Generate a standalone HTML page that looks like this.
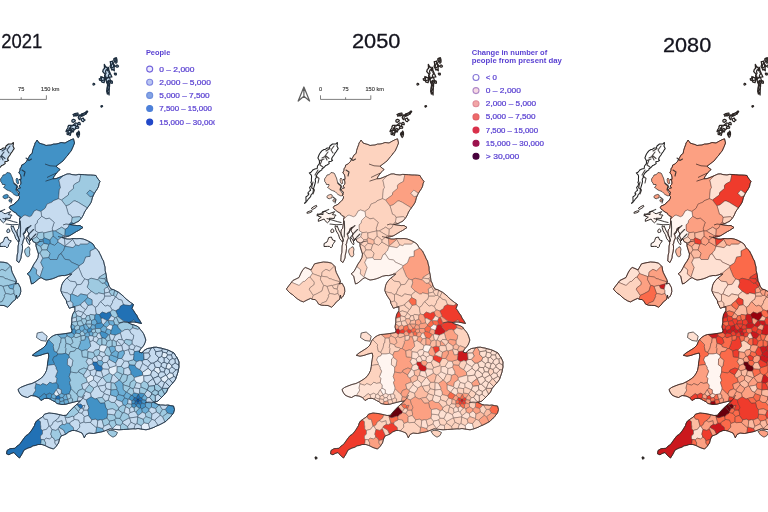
<!DOCTYPE html>
<html><head><meta charset="utf-8"><title>Population maps</title>
<style>
html,body{margin:0;padding:0;background:#fff;}
body{width:768px;height:512px;overflow:hidden;font-family:"Liberation Sans",sans-serif;}
svg{display:block;filter:blur(0.4px)}
.t{font-family:"Liberation Sans",sans-serif;font-size:20.5px;fill:#14141e;stroke:#14141e;stroke-width:0.3px;}
.lg{font-family:"Liberation Sans",sans-serif;font-size:7.2px;fill:#5a41d2;stroke:#5a41d2;stroke-width:0.22px;}
.lgt{font-family:"Liberation Sans",sans-serif;font-size:7.2px;font-weight:bold;fill:#5a41d2;}
.sb{font-family:"Liberation Sans",sans-serif;font-size:5.6px;fill:#3a3a3a;stroke:#3a3a3a;stroke-width:0.15px;}
</style></head><body>
<svg width="768" height="512" viewBox="0 0 768 512">
<rect width="768" height="512" fill="#ffffff"/>
<g transform="translate(-324.0,0)" stroke="#24384d" stroke-width="0.45" stroke-linejoin="round">
<path d="M361.0,140.0 362.4,141.9 363.0,143.0 366.0,144.0 368.0,144.5 370.0,145.5 372.1,145.2 375.0,145.0 377.4,144.1 380.0,144.0 382.1,143.6 385.0,142.5 389.0,143.0 392.5,141.0 395.1,139.7 397.5,138.8 398.5,143.0 397.2,146.4 396.0,149.0 395.0,151.3 393.2,153.0 392.0,155.0 390.5,156.6 388.7,158.8 387.0,161.0 385.3,162.2 383.0,164.0 380.0,166.2 382.1,168.1 384.0,169.5 382.0,171.6 380.5,173.0 378.0,176.5 377.0,178.8 380.0,178.6 383.0,177.5 387.0,175.8 391.0,174.0 393.8,173.9 396.0,174.6 400.0,175.0 402.7,174.4 405.0,174.5 408.5,174.7 412.0,175.0 414.4,175.0 417.6,175.2 420.0,175.5 421.1,177.7 422.6,179.7 424.0,181.5 423.0,183.7 422.6,186.2 421.5,188.5 420.2,190.5 418.4,193.2 417.5,195.0 416.3,197.8 415.7,200.4 415.0,202.5 413.4,205.1 412.0,207.0 410.3,209.3 408.5,212.0 407.4,214.8 406.0,217.3 403.0,221.0 400.6,222.2 398.0,223.5 394.0,224.5 396.3,225.0 399.0,225.3 401.2,225.6 404.0,225.5 407.0,227.5 404.9,228.9 402.5,230.5 400.5,231.5 398.0,233.0 394.0,235.5 391.4,236.5 389.0,237.0 386.0,237.5 388.4,238.4 391.0,239.0 394.1,239.1 397.0,238.5 400.9,238.7 404.0,238.5 407.2,239.0 410.0,240.0 414.0,242.0 417.0,244.0 419.0,247.5 420.9,249.5 422.5,251.0 423.7,253.5 425.0,256.0 426.2,258.9 427.5,261.0 428.1,263.9 429.0,267.0 429.1,270.4 430.0,274.0 430.6,277.8 431.0,281.0 432.3,283.4 433.0,286.0 435.0,289.0 437.9,289.8 440.0,291.0 442.3,292.1 443.9,293.3 446.0,295.0 448.3,297.1 449.7,298.7 452.0,300.5 454.6,302.5 457.5,304.5 456.0,308.5 457.5,310.4 459.0,313.0 460.8,315.3 462.0,318.0 463.7,320.4 465.5,323.5 461.0,322.5 458.1,322.0 456.0,322.0 452.0,322.5 454.9,324.1 458.0,325.0 460.6,326.0 462.5,327.0 464.2,329.4 466.0,331.5 467.5,333.6 468.5,336.0 469.8,340.0 469.1,342.4 468.0,345.0 466.3,347.2 464.5,349.0 463.0,352.0 466.0,353.0 468.0,350.5 471.5,348.5 474.5,348.1 477.5,347.3 480.4,347.2 483.0,347.8 485.1,348.1 488.0,349.0 490.3,349.5 493.0,350.5 495.1,351.5 498.0,353.0 499.7,355.8 501.3,358.0 503.0,362.0 502.9,364.4 503.0,367.0 502.4,369.6 502.0,372.0 500.5,376.5 499.5,379.4 498.0,381.5 496.2,383.7 494.5,385.5 492.0,388.5 490.5,392.0 487.5,395.5 484.5,398.5 482.0,401.0 478.0,402.5 482.0,404.5 484.4,405.0 487.0,405.0 489.3,405.3 492.0,405.0 494.8,405.7 497.5,406.0 498.5,409.5 497.5,413.0 495.8,415.1 494.0,417.5 492.0,419.0 490.0,421.3 486.0,423.5 483.0,425.0 480.1,426.2 478.0,427.3 474.0,428.8 470.0,429.8 466.0,429.2 462.0,428.5 459.5,428.9 457.0,428.8 454.1,429.0 452.0,429.2 447.5,429.5 443.0,429.8 438.5,429.3 434.0,428.8 431.0,430.0 427.0,431.5 424.5,432.1 422.0,432.5 417.5,433.5 413.0,433.0 410.0,434.5 408.3,437.8 407.3,435.4 406.0,433.0 403.6,432.0 401.0,431.0 398.6,430.5 396.0,430.5 392.5,432.0 390.0,434.0 387.5,435.1 385.0,436.0 383.5,439.0 382.5,443.0 380.0,446.5 377.5,449.0 373.0,447.5 369.0,445.5 366.0,444.5 362.0,444.5 359.3,445.5 357.0,445.8 354.7,447.3 352.0,448.0 348.0,450.0 346.0,454.0 343.5,458.0 340.5,455.5 338.0,452.5 335.0,453.5 333.0,454.8 330.5,453.8 331.0,450.5 334.0,448.7 336.3,448.5 339.0,448.3 341.1,446.0 343.5,444.5 346.0,441.0 348.5,437.5 350.1,435.6 352.5,434.2 354.4,431.8 355.8,430.0 357.3,427.5 358.5,425.5 359.2,423.0 360.5,421.0 364.0,418.5 366.5,417.0 368.5,414.2 373.0,413.0 375.6,413.3 378.0,413.5 382.0,414.3 384.5,414.9 387.0,415.5 390.5,415.3 392.5,412.5 395.5,409.3 398.5,406.3 401.5,403.8 404.5,401.0 401.0,401.3 397.0,402.3 393.0,403.3 390.0,404.2 386.0,404.5 383.3,404.0 381.0,403.5 379.1,401.8 376.5,400.5 374.4,399.2 372.0,398.3 368.5,398.5 365.0,400.5 362.5,397.5 359.0,396.0 355.0,395.5 351.5,397.5 348.0,396.5 345.0,395.0 343.0,392.0 342.0,389.5 344.5,387.5 348.0,386.0 352.0,384.5 356.0,383.5 360.0,381.5 364.0,379.0 367.0,376.5 369.0,373.5 370.5,370.5 371.3,366.5 371.6,363.0 372.2,359.5 372.8,356.0 372.2,353.0 368.0,354.0 364.0,355.4 360.0,356.2 356.3,355.3 359.0,353.0 363.0,350.5 367.0,348.0 370.0,345.0 371.5,341.0 374.5,337.5 377.5,335.6 380.5,334.5 384.0,334.3 388.0,333.8 392.0,333.2 395.5,332.6 396.0,330.5 395.0,327.0 395.8,322.3 395.8,318.4 396.6,314.5 398.9,310.6 398.9,306.7 395.9,307.4 393.4,308.3 391.9,305.2 390.8,303.2 390.3,300.5 388.6,297.9 387.2,295.8 385.6,292.7 384.8,290.3 385.6,285.6 386.6,283.2 388.0,281.0 391.0,277.8 393.5,276.2 395.8,273.9 393.7,274.2 391.0,275.0 388.6,275.6 386.0,275.5 382.5,276.2 379.0,277.8 376.2,278.8 373.0,279.6 370.0,280.0 367.4,278.9 365.0,277.5 362.5,279.0 360.0,281.2 358.0,282.9 355.5,284.0 354.5,280.0 353.8,276.2 351.2,273.8 354.0,271.5 356.2,267.5 358.0,264.0 360.0,261.2 362.0,257.5 362.5,254.0 361.2,250.0 360.0,246.0 360.0,243.0 357.0,241.5 355.5,238.0 354.5,240.5 353.5,238.2 352.5,236.0 353.0,234.1 352.3,232.5 351.0,231.0 351.5,228.7 352.5,227.0 350.5,228.0 349.9,229.0 349.5,231.5 349.1,233.0 347.5,234.1 348.0,236.5 348.4,237.9 347.0,241.0 346.6,243.7 345.8,244.1 346.5,246.0 346.5,248.6 346.0,252.0 345.2,255.3 345.0,258.0 344.1,260.1 343.0,262.5 340.8,261.0 341.0,257.8 341.2,255.0 341.9,252.4 342.0,249.0 342.1,246.0 342.8,243.0 342.0,241.1 343.1,240.1 342.5,238.0 341.1,235.4 341.0,233.5 341.1,231.2 341.5,229.5 342.7,228.4 343.0,226.0 343.5,223.0 343.5,220.5 343.6,218.5 344.5,216.8 341.8,215.4 341.0,214.5 340.5,213.3 338.0,212.0 336.9,211.2 335.5,210.0 334.5,209.5 333.3,207.6 334.1,206.0 336.0,205.3 338.4,204.1 339.0,203.0 341.5,201.0 342.0,200.5 343.5,198.0 343.4,196.4 342.0,195.0 342.7,194.3 343.5,192.0 341.7,190.8 341.5,189.5 342.4,188.4 344.5,188.0 343.0,186.0 344.7,184.3 345.0,183.0 344.6,180.2 343.0,179.5 345.1,179.3 345.0,177.0 344.3,174.3 342.8,173.0 343.9,170.5 344.1,168.3 345.2,167.5 345.7,165.0 348.0,164.0 348.7,163.3 350.7,161.2 351.3,159.8 353.0,157.0 354.2,154.8 356.2,153.4 356.6,150.6 357.7,147.2 358.8,144.4 359.0,143.0 360.6,141.1Z" fill="#c6dbef"/>
<path d="M286.4,289.0 289.0,285.5 292.9,280.5 296.0,279.0 299.0,277.5 301.0,273.0 303.0,269.5 305.2,267.5 308.0,268.5 311.0,270.0 313.0,266.5 314.6,263.8 319.0,262.8 323.4,262.0 328.0,262.3 331.6,263.2 335.1,266.7 335.5,270.0 336.3,272.6 338.0,276.0 339.8,279.6 340.5,282.0 339.0,284.0 342.1,283.3 344.5,287.8 344.8,291.5 343.9,294.9 342.5,297.0 341.0,298.4 340.5,295.0 339.5,299.5 336.3,301.9 334.0,305.0 331.6,307.2 328.0,305.5 324.5,305.4 321.5,305.2 318.7,304.2 317.0,301.5 315.2,299.5 313.0,299.5 310.5,298.4 307.0,300.0 303.4,301.9 300.5,300.8 297.6,299.0 295.0,297.0 292.9,294.9 290.0,293.0 288.0,291.0Z" fill="#c6dbef"/>
<path d="M417,361.9 416.2,363.9 418.3,366.4 418.6,369.2 419.7,369.8 420.5,370.9 425.3,371.3 426.8,368.7 425.6,365.9 423.8,365.7 421.8,364.3 421.1,362Z" fill="#2171b5"/>
<path d="M441.7,357.5 434.9,354.9 433,356.4 433,359.5 439.7,363.2 442.2,358.4Z" fill="#6baed6"/>
<path d="M436,346 432.7,347.2 435.3,353.6 439.6,350.4 439.1,346.7Z" fill="#6baed6"/>
<path d="M435.3,353.6 432.7,347.2 431,346.7 428.2,352.2 429.8,355.2 433,356.4 434.9,354.9Z" fill="#9ecae1"/>
<path d="M453.2,364.6 452.5,367.2 454.7,371.5 454.8,374.1 456.5,375.1 458.3,377.6 466.8,375.2 466.4,372.3 463.9,369.4 463.4,369.4 459.8,367.3 459,365.2Z" fill="#4292c6"/>
<path d="M458.3,377.6 456.5,375.1 454.8,374.1 451.5,375.2 450.5,380.5 446.7,383.1 446.8,384.3 447.2,384.8 453.6,386.8 454.4,382.4 458.3,379.8Z" fill="#9ecae1"/>
<path d="M443.1,380.1 438.4,383.2 440.9,388 440.6,389.4 442.2,392.1 442.2,394.6 447.9,396 450.3,392.1 447.3,389.6 447.2,384.8 446.8,384.3 446.7,383.1 443.7,380.2Z" fill="#6baed6"/>
<path d="M447.9,396 442.2,394.6 440.4,396.7 440.5,399.7 446.1,401.8 448.7,397.9Z" fill="#6baed6"/>
<path d="M432.3,400.1 429.3,401.1 428.5,402.7 429.9,408.2 431.3,409.3 431.5,409.6 436.6,408.8 440.3,410.8 442.3,409.9 442.9,407.5 438.7,402.4 438.4,402.5 435.3,402.3Z" fill="#9ecae1"/>
<path d="M422.4,386.3 421.4,385.8 417.6,388 417.1,389.9 414.5,393.1 415,396.7 419,399.1 420.9,398.6 421.4,398.1 426.3,397.3 428.3,393.7 427.7,392.2 424.9,391.1Z" fill="#c6dbef"/>
<path d="M409.1,405.2 406.6,405.6 405.9,408.3 407.4,409.4Z" fill="#c6dbef"/>
<path d="M497.5,413 498.5,409.5 497.5,406 494.8,405.7 492.3,405.1 492.2,405.6 489.2,409.3 491.3,413.1 496.4,414.3Z" fill="#4292c6"/>
<path d="M484.1,415.3 486.5,416.8 491.3,413.1 489.2,409.3 486.4,409.4 483.7,414Z" fill="#9ecae1"/>
<path d="M491.3,413.1 486.5,416.8 488.9,421.9 490,421.3 492,419 494,417.5 496.4,414.3Z" fill="#9ecae1"/>
<path d="M479.4,401.1 477.1,401.6 475.6,403.1 475.3,407.3 479.7,408.6 483.2,404.7 482,404.5 478,402.5 480.6,401.5Z" fill="#6baed6"/>
<path d="M452.1,361.4 453.2,364.6 459,365.2 460.6,361.7 457.5,359.6 452.2,361.2Z" fill="#9ecae1"/>
<path d="M460.1,401.1 462,402.5 463.8,400.9 462.9,399 461.1,399Z" fill="#08519c"/>
<path d="M458,397.6 457.4,400 459.3,401.2 460.1,401.1 461.1,399 460.2,397.7Z" fill="#2171b5"/>
<path d="M462.9,399 463.8,400.9 465.4,401.3 466.7,399.6 466,397.9 464,397.4Z" fill="#2171b5"/>
<path d="M458.3,403.7 460.2,405.2 462,403.5 462,402.5 460.1,401.1 459.3,401.2Z" fill="#2171b5"/>
<path d="M462,403.5 464.5,404.8 466.2,403.3 465.4,401.3 463.8,400.9 462,402.5Z" fill="#2171b5"/>
<path d="M462.5,393.8 460.2,397.7 461.1,399 462.9,399 464,397.4Z" fill="#2171b5"/>
<path d="M457.4,400 455.7,400.7 455.7,404 458.3,403.7 459.3,401.2Z" fill="#4292c6"/>
<path d="M466.7,399.6 465.4,401.3 466.2,403.3 469.4,404.1 470.5,402.4 470.1,400.1Z" fill="#4292c6"/>
<path d="M460.2,405.2 460.2,406.2 463.2,408.2 464.5,408.1 464.5,404.8 462,403.5Z" fill="#4292c6"/>
<path d="M462.5,393.8 457.9,392.7 456,394.9 458,397.6 460.2,397.7Z" fill="#4292c6"/>
<path d="M466,397.9 468.7,394.5 468.6,393.8 463.6,392.9 462.5,393.8 464,397.4Z" fill="#4292c6"/>
<path d="M456,394.9 455.1,395.1 452.6,398.9 455.7,400.7 457.4,400 458,397.6Z" fill="#4292c6"/>
<path d="M466,397.9 466.7,399.6 470.1,400.1 471.3,397.7 468.7,394.5Z" fill="#6baed6"/>
<path d="M455.7,404 455.5,404.3 455.8,406.8 458,408 460.2,406.2 460.2,405.2 458.3,403.7Z" fill="#4292c6"/>
<path d="M464.5,408.1 465.9,408.9 469.6,406.8 469.4,404.1 466.2,403.3 464.5,404.8Z" fill="#4292c6"/>
<path d="M448.4,353.5 445.6,358.6 448.4,361.1 452.1,361.4 452.2,361.2 457.5,359.6 458.1,354.9 457.8,354.5 454.3,354.8 452.5,349.5 447.9,351Z" fill="#c6dbef"/>
<path d="M440.6,345.6 445.7,345.7 445.9,345.4 441.2,340.8 440.1,341.6Z" fill="#c6dbef"/>
<path d="M474.2,356 471.2,359.4 474.9,363.3 477.9,363.1 478.4,362.4 481.8,360.7 482.8,357.6 479.6,354.3 479.8,351.7 477.2,347.4 475.3,347.9 472.6,352.8Z" fill="#c6dbef" stroke-width="0.6"/>
<path d="M478.4,385.7 479.8,384.2 477.1,378.4 471.4,383 472.8,386.3Z" fill="#c6dbef" stroke-width="0.6"/>
<path d="M429,267 428.1,263.9 427.5,261 426.2,258.9 425,256 422.5,251 419.6,248.1 414,250.9 414,256.3 409.6,256.9 407.4,262.8 402.9,265.8 402.5,267.1 406.4,276.6 407.3,277.3 408.7,279 412,279.9 415,278.2 421.4,279.8 422.1,279.6 423,278.1 423.2,277.2 429.8,273.1 429.1,270.4Z" fill="#c6dbef"/>
<path d="M428.9,278.9 430.4,276.6 429.8,273.1 423.2,277.2 423,278.1Z" fill="#9ecae1"/>
<path d="M428.9,278.9 429.9,281.2 431,281 430.4,276.6Z" fill="#9ecae1"/>
<path d="M422.1,279.6 425.9,283.4 428.6,283.2 429.9,281.2 428.9,278.9 423,278.1Z" fill="#9ecae1"/>
<path d="M431.6,286.7 432.9,285.7 432.3,283.4 431,281 429.9,281.2 428.6,283.2Z" fill="#6baed6"/>
<path d="M431.5,286.9 431.6,286.7 428.6,283.2 425.9,283.4 422.1,279.6 421.4,279.8 415,278.2 412,279.9 412.7,282.9 411.1,287.1 415.4,291.4 415.6,291.4 419.7,294.1 421.4,293.9 422.6,292.9 428.2,294 428.7,293.2 428.3,289Z" fill="#9ecae1"/>
<path d="M433.3,292.1 433.7,290.4 431.5,286.9 428.3,289 428.7,293.2Z" fill="#c6dbef"/>
<path d="M431.6,286.7 431.5,286.9 433.7,290.4 437.1,289.6 435,289 433,286 432.9,285.7Z" fill="#c6dbef"/>
<path d="M437.6,295.5 438.7,290.3 437.9,289.8 437.1,289.6 433.7,290.4 433.3,292.1 435.4,295.5Z" fill="#9ecae1"/>
<path d="M437.6,295.5 439.5,297 439.8,297 442.2,292.1 438.7,290.3Z" fill="#9ecae1"/>
<path d="M428.7,296.2 434.6,296.2 435.4,295.5 433.3,292.1 428.7,293.2 428.2,294Z" fill="#c6dbef"/>
<path d="M402.5,267.1 395.3,273 393.5,273.5 392.4,274.6 393.7,274.2 395.8,273.9 393.5,276.2 390.9,277.9 394.2,281.2 399.4,281.8 400.8,284.9 405.2,284.3 408.7,279 407.3,277.3 406.4,276.6Z" fill="#c6dbef"/>
<path d="M399.4,287.7 400.8,284.9 399.4,281.8 394.2,281.2 390.9,277.9 388,281 386.6,283.2 385.6,285.6 384.8,290.3 385.3,291.8 391.8,293.1 392.9,294.1 394.5,294.6 396,294 398.5,288.1Z" fill="#c6dbef"/>
<path d="M405.2,284.3 400.8,284.9 399.4,287.7 398.5,288.1 396,294 401.5,296.4 402.9,295.9 404.5,293.9 411.4,295.3 411.8,294.4 415.4,291.4 411.1,287.1 412.7,282.9 412,279.9 408.7,279Z" fill="#c6dbef"/>
<path d="M391.8,293.1 385.3,291.8 385.6,292.7 387.2,295.8 390.3,300.5 390.6,302.1 394.5,301 394.5,294.6 392.9,294.1Z" fill="#c6dbef"/>
<path d="M411.6,297.5 411.4,295.3 404.5,293.9 402.9,295.9 401.5,296.4 396,294 394.5,294.6 394.5,301 396.7,303.2 396.9,307.1 404.8,304.8 405,303.8 408.2,301.2 408.6,301.1Z" fill="#6baed6"/>
<path d="M396.9,307.2 396.7,303.2 394.5,301 390.6,302.1 390.8,303.2 393.4,308.3 395.9,307.4Z" fill="#c6dbef"/>
<path d="M411.4,295.3 411.6,297.5 416,299.8 416,304.6 419.3,307.3 421.1,306.5 424.2,302.1 424.8,301.8 425.1,301.2 427.9,299.2 428.7,296.2 428.2,294 422.6,292.9 421.4,293.9 419.7,294.1 415.6,291.4 411.8,294.4Z" fill="#c6dbef"/>
<path d="M439.5,297 437.6,295.5 435.4,295.5 434.6,296.2 428.7,296.2 427.9,299.2 425.1,301.2 424.8,301.8 429.2,306.2 431.6,305.3 434.2,306.6 436.6,302.6 436.2,302Z" fill="#c6dbef"/>
<path d="M442.1,299.2 445.8,300.2 447.4,304.6 449,305 449.1,305.1 453.9,305.6 456.6,303.9 454.6,302.5 449.7,298.7 448.3,297.1 446,295 442.2,292.1 439.8,297 441.1,297.7Z" fill="#c6dbef"/>
<path d="M447.4,304.6 445.8,300.2 442.1,299.2 441.1,297.7 439.5,297 436.2,302 436.6,302.6 434.2,306.6 436.2,310.2 437.1,310 439.7,310.9 443.6,308.6 444.3,306.3Z" fill="#c6dbef"/>
<path d="M449,305 447.4,304.6 444.3,306.3 443.6,308.6 439.7,310.9 441.7,315.4 441.4,316.3 447.7,321.1 447.8,321.4 451.6,321.9 452.2,322.5 454.1,322.2 458,319.9 459.3,322.2 465.5,323.5 463.7,320.4 462,318 460.8,315.3 459,313 457.5,310.4 456,308.5 457.5,304.5 456.6,303.9 453.9,305.6 449.1,305.1Z" fill="#2171b5"/>
<path d="M411.9,305.3 410.2,309.1 409.4,309.4 407.4,312.6 407.4,313 410.8,315.9 413.4,315.4 414.3,314.4 419,315.2 420.4,314.1 419.3,307.3 416,304.6Z" fill="#c6dbef"/>
<path d="M434,312.1 436.2,310.2 434.2,306.6 431.6,305.3 429.2,306.2 424.8,301.8 424.2,302.1 421.1,306.5 419.3,307.3 420.4,314.1 423.3,314.7 426.3,312.1 430.2,313.5 432.7,312.2Z" fill="#c6dbef"/>
<path d="M396.9,307.1 396.9,307.2 398.9,306.7 398.9,310.6 398.4,311.4 399.3,311.9 402.4,310.9 407.4,312.6 409.4,309.4 405.1,306.1 404.8,304.8Z" fill="#c6dbef"/>
<path d="M399.3,311.9 400.8,315.9 405,316.8 407.4,313 407.4,312.6 402.4,310.9Z" fill="#c6dbef"/>
<path d="M400.3,317.1 400.8,315.9 399.3,311.9 398.4,311.4 396.6,314.5 395.8,318.6Z" fill="#9ecae1"/>
<path d="M400.3,317.1 395.8,318.6 395.8,322.4 400.7,321.3Z" fill="#c6dbef"/>
<path d="M401.1,321.6 405.3,320.6 406,318.8 405,316.8 400.8,315.9 400.3,317.1 400.7,321.3Z" fill="#9ecae1"/>
<path d="M409.4,318.8 410.8,315.9 407.4,313 405,316.8 406,318.8Z" fill="#c6dbef"/>
<path d="M410.7,320.9 414.5,320 413.4,315.4 410.8,315.9 409.4,318.8Z" fill="#9ecae1"/>
<path d="M405.3,320.6 407.6,325.1 409.8,324.1 410.7,320.9 409.4,318.8 406,318.8Z" fill="#9ecae1"/>
<path d="M403.9,326.4 407.6,325.1 405.3,320.6 401.1,321.6 401.8,325.1Z" fill="#9ecae1"/>
<path d="M418.6,319.4 419,315.2 414.3,314.4 413.4,315.4 414.5,320 415.5,320.6Z" fill="#9ecae1"/>
<path d="M415.5,320.6 414.5,320 410.7,320.9 409.8,324.1 410.1,324.2 415.5,324.2Z" fill="#9ecae1"/>
<path d="M401.1,321.6 400.7,321.3 395.8,322.4 395.6,323.7 399,326.5 401.8,325.1Z" fill="#9ecae1"/>
<path d="M454.1,322.2 456,322 458.1,322 459.3,322.2 458,319.9ZM455.1,324.2 456.8,325.3 457.3,324.8Z" fill="#6baed6"/>
<path d="M441.4,316.3 441.7,315.4 439.7,310.9 437.1,310 436.2,310.2 434,312.1 435.4,315.8 438.9,317.8 440.5,317.3Z" fill="#9ecae1"/>
<path d="M443.2,323.6 440.5,317.3 438.9,317.8 437.4,320.7 438.7,324.6 441.6,325.2Z" fill="#9ecae1"/>
<path d="M447.7,321.1 441.4,316.3 440.5,317.3 443.2,323.6 447,322.2 447.8,321.4Z" fill="#9ecae1"/>
<path d="M426.3,312.1 423.3,314.7 425,318.3 426.8,318.3 430.8,320.6 432.2,320.3 435.4,315.8 434,312.1 432.7,312.2 430.2,313.5Z" fill="#2171b5"/>
<path d="M423.3,314.7 420.4,314.1 419,315.2 418.6,319.4 420.5,320.9 421,323.4 421.4,323.6 425.7,323 425.1,318.4 425,318.3Z" fill="#4292c6"/>
<path d="M418.9,325.3 421,323.4 420.5,320.9 418.6,319.4 415.5,320.6 415.5,324.2 415.8,324.7Z" fill="#6baed6"/>
<path d="M421.4,323.6 421,323.4 418.9,325.3 419.6,328.5 424.5,328.6 427.7,325.8 427.5,324.5 425.7,323Z" fill="#4292c6"/>
<path d="M432.2,320.3 430.8,320.6 427.5,324.5 427.7,325.8 430.5,327.3 433.7,324.6 432.3,320.5Z" fill="#6baed6"/>
<path d="M437.4,320.7 432.3,320.5 433.7,324.6 436.7,325.6 438.7,324.6Z" fill="#6baed6"/>
<path d="M438.7,324.6 436.7,325.6 435.8,329.4 434.9,330 434.5,334.1 439.2,335.2 444.3,333.1 445.8,331.3 442.2,327.3 441.6,325.2Z" fill="#4292c6"/>
<path d="M431,328.7 430.5,327.3 427.7,325.8 424.5,328.6 425,331.3 429.3,332.6Z" fill="#6baed6"/>
<path d="M434.9,330 431,328.7 429.3,332.6 432.5,334.8 433.3,334.8 434.5,334.1Z" fill="#6baed6"/>
<path d="M425,331.3 423.6,333 426,338 426.7,337.9 429.4,338.7 432.5,334.8 429.3,332.6Z" fill="#4292c6"/>
<path d="M447.8,321.4 447,322.2 443.2,323.6 441.6,325.2 442.2,327.3 445.8,331.3 446.8,331.2 448.9,329.7 451.5,329.4 453.8,330.3 456.8,327.9 456.8,325.3 455.1,324.2 452,322.5 452.2,322.5 451.6,321.9Z" fill="#9ecae1"/>
<path d="M456.8,325.3 456.8,327.9 461.9,329.4 463.5,328.4 462.5,327 460.6,326 457.3,324.8Z" fill="#9ecae1"/>
<path d="M448.9,329.7 446.8,331.2 445.8,331.3 444.3,333.1 446.2,339.8 448.1,341.1 450.1,339.4 456,340.4 457.2,339.4 457.8,335.2 454.9,333.2 453.8,330.3 451.5,329.4Z" fill="#c6dbef"/>
<path d="M457.8,335.2 457.2,339.4 456,340.4 456,343.9 459.2,346.3 460.4,345.9 465.6,347.9 466.3,347.2 468,345 469.1,342.4 469.8,340 468.5,336 467.5,333.6 466,331.5 463.5,328.4 461.9,329.4 456.8,327.9 453.8,330.3 454.9,333.2Z" fill="#c6dbef"/>
<path d="M448.1,341.1 448,342.4 453,346.1 456,343.9 456,340.4 450.1,339.4Z" fill="#9ecae1"/>
<path d="M457.7,349.9 459.2,346.3 456,343.9 453,346.1 453,349Z" fill="#c6dbef"/>
<path d="M446.8,350.3 447.9,351 452.5,349.5 453,349 453,346.1 448,342.4 445.7,345.7Z" fill="#c6dbef"/>
<path d="M452.5,349.5 454.3,354.8 457.8,354.5 458.5,351.6 457.7,349.9 453,349Z" fill="#c6dbef"/>
<path d="M460.4,345.9 459.2,346.3 457.7,349.9 458.5,351.6 463.5,351 464.5,349 465.6,347.9Z" fill="#c6dbef"/>
<path d="M457.8,354.5 458.1,354.9 457.5,359.6 460.6,361.7 463.9,360.6 466.1,361.2 468.1,359.6 467.6,352.9 466.8,352.1 466,353 463,352 463.5,351 458.5,351.6Z" fill="#4292c6"/>
<path d="M398.3,334.7 399.8,333.2 400.1,330.5 398.5,328.6 395.7,329.3 396,330.5 395.6,332.4Z" fill="#4292c6"/>
<path d="M395.6,323.7 395,327 395.7,329.3 398.5,328.6 399,326.5Z" fill="#6baed6"/>
<path d="M390.8,335.8 395.5,338.1 398.1,336.5 398.3,334.7 395.6,332.4 395.5,332.6 390.6,333.4Z" fill="#6baed6"/>
<path d="M399,326.5 398.5,328.6 400.1,330.5 403.4,329 403.9,326.4 401.8,325.1Z" fill="#9ecae1"/>
<path d="M400.1,330.5 399.8,333.2 403.9,333.7 405.1,331.4 403.4,329Z" fill="#6baed6"/>
<path d="M403.4,329 405.1,331.4 406.7,331.2 408.7,328.8 407.6,325.1 403.9,326.4Z" fill="#6baed6"/>
<path d="M409,334.1 411.9,332.1 411.3,330.2 408.7,328.8 406.7,331.2Z" fill="#6baed6"/>
<path d="M403.9,333.7 404.8,335.8 405.1,336 408.7,335.4 409,334.1 406.7,331.2 405.1,331.4Z" fill="#9ecae1"/>
<path d="M413,328.1 410.1,324.2 409.8,324.1 407.6,325.1 408.7,328.8 411.3,330.2Z" fill="#6baed6"/>
<path d="M414.6,327.7 413,328.1 411.3,330.2 411.9,332.1 412.7,332.5 415.4,331.8 416.1,329.4Z" fill="#4292c6"/>
<path d="M414.6,327.7 415.8,324.7 415.5,324.2 410.1,324.2 413,328.1Z" fill="#9ecae1"/>
<path d="M419.6,328.5 418.9,325.3 415.8,324.7 414.6,327.7 416.1,329.4 419.3,329Z" fill="#6baed6"/>
<path d="M419.3,329 416.1,329.4 415.4,331.8 417.1,333.2 419.7,332.1Z" fill="#9ecae1"/>
<path d="M415.4,331.8 412.7,332.5 413.6,335.7 416.8,336 417.1,333.2Z" fill="#6baed6"/>
<path d="M417.1,333.2 416.8,336 417.7,337.2 420.5,336.5 421.8,333.4 419.7,332.1Z" fill="#9ecae1"/>
<path d="M408.7,335.4 409.6,336.8 412.4,337.1 413.6,335.7 412.7,332.5 411.9,332.1 409,334.1Z" fill="#6baed6"/>
<path d="M425,331.3 424.5,328.6 424.4,328.5 419.6,328.5 419.3,329 419.7,332.1 421.8,333.4 423.6,333Z" fill="#9ecae1"/>
<path d="M412.4,337.1 409.6,336.8 408.8,339.8 405.2,340.4 404.1,341.7 404.4,342.7 402.1,348.5 405.4,350.8 405.8,350.9 409.7,349.8 410.8,350.2 414.8,346.2 413.9,341.6 414,341.5Z" fill="#6baed6"/>
<path d="M404.8,335.8 399.9,337.8 398.1,336.5 395.5,338.1 395.5,338.5 397,342.5 394.3,344.7 395.5,347 399.9,348 400.4,348.5 402.1,348.5 404.4,342.7 404.1,341.7 405.2,340.4 405.1,336Z" fill="#9ecae1"/>
<path d="M399.9,337.8 404.8,335.8 403.9,333.7 399.8,333.2 398.3,334.7 398.1,336.5Z" fill="#9ecae1"/>
<path d="M417.7,337.2 416.8,340.5 420.6,342.8 422.6,338.8 420.5,336.5Z" fill="#c6dbef"/>
<path d="M420.6,342.8 416.8,340.5 414,341.5 413.9,341.6 414.8,346.2 410.8,350.2 412.1,351.8 417.4,352.5 419.1,350.2 423,349.4 424.2,345.5 420.8,343.2Z" fill="#c6dbef"/>
<path d="M422.6,338.8 420.6,342.8 420.8,343.2 424.2,345.5 426,344.9 426,338Z" fill="#9ecae1"/>
<path d="M426,344.9 429.9,345.4 431.3,341.2 429.4,338.7 426.7,337.9 426,338Z" fill="#9ecae1"/>
<path d="M429.4,338.7 431.3,341.2 434.5,339.9 433.3,334.8 432.5,334.8Z" fill="#9ecae1"/>
<path d="M444.3,333.1 439.2,335.2 437,340 440.1,341.6 441.2,340.8 442.6,339.4 446.2,339.8Z" fill="#c6dbef"/>
<path d="M445.9,345.4 448,342.4 448.1,341.1 446.2,339.8 442.6,339.4 441.2,340.8Z" fill="#c6dbef"/>
<path d="M437,340 436,340.4 436,346 439.1,346.7 440.6,345.6 440.1,341.6Z" fill="#9ecae1"/>
<path d="M436,340.4 434.5,339.9 431.3,341.2 429.9,345.4 431,346.7 432.7,347.2 436,346Z" fill="#9ecae1"/>
<path d="M335.5,210 338,212 340.5,213.3 341,214.5 341.8,215.4 344.5,216.8 343.6,218.5 343.6,219.4 347.1,215.9 349,215.1 353.5,216.8 355.5,215.8 358.3,210.9 360.6,210 364.9,211.5 369.2,208.2 371.1,204.1 376.1,202.1 376.9,200.9 382.5,198.7 383.4,189 384.2,188.4 384.5,187.5 382.9,180.1 387.4,175.6 383,177.5 380,178.6 377,178.8 378,176.5 380.5,173 384,169.5 382.1,168.1 380,166.2 387,161 390.5,156.6 392,155 393.2,153 395,151.3 397.2,146.4 398.5,143 397.5,138.8 395.1,139.7 392.5,141 389,143 385,142.5 382.1,143.6 380,144 377.4,144.1 375,145 372.1,145.2 370,145.5 368,144.5 366,144 363,143 362.4,141.9 361,140 360.6,141.1 359,143 358.8,144.4 357.7,147.2 356.6,150.6 356.2,153.4 354.2,154.8 351.3,159.8 350.7,161.2 348,164 345.7,165 345.2,167.5 344.1,168.3 343.9,170.5 342.8,173 344.3,174.3 345,177 345.1,179.3 343,179.5 344.6,180.2 345,183 344.7,184.3 343,186 344.5,188 342.4,188.4 341.5,189.5 341.7,190.8 343.5,192 342.7,194.3 342,195 343.4,196.4 343.5,198 342,200.5 339,203 338.4,204.1 336,205.3 334.1,206 333.3,207.6 334.5,209.5Z" fill="#4292c6"/>
<path d="M404.9,174.5 402.7,174.4 400,175 396,174.6 393.8,173.9 391,174 387.4,175.6 382.9,180.1 384.5,187.5 384.2,188.4 383.4,189 382.5,198.7 385.5,200 392.4,195 392.7,192.6 397.6,188.4 397.4,185.8 398.6,184.1 403.5,181.4Z" fill="#c6dbef"/>
<path d="M412,175 404.9,174.5 403.5,181.4 398.6,184.1 397.4,185.8 397.6,188.4 392.7,192.6 392.4,195 385.5,200 389.6,205.6 390,205.8 392.9,204.9 397.8,201 399.1,200.9 402.7,202.5 402.8,202.7 411.3,207.9 413.4,205.1 415,202.5 415.7,200.4 416.3,197.8 417.2,195.8 414.2,196.8 410.8,193.2 413.9,190.1 418.3,193.4 421.5,188.5 422.6,186.2 423,183.7 424,181.5 421.1,177.7 420,175.5 417.6,175.2 414.4,175Z" fill="#9ecae1"/>
<path d="M413.9,190.1 410.8,193.2 414.2,196.8 417.2,195.8 418.3,193.4Z" fill="#6baed6"/>
<path d="M402.8,202.7 402.7,202.5 399.1,200.9 397.8,201 392.9,204.9 390,205.8 392.4,214.2 394.8,215.3 396,217.4 403.5,216.7 405.3,218.1 406,217.3 407.4,214.8 408.5,212 411.3,207.9Z" fill="#c6dbef"/>
<path d="M403.5,216.7 396,217.4 395.4,222.4 397.6,223.6 398,223.5 403,221 405.3,218.1Z" fill="#9ecae1"/>
<path d="M376.1,202.1 371.1,204.1 369.2,208.2 364.9,211.5 365.7,216.3 370,218.9 373.3,218.2 378.2,222.3 376.2,228.3 376.7,231 379.3,231 385.7,227.2 389.1,229.4 392,227.6 393.9,223.3 395.4,222.4 396,217.4 394.8,215.3 392.4,214.2 390,205.8 389.6,205.6 385.5,200 382.5,198.7 376.9,200.9Z" fill="#c6dbef"/>
<path d="M378.2,222.3 373.3,218.2 370,218.9 365.7,216.3 361.6,220.4 361,223.2 359,224.8 359,230.4 362.1,232.7 366.5,232.2 367.8,233 376.7,230.9 376.2,228.3Z" fill="#c6dbef"/>
<path d="M343.6,219.4 343.5,223 342.7,228.4 341.5,229.5 341.1,231.2 341,233.5 341.1,235.4 342.5,238 343.1,240.1 342,241.1 342.8,243 342.1,246 341.9,252.4 341.2,255 340.8,261 343,262.5 345,258 345.2,255.3 346,252 346.5,248.6 346.5,246 345.8,244.1 346.6,243.7 347,241 348.4,237.9 347.5,234.1 349.1,233 349.5,231.5 349.9,229 350.5,228 352.5,227 351.5,228.7 351,231 352.3,232.5 353,234.1 352.5,236 354.5,240.5 355.5,238 356.5,240.3 356.5,239.3 360.8,236.8 362.1,232.7 359,230.4 359,224.8 361,223.2 361.6,220.4 365.7,216.3 364.9,211.5 360.6,210 358.3,210.9 355.5,215.8 353.5,216.8 349,215.1 347.1,215.9Z" fill="#c6dbef"/>
<path d="M392,227.6 389.1,229.4 388.7,235.4 392.6,236.1 394,235.5 400.5,231.5 402.5,230.5 407,227.5 404,225.5 401.2,225.6 396.3,225 394,224.5 397.6,223.6 395.4,222.4 393.9,223.3Z" fill="#4292c6"/>
<path d="M389.1,229.4 385.7,227.2 379.3,231 387.4,235.8 388.3,235.7 388.7,235.4Z" fill="#9ecae1"/>
<path d="M377,236.1 382,240.1 387.4,235.8 379.3,231 376.7,231Z" fill="#6baed6"/>
<path d="M368.1,237.8 367.8,233 366.5,232.2 362.1,232.7 360.8,236.8 363.9,239.9 367,239.3Z" fill="#9ecae1"/>
<path d="M377,236.1 376.7,230.9 367.8,233 368.1,237.8 373.9,240.2Z" fill="#9ecae1"/>
<path d="M382,242 382,240.1 377,236.1 373.9,240.2 374.1,243.5 378.6,245.4Z" fill="#6baed6"/>
<path d="M374.1,243.5 373.9,240.2 368.1,237.8 367,239.3 367.8,243.4 372.8,244.5Z" fill="#4292c6"/>
<path d="M367,239.3 363.9,239.9 361,244.5 364.7,246.8 367.8,243.4Z" fill="#6baed6"/>
<path d="M361,244.5 363.9,239.9 360.8,236.8 356.5,239.3 356.5,240.3 357,241.5 360,243 360,244.5Z" fill="#9ecae1"/>
<path d="M372.8,244.5 367.8,243.4 364.7,246.8 365.9,250 371,250Z" fill="#9ecae1"/>
<path d="M363.9,253.2 365.9,250 364.7,246.8 361,244.5 360,244.5 360,246 362.3,253.4Z" fill="#9ecae1"/>
<path d="M365.9,250 363.9,253.2 366.8,258.3 372.8,257.6 374.2,253.2 371,250Z" fill="#9ecae1"/>
<path d="M362.5,254 362,257.5 360,261.2 358,264 356.7,266.6 360.7,269.9 360.2,273.9 364,277.1 367.3,267.2 366.8,266.9 364.8,262.4 366.8,258.3 363.9,253.2 362.3,253.4Z" fill="#c6dbef"/>
<path d="M389.1,246.3 382,242 378.6,245.4 374.1,243.5 372.8,244.5 371,250 374.2,253.2 372.8,257.6 374,259.5 381.1,259.5 383.1,254.7 385.1,253.7 386.3,251.6 387.6,250.5Z" fill="#6baed6"/>
<path d="M388.3,235.7 387.4,235.8 382,240.1 382,242 389.1,246.3 389.2,246 388.5,238.4 386,237.5 388.4,237.1Z" fill="#c6dbef"/>
<path d="M396.8,239.4 396.8,238.6 394.1,239.1 391,239 388.5,238.4 389.2,246ZM388.3,235.7 388.4,237.1 391.4,236.5 392.6,236.1 388.7,235.4Z" fill="#c6dbef"/>
<path d="M397,247.7 399.9,245 396.8,239.4 389.2,246 389.1,246.3Z" fill="#c6dbef"/>
<path d="M411.3,244.2 414,242 410,240 407.2,239 404,238.5 400.9,238.7 396.8,238.6 396.8,239.4 399.9,245 402.9,245.7 404.5,244.2Z" fill="#c6dbef"/>
<path d="M419,247.5 417,244 414,242 411.3,244.2 404.5,244.2 402.9,245.7 399.9,245 397,247.7 389.1,246.3 387.6,250.5 386.3,251.6 385.1,253.7 388.8,259.3 393.7,260 395,262 402.6,265.4 402.9,265.8 407.4,262.8 409.6,256.9 414,256.3 414,250.9 419.6,248.1Z" fill="#6baed6"/>
<path d="M364,277.1 360.2,273.9 360.7,269.9 356.7,266.6 354,271.5 351.2,273.8 353.8,276.2 354.5,280 355.5,284 358,282.9 362.5,279 365,277.5 367.4,278.9 370,280 373,279.6 376.2,278.8 379,277.8 382.5,276.2 386,275.5 388.6,275.6 392.4,274.6 393.5,273.5 395.3,273 402.5,267.1 402.9,265.8 402.6,265.4 395,262 393.7,260 388.8,259.3 385.1,253.7 383.1,254.7 381.1,259.5 374,259.5 372.8,257.6 366.8,258.3 364.8,262.4 366.8,266.9 367.3,267.2Z" fill="#6baed6"/>
<path d="M348.5,437.5 343.5,444.5 341.1,446 339,448.3 334,448.7 331,450.5 330.5,453.8 333,454.8 335,453.5 338,452.5 340.5,455.5 343.5,458 346,454 348,450 352,448 354.7,447.3 357,445.8 359.3,445.5 362,444.5 364.7,444.5 365.4,439.4 364.5,438.5 364.5,436 366.5,434 366.5,430.4 364.8,428.9 364.8,425.6 364.5,425.3 364.5,421.6 362.2,419.8 360.5,421 359.2,423 358.5,425.5 355.8,430 352.5,434.2 350.1,435.6Z" fill="#2171b5"/>
<path d="M366.9,416.4 366.5,417 364,418.5 362.2,419.8 364.5,421.6 364.5,425.3 364.8,425.6 364.8,428.9 366.5,430.4 370.6,429.3 372.7,426.4 373.1,426.2 371.4,419.5 371.1,419.3 368.6,419.1Z" fill="#c6dbef"/>
<path d="M371.4,419.5 373.1,426.2 374.1,426.3 376.1,424.8 377.4,421.9 380,420.5 380.1,419.9 382.5,418.2 384,414.8 378,413.5 373,413 368.5,414.2 366.9,416.4 368.6,419.1 371.1,419.3Z" fill="#c6dbef"/>
<path d="M373.1,426.2 372.7,426.4 370.6,429.3 366.5,430.4 366.5,434 364.5,436 364.5,438.5 365.4,439.4 368.2,439.9 370.2,438.2 373.7,439 375.8,437.1 375.3,435 374.8,434.3 376,429.5 374.1,426.3Z" fill="#c6dbef"/>
<path d="M381.5,422 380,420.5 377.4,421.9 376.1,424.8 374.1,426.3 376,429.5 379.9,430.5 382.4,428.6 383.6,426.1 386.5,424.3 386.1,420.7 385.7,420.6Z" fill="#c6dbef"/>
<path d="M364.7,444.5 366,444.5 369.3,445.6 369.8,443 368.2,439.9 365.4,439.4Z" fill="#9ecae1"/>
<path d="M379,440.8 377.7,438.1 375.8,437.1 373.7,439 370.2,438.2 368.2,439.9 369.8,443 369.3,445.6 373,447.5 377.5,449 380,446.5 380.7,445.5 378.9,443Z" fill="#c6dbef"/>
<path d="M385,436 385.5,435.8 382.4,428.6 379.9,430.5 376,429.5 374.8,434.3 375.3,435 375.8,437.1 377.7,438.1 379,440.8 383.4,439.4Z" fill="#9ecae1"/>
<path d="M379,440.8 378.9,443 380.7,445.5 382.5,443 383.4,439.4Z" fill="#c6dbef"/>
<path d="M383,427.3 382.4,428.6 385.5,435.8 389.6,434.2 387.7,430Z" fill="#c6dbef"/>
<path d="M393.8,423.2 390.8,422.9 388.5,424.6 386.5,424.3 383.6,426.1 383,427.3 387.7,430 389.6,434.2 390,434 392.5,432 396,430.5 397.8,430.5 397.3,427.3 394.2,424.7Z" fill="#6baed6"/>
<path d="M386.1,420.7 386.5,424.3 388.5,424.6 390.8,422.9 389.2,417.2 389.2,416.9 388.7,415.4 387,415.5 384,414.8 382.5,418.2 380.1,419.9 380,420.5 381.5,422 385.7,420.6Z" fill="#c6dbef"/>
<path d="M397.7,420.4 398.2,419.4 397.8,416.6 396.6,416.1 391.8,417.7 389.2,416.9 389.2,417.2 390.8,422.9 393.8,423.2 394.9,421.6Z" fill="#c6dbef"/>
<path d="M402.4,419.9 398.2,419.4 397.7,420.4 394.9,421.6 393.8,423.2 394.2,424.7 397.3,427.3 397.8,430.5 398.6,430.5 400.2,430.8 403.9,427.1 403.5,424.6 404.2,423.4Z" fill="#c6dbef"/>
<path d="M408.6,416.7 405.9,413.2 402.5,412.5 401.2,413.8 400,414.1 397.8,416.6 398.2,419.4 402.4,419.9 404.2,423.4 408.1,422 408.1,417.4Z" fill="#c6dbef"/>
<path d="M401.2,413.8 402.5,412.5 402.5,411.7 398.3,406.5 392.5,412.5 390.5,415.3 388.7,415.4 389.2,416.9 391.8,417.7 396.6,416.1 397.8,416.6 400,414.1Z" fill="#9ecae1"/>
<path d="M406.6,405.6 404.9,403.9 400.8,404.4 404.2,408.7 405.9,408.3Z" fill="#2171b5"/>
<path d="M404.2,408.7 400.8,404.4 398.3,406.5 402.5,411.7Z" fill="#9ecae1"/>
<path d="M405.9,413.2 408,410 405.9,408.3 404.2,408.7 402.5,411.7 402.5,412.5Z" fill="#c6dbef"/>
<path d="M405.9,413.2 408.6,416.7 412.2,415.4 412.7,414.1 411.9,410 408,410Z" fill="#c6dbef"/>
<path d="M406.1,397.2 402.3,396.5 402,396.9 401.2,401.3 404.5,401 400.9,404.3 404.9,403.9 406.6,405.6 409.1,405.2 407.4,409.4 408,410 411.9,410 413,407.7 412.2,405.2 411.6,404.6 410.2,399.8 407.8,398.9Z" fill="#c6dbef"/>
<path d="M404.2,423.4 403.5,424.6 403.9,427.1 400.2,430.8 401,431 406,433 407.3,435.4 408.3,437.8 410,434.5 413,433 417.5,433.5 420,432.9 420.6,427.2 419.8,427.1 414.7,422.9 414.6,422.3 409,422.7 408.1,422Z" fill="#c6dbef"/>
<path d="M426.8,428.5 421.2,426.9 420.6,427.2 420,432.9 424.5,432.1 427,431.5 427.9,431.2Z" fill="#6baed6"/>
<path d="M411.6,404.6 412.2,405.2 413,407.7 411.9,410 412.7,414.1 412.2,415.4 415.7,419.9 419.4,419.2 421.8,420.4 424.8,419.7 426.1,420.1 431.1,418.1 431.7,414 431.4,413.2 431.5,409.6 431.3,409.3 429.9,408.2 428.5,402.7 424.4,403.1 420.9,398.6 419,399.1 415,396.7 410.2,399.8Z" fill="#4292c6"/>
<path d="M421.8,420.4 419.4,419.2 415.7,419.9 414.6,422.3 414.7,422.9 419.8,427.1 420.6,427.2 421.2,426.9Z" fill="#c6dbef"/>
<path d="M426.1,420.1 424.8,419.7 421.8,420.4 421.2,426.9 426.8,428.5 427.9,426.3Z" fill="#c6dbef"/>
<path d="M433.2,423.9 433.6,421.2 431.1,418.1 426.1,420.1 427.9,426.3Z" fill="#9ecae1"/>
<path d="M429.3,401.1 426.3,397.3 421.4,398.1 420.9,398.6 424.4,403.1 428.5,402.7Z" fill="#9ecae1"/>
<path d="M436.4,428.3 435.6,429 437.3,429.2Z" fill="#9ecae1"/>
<path d="M370,345 367,348 359,353 356.3,355.3 360,356.2 364,355.4 368,354 372.2,353 372.8,356 371.6,363 371.4,365.5 378.3,364.4 378.4,363.3 376.7,359.9 377.9,356.9 380.9,355.8 381.8,354 380.9,352.2 378.4,351.3 377.3,346.6 377.5,346.2 377.5,344.5 372.7,339.7 371.5,341Z" fill="#4292c6"/>
<path d="M384.7,342.9 385.3,337.9 381.2,334.5 380.5,334.5 377.5,335.6 374.5,337.5 372.7,339.7 377.5,344.5 377.5,346.2 377.3,346.6 378.4,351.3 380.9,352.2 383.1,347.8 383.9,343.3Z" fill="#9ecae1"/>
<path d="M389.1,337.8 385.3,337.9 384.7,342.9 383.9,343.3 383.1,347.8 380.9,352.2 381.8,354 386,354 389.5,353.3 390.1,348.5 389.3,347.6 389.9,343.9 390.2,343.6Z" fill="#9ecae1"/>
<path d="M389.1,337.8 390.2,343.6 390.5,343.5 394.3,344.7 397,342.5 395.5,338.5 395.5,338.1 390.8,335.8Z" fill="#9ecae1"/>
<path d="M394.3,344.7 390.5,343.5 390.2,343.6 389.9,343.9 389.3,347.6 390.1,348.5 389.5,353.3 392.9,355.2 394.3,351.7 398.5,351.2 400.4,348.5 399.9,348 395.5,347Z" fill="#9ecae1"/>
<path d="M377.9,356.9 376.7,359.9 378.4,363.3 378.3,364.4 380.1,367.3 380,368.4 381.6,371.2 379.4,376.8 380.8,378.5 380.2,382.8 382.1,385 381.9,388.2 385.2,389.8 385.3,393.4 388.7,394.8 390.1,394.2 390.4,394.4 393.2,393.9 395.2,388.7 395,387.8 395.1,387.6 393.5,382.5 394.7,380.3 393.2,376.4 394.7,372 394.6,371.8 394.8,367 391.4,364.7 391.6,359 393.4,357.5 393.5,356.9 392.9,355.2 389.5,353.3 386,354 381.7,354 380.9,355.8Z" fill="#4292c6"/>
<path d="M371.3,366.5 370.5,370.5 369,373.5 367,376.5 364,379 360,381.5 358.8,382.1 359.9,383.8 364.6,385.2 366.8,383.6 370.8,385.2 373.8,382.2 376.4,383.4 380.2,382.8 380.8,378.5 379.4,376.8 381.6,371.2 380,368.4 380.1,367.3 378.3,364.4 371.4,365.5Z" fill="#c6dbef"/>
<path d="M380.4,389.8 381.9,388.2 382.1,385 380.2,382.8 376.4,383.4 373.8,382.2 370.8,385.2 366.8,383.6 364.6,385.2 359.9,383.8 358.8,388.2 359.8,390 356.9,394.5 356.8,395.7 359,396 362.5,397.5 362.8,397.8 368.2,393.7 370.2,394.9 373.9,393.1 375.9,394.6 377.8,394.1 380.1,389.9Z" fill="#4292c6"/>
<path d="M356,383.5 352,384.5 348,386 344.5,387.5 342,389.5 343,392 345,395 348,396.5 351.5,397.5 355,395.5 356.8,395.7 356.9,394.5 359.8,390 358.8,388.2 359.9,383.8 358.8,382.1Z" fill="#c6dbef"/>
<path d="M362.8,397.8 365,400.5 368.5,398.5 370.9,398.4 370.2,394.9 368.2,393.7Z" fill="#4292c6"/>
<path d="M370.9,398.4 372,398.3 374,399 375.2,397.8 375.9,394.6 373.9,393.1 370.2,394.9Z" fill="#4292c6"/>
<path d="M375.2,397.8 379.5,399.2 379.8,399 380.2,396 377.8,394.1 375.9,394.6Z" fill="#6baed6"/>
<path d="M379.5,399.2 375.2,397.8 374,399 376.5,400.5 379,401.7Z" fill="#6baed6"/>
<path d="M382.9,395.1 380.2,396 379.8,399 383.5,399.5 384.5,397.9Z" fill="#2171b5"/>
<path d="M379.8,399 379.5,399.2 379,401.7 381,403.5 383.3,404 384,401.7 383.5,399.5Z" fill="#6baed6"/>
<path d="M383.1,394.6 382.9,395.1 384.5,397.9 387,397.6 388.7,394.8 385.3,393.4Z" fill="#6baed6"/>
<path d="M384.5,397.9 383.5,399.5 384,401.7 387.9,400.9 388.3,400 387,397.6Z" fill="#6baed6"/>
<path d="M387.9,400.9 384,401.7 383.3,404 386,404.5 388.9,404.3Z" fill="#6baed6"/>
<path d="M388.7,394.8 387,397.6 388.3,400 391.8,399.5 390.4,394.4 390.1,394.2Z" fill="#6baed6"/>
<path d="M388.3,400 387.9,400.9 388.9,404.3 390,404.2 393.1,403.3 391.8,399.5Z" fill="#6baed6"/>
<path d="M391.8,399.5 395.1,397.8 394.8,394.9 393.2,393.9 390.4,394.4Z" fill="#9ecae1"/>
<path d="M393.1,403.3 396.2,402.5 396.7,398.9 395.1,397.8 391.8,399.5Z" fill="#9ecae1"/>
<path d="M394.8,394.9 395.1,397.8 396.7,398.9 396.2,402.5 401.2,401.3 402,396.9 402.3,396.5 401,393.9 400.1,393.6 395.2,388.7 393.2,393.9Z" fill="#9ecae1"/>
<path d="M398.5,351.2 394.3,351.7 392.9,355.2 393.5,356.9 393.4,357.5 396.9,360.3 395.9,366.1 394.8,367 394.6,371.8 394.7,372 400.4,373 402.5,371.8 403.2,370 407.9,368 411.2,369.2 411.4,369.1 412.6,365.3 410.2,361.7 412,358.1 411.7,357.4 406.4,356.8 405.8,350.9 405.4,350.8 402.1,348.5 400.4,348.5Z" fill="#9ecae1"/>
<path d="M412.1,351.8 410.8,350.2 409.7,349.8 405.8,350.9 406.4,356.8 411.7,357.4Z" fill="#9ecae1"/>
<path d="M411.4,382 410.1,378 408.2,376.9 407.6,374.8 402.5,371.8 400.4,373 394.7,372 393.2,376.4 394.7,380.3 393.5,382.5 395.1,387.6 395,387.8 395.2,388.7 400.1,393.6 401,393.9 402.5,390.5 406.8,388.8 405.8,384.3Z" fill="#9ecae1"/>
<path d="M471.8,366.8 472,368.3 475.7,371.4 477.8,370.2 479.4,367.3 477.9,363.1 474.9,363.3Z" fill="#c6dbef" stroke-width="0.6"/>
<path d="M413.1,384.7 417.6,388 421.4,385.8 421.4,383.1 417.5,379.8 412.4,382.7Z" fill="#c6dbef"/>
<path d="M407.8,398.9 410.2,399.8 415,396.7 414.5,393.1 409.5,391.2 406.1,397.2Z" fill="#c6dbef"/>
<path d="M485.2,380.6 488.7,382.5 489.4,382.3 492.3,378.8 490.6,375.3 489.8,375 484.7,377.9Z" fill="#e3eef9" stroke-width="0.6"/>
<path d="M447,404.7 442.9,407.5 442.3,409.9 446.4,412.9 448.1,412.6 449.7,406.6 449.3,405.6Z" fill="#9ecae1"/>
<path d="M464.5,408.1 463.2,408.2 459.9,412 461.9,415.7 466.4,412.3 465.9,408.9Z" fill="#6baed6"/>
<path d="M499.2,363 495.7,365.2 495.9,367 499.9,369.9 502.4,369.8 503,367 502.9,365.1Z" fill="#c6dbef" stroke-width="0.6"/>
<path d="M488.1,372.1 489.8,375 490.6,375.3 493.8,372.7 493.2,369.3 489.8,368.3 489.2,368.6Z" fill="#c6dbef" stroke-width="0.6"/>
<path d="M451.7,426.5 446.5,423.1 444.4,425.4 444.6,429.7 452.3,429.2Z" fill="#9ecae1"/>
<path d="M488,358 490.5,357.3 491.6,354.8 490.6,352.9 486.6,352 485.5,356.5Z" fill="#e3eef9" stroke-width="0.6"/>
<path d="M422.3,360.4 420.4,356.4 419,356.1 416,359 417,361.9 421.1,362Z" fill="#c6dbef"/>
<path d="M469.3,413.5 469.8,416.6 475.5,418.6 476,414 473,410.7Z" fill="#9ecae1"/>
<path d="M429.1,385.1 430.6,382.3 426.8,377.4 425.9,377.8 421.4,383.1 421.4,385.8 422.4,386.3Z" fill="#c6dbef"/>
<path d="M430.6,382.3 429.1,385.1 430.1,388.8 435,389.8 435.2,382.7 434.6,382.2Z" fill="#c6dbef"/>
<path d="M445.6,358.6 442.2,358.4 439.7,363.2 440,365.6 441.2,366.8 445.2,366.4 448.4,361.1Z" fill="#c6dbef"/>
<path d="M472.5,423.6 468.1,422.7 465.1,425.5 465.6,429.1 470,429.8 473.8,428.8Z" fill="#e3eef9"/>
<path d="M466.4,372.3 466.8,375.2 467.6,376.1 474.7,375.1 475.7,371.4 472,368.3Z" fill="#e3eef9" stroke-width="0.6"/>
<path d="M448.1,412.6 452.4,414.7 454.1,412.5 453.5,408.6 449.7,406.6Z" fill="#c6dbef"/>
<path d="M426.8,377.4 430.6,382.3 434.6,382.2 436.5,375 433.5,373.1 427,376.9Z" fill="#9ecae1"/>
<path d="M474.7,375.1 477.2,378.4 482.3,376.3 482.5,373.8 477.8,370.2 475.7,371.4Z" fill="#c6dbef" stroke-width="0.6"/>
<path d="M499.9,369.9 496.6,373.2 497.7,376.5 500.1,377.6 502,372 502.4,369.8Z" fill="#c6dbef" stroke-width="0.6"/>
<path d="M425.3,371.3 427,376.9 433.5,373.1 432.7,369.2 426.8,368.7Z" fill="#c6dbef"/>
<path d="M482,425.4 486,423.5 488.9,421.9 486.5,416.8 484.1,415.3 478.6,420.1Z" fill="#c6dbef"/>
<path d="M457.1,388.6 454.1,387.6 450.5,392.1 455.1,395.1 456,394.9 457.9,392.7Z" fill="#9ecae1"/>
<path d="M493.2,369.3 495.9,367 495.7,365.2 492.9,362.9 491.1,363.6 489.8,368.3Z" fill="#e3eef9" stroke-width="0.6"/>
<path d="M485.1,366.3 483.3,367.7 484.4,371.8 488.1,372.1 489.2,368.6Z" fill="#c6dbef" stroke-width="0.6"/>
<path d="M459.2,424.3 457.9,428.8 459.5,428.9 462,428.5 465.6,429.1 465.1,425.5 461.1,423.5Z" fill="#c6dbef"/>
<path d="M465.1,387.2 464.9,383.5 460.2,382.3 458.1,387.9 463.7,388.7Z" fill="#c6dbef"/>
<path d="M482,394.2 479.1,395.6 479.4,401.1 480.6,401.5 482,401 485.7,397.3Z" fill="#c6dbef" stroke-width="0.6"/>
<path d="M429.8,355.2 426.4,357.2 425.7,360.5 427.4,362.8 431.1,362.4 433,359.5 433,356.4Z" fill="#c6dbef"/>
<path d="M427.7,392.2 428.3,393.7 433.4,395.5 434.5,394.8 435,389.9 430.1,388.8Z" fill="#c6dbef"/>
<path d="M435.3,353.6 434.9,354.9 441.7,357.5 442.5,352.1 439.6,350.4Z" fill="#6baed6"/>
<path d="M441.7,357.5 442.2,358.4 445.6,358.6 448.4,353.5 447.9,351 446.8,350.3 442.5,352.1Z" fill="#6baed6"/>
<path d="M433.5,367.7 432.7,369.2 433.5,373.1 436.5,375 437.9,374.8 441.1,371.7 441.2,366.8 440,365.6Z" fill="#e3eef9"/>
<path d="M479.8,351.7 486,350.9 486.4,348.5 485.1,348.1 483,347.8 480.4,347.2 477.2,347.4Z" fill="#c6dbef" stroke-width="0.6"/>
<path d="M438.6,420 440.1,418.1 438.6,414.9 431.7,414 431.1,418.1 433.6,421.2Z" fill="#9ecae1"/>
<path d="M471.3,397.7 473.7,397.4 475.9,393.9 475.5,392.7 471.3,389.9 468.6,393.8 468.7,394.5Z" fill="#c6dbef" stroke-width="0.6"/>
<path d="M472.5,423.6 473.8,428.8 478,427.3 480.1,426.2 482,425.4 478.6,420.1 475.8,419.2Z" fill="#c6dbef"/>
<path d="M446.5,423.1 451.7,426.5 455,422.3 453.7,418 453.3,417.7 446.6,421.5Z" fill="#c6dbef"/>
<path d="M431.1,362.4 433.5,367.7 440,365.6 439.7,363.2 433,359.5Z" fill="#c6dbef"/>
<path d="M488.6,394.2 490.5,392 492.1,388.3 486.3,388.3 486,388.6 485.8,389Z" fill="#9ecae1" stroke-width="0.6"/>
<path d="M418.6,369.2 413.8,370.7 414.6,375 417.6,376.5 419.5,375.4 420.5,370.9 419.7,369.8Z" fill="#c6dbef"/>
<path d="M452.4,414.7 453.3,417.7 453.7,418 461.8,416.9 461.9,415.7 459.9,412 458.5,411.2 454.1,412.5Z" fill="#c6dbef"/>
<path d="M438.4,402.5 438.7,402.4 440.5,399.7 440.4,396.7 434.5,394.8 433.4,395.5 432.3,400.1 435.3,402.3Z" fill="#c6dbef"/>
<path d="M471.8,366.8 474.9,363.3 471.2,359.4 468.1,359.6 466.1,361.2 466.6,363.6Z" fill="#c6dbef" stroke-width="0.6"/>
<path d="M451.5,375.2 454.8,374.1 454.7,371.5 452.5,367.2 447.8,368.5 447.5,374.1Z" fill="#c6dbef"/>
<path d="M477.1,378.4 474.7,375.1 467.6,376.1 467.8,381 471.4,383Z" fill="#c6dbef" stroke-width="0.6"/>
<path d="M431.4,413.2 431.7,414 438.6,414.9 440.3,410.8 436.6,408.8 431.5,409.6Z" fill="#c6dbef"/>
<path d="M471.2,359.4 474.2,356 472.6,352.8 467.6,352.9 468.1,359.6Z" fill="#c6dbef" stroke-width="0.6"/>
<path d="M470.5,402.4 475.6,403.1 477.1,401.6 473.7,397.4 471.3,397.7 470.1,400.1Z" fill="#c6dbef"/>
<path d="M407.6,374.8 408.2,376.9 410.1,378 414.6,375 413.8,370.7 411.4,369.1 411.2,369.2Z" fill="#c6dbef"/>
<path d="M451.5,403.8 455.5,404.3 455.7,404 455.7,400.7 452.6,398.9 452,399.1Z" fill="#c6dbef"/>
<path d="M461.1,423.5 461.8,416.9 453.7,418 455,422.3 459.2,424.3Z" fill="#c6dbef"/>
<path d="M444.4,425.4 446.5,423.1 446.6,421.5 443.9,418.3 440.1,418.1 438.6,420 440.2,424.9Z" fill="#9ecae1"/>
<path d="M488,362.3 491.1,363.6 492.9,362.9 493.6,360.3 490.5,357.3 488,358Z" fill="#c6dbef" stroke-width="0.6"/>
<path d="M385.3,337.9 389.1,337.8 390.8,335.8 390.6,333.4 384,334.3 381.2,334.5Z" fill="#6baed6"/>
<path d="M495.4,354.8 496.4,358.6 498.8,359.2 501.1,357.8 499.7,355.8 498,353 497,352.5Z" fill="#c6dbef" stroke-width="0.6"/>
<path d="M422.9,355.2 424.2,351.3 423,349.4 419.1,350.2 417.4,352.5 419,356.1 420.4,356.4Z" fill="#9ecae1"/>
<path d="M471.3,389.9 472.8,386.3 471.4,383 467.8,381 464.9,383.5 465.1,387.2Z" fill="#9ecae1"/>
<path d="M486,388.6 486.3,388.3 488.7,382.5 485.2,380.6 481.3,384.2Z" fill="#c6dbef" stroke-width="0.6"/>
<path d="M413.8,370.7 418.6,369.2 418.3,366.4 416.2,363.9 412.6,365.3 411.4,369.1Z" fill="#c6dbef"/>
<path d="M440.6,389.4 435,389.9 434.5,394.8 440.4,396.7 442.2,394.6 442.2,392.1Z" fill="#6baed6"/>
<path d="M492.1,388.3 493.7,386.5 489.4,382.3 488.7,382.5 486.3,388.3Z" fill="#c6dbef" stroke-width="0.6"/>
<path d="M479.7,408.6 480.3,411.9 483.7,414 486.4,409.4 483.2,404.7Z" fill="#9ecae1"/>
<path d="M441.1,371.7 437.9,374.8 443.1,380.1 443.7,380.2 446.6,374.4Z" fill="#9ecae1"/>
<path d="M485.8,389 482.3,391.5 482,394.2 485.7,397.3 488.6,394.2Z" fill="#9ecae1" stroke-width="0.6"/>
<path d="M446.6,374.4 443.7,380.2 446.7,383.1 450.5,380.5 451.5,375.2 447.5,374.1Z" fill="#9ecae1"/>
<path d="M467.8,381 467.6,376.1 466.8,375.2 458.3,377.6 458.3,379.8 460.2,382.3 464.9,383.5Z" fill="#e3eef9"/>
<path d="M427.4,362.8 425.6,365.9 426.8,368.7 432.7,369.2 433.5,367.7 431.1,362.4Z" fill="#c6dbef"/>
<path d="M485.5,363.5 481.8,360.7 478.4,362.4 477.9,363.1 479.4,367.3 483.3,367.7 485.1,366.3Z" fill="#c6dbef" stroke-width="0.6"/>
<path d="M380.1,389.9 377.8,394.1 380.2,396 382.9,395.1 383.1,394.6 380.4,389.8Z" fill="#e3eef9"/>
<path d="M466.1,361.2 463.9,360.6 460.6,361.7 459,365.2 459.8,367.3 463.4,369.4 463.9,369.4 466.6,363.6Z" fill="#c6dbef"/>
<path d="M411.6,297.5 408.6,301.1 411.9,305.3 416,304.6 416,299.8Z" fill="#6baed6"/>
<path d="M471.3,389.9 475.5,392.7 478.9,389.8 478.4,385.7 472.8,386.3Z" fill="#9ecae1" stroke-width="0.6"/>
<path d="M444.4,425.4 440.2,424.9 436.4,428.3 437.3,429.2 443,429.8 444.6,429.7Z" fill="#e3eef9"/>
<path d="M391.6,359 391.4,364.7 394.8,367 395.9,366.1 396.9,360.3 393.4,357.5Z" fill="#c6dbef"/>
<path d="M461.8,417 461.1,423.5 465.1,425.5 468.1,422.7 467.2,419.1Z" fill="#9ecae1"/>
<path d="M459.9,412 463.2,408.2 460.2,406.2 458,408 458.5,411.2Z" fill="#9ecae1"/>
<path d="M467.6,352.9 472.6,352.8 475.3,347.9 471.5,348.5 468,350.5 466.8,352.1Z" fill="#c6dbef" stroke-width="0.6"/>
<path d="M419.5,375.4 425.9,377.8 426.8,377.4 427,376.9 425.3,371.3 420.5,370.9Z" fill="#c6dbef"/>
<path d="M439.1,346.7 439.6,350.4 442.5,352.1 446.8,350.3 445.7,345.7 440.6,345.6Z" fill="#c6dbef"/>
<path d="M497.7,376.5 493.2,379 496.7,383.1 499.5,379.4 500.1,377.6Z" fill="#c6dbef" stroke-width="0.6"/>
<path d="M409.5,391.2 414.5,393.1 417.1,389.9 417.6,388 413.1,384.7 408.8,389.9Z" fill="#9ecae1"/>
<path d="M492.4,350.3 490.3,349.5 488,349 486.4,348.5 486,350.9 486.6,352 490.6,352.9Z" fill="#c6dbef" stroke-width="0.6"/>
<path d="M463.6,392.9 463.7,388.7 458.1,387.9 457.1,388.6 457.9,392.7 462.5,393.8Z" fill="#c6dbef"/>
<path d="M408.1,422 409,422.7 414.6,422.3 415.7,419.9 412.2,415.4 408.6,416.7 408.1,417.4Z" fill="#c6dbef"/>
<path d="M429.8,355.2 428.2,352.2 424.2,351.3 422.9,355.2 426.4,357.2Z" fill="#c6dbef"/>
<path d="M410.2,361.7 412.6,365.3 416.2,363.9 417,361.9 416,359 412,358.1Z" fill="#c6dbef"/>
<path d="M478.9,389.8 482.3,391.5 485.8,389 486,388.6 481.3,384.2 479.8,384.2 478.4,385.7Z" fill="#9ecae1" stroke-width="0.6"/>
<path d="M435.2,382.7 438.4,383.2 443.1,380.1 437.9,374.8 436.5,375 434.6,382.2Z" fill="#c6dbef"/>
<path d="M448.1,412.6 446.4,412.9 443.9,418.3 446.6,421.5 453.3,417.7 452.4,414.7Z" fill="#9ecae1"/>
<path d="M475.3,407.3 475.6,403.1 470.5,402.4 469.4,404.1 469.6,406.8 473.1,409.1Z" fill="#6baed6"/>
<path d="M479.8,384.2 481.3,384.2 485.2,380.6 484.7,377.9 482.3,376.3 477.2,378.4Z" fill="#c6dbef" stroke-width="0.6"/>
<path d="M436.4,428.3 433.2,423.9 427.9,426.3 426.8,428.5 427.9,431.2 434,428.8 435.6,429Z" fill="#c6dbef"/>
<path d="M476,414 475.5,418.6 475.8,419.2 478.6,420.1 484.1,415.3 483.7,414 480.3,411.9Z" fill="#c6dbef"/>
<path d="M493.8,372.7 490.6,375.3 492.3,378.8 493.2,379 497.7,376.5 496.6,373.2Z" fill="#e3eef9" stroke-width="0.6"/>
<path d="M423.8,365.7 425.6,365.9 427.4,362.8 425.7,360.5 422.3,360.4 421.1,362 421.8,364.3Z" fill="#6baed6"/>
<path d="M473.1,409.1 469.6,406.8 465.9,408.9 466.4,412.3 469.3,413.5 473,410.7Z" fill="#6baed6"/>
<path d="M409.6,336.8 408.7,335.4 405.1,336 405.2,340.4 408.8,339.8Z" fill="#9ecae1"/>
<path d="M446.1,401.8 447,404.7 449.3,405.6 451.5,403.8 452,399.1 448.7,397.9Z" fill="#6baed6"/>
<path d="M469.8,416.6 467.2,419.1 468.1,422.7 472.5,423.6 475.8,419.2 475.5,418.6Z" fill="#9ecae1"/>
<path d="M446.4,412.9 442.3,409.9 440.3,410.8 438.6,414.9 440.1,418.1 443.9,418.3Z" fill="#9ecae1"/>
<path d="M484.4,371.8 482.5,373.8 482.3,376.3 484.7,377.9 489.8,375 488.1,372.1Z" fill="#c6dbef" stroke-width="0.6"/>
<path d="M481.8,360.7 485.5,363.5 488,362.3 488,358 485.5,356.5 482.8,357.6Z" fill="#c6dbef" stroke-width="0.6"/>
<path d="M448.4,361.1 445.2,366.4 447.8,368.5 452.5,367.2 453.2,364.6 452.1,361.4Z" fill="#c6dbef"/>
<path d="M489.4,382.3 493.7,386.5 496.7,383.1 493.2,379 492.3,378.8Z" fill="#c6dbef" stroke-width="0.6"/>
<path d="M412,358.1 416,359 419,356.1 417.4,352.5 412.1,351.8 411.7,357.4Z" fill="#9ecae1"/>
<path d="M433.7,324.6 430.5,327.3 431,328.7 434.9,330 435.8,329.4 436.7,325.6Z" fill="#e3eef9"/>
<path d="M452,399.1 452.6,398.9 455.1,395.1 450.5,392.1 450.3,392.1 447.9,396 448.7,397.9Z" fill="#6baed6"/>
<path d="M401,393.9 402.3,396.5 406.1,397.2 409.5,391.2 408.8,389.9 406.8,388.8 402.5,390.5Z" fill="#9ecae1"/>
<path d="M486.4,409.4 489.2,409.3 492.2,405.6 492.3,405.1 492,405 489.3,405.3 487,405 484.4,405 483.3,404.8Z" fill="#c6dbef"/>
<path d="M476,414 480.3,411.9 479.7,408.6 475.3,407.3 473.1,409.1 473,410.7Z" fill="#c6dbef"/>
<path d="M463.9,369.4 466.4,372.3 472,368.3 471.8,366.8 466.6,363.6Z" fill="#c6dbef"/>
<path d="M424.2,351.3 428.2,352.2 431,346.7 429.9,345.4 426,344.9 424.2,345.5 423,349.4Z" fill="#e3eef9"/>
<path d="M455.5,404.3 451.5,403.8 449.3,405.6 449.7,406.6 453.5,408.6 455.8,406.8Z" fill="#9ecae1"/>
<path d="M498.8,359.2 499.2,363 502.9,365.1 503,362 501.3,358 501.1,357.8Z" fill="#c6dbef" stroke-width="0.6"/>
<path d="M482,394.2 482.3,391.5 478.9,389.8 475.5,392.7 475.9,393.9 479.1,395.6Z" fill="#9ecae1" stroke-width="0.6"/>
<path d="M432.3,400.1 433.4,395.5 428.3,393.7 426.3,397.3 429.3,401.1Z" fill="#c6dbef"/>
<path d="M471.3,389.9 465.1,387.2 463.7,388.7 463.6,392.9 468.6,393.8Z" fill="#9ecae1"/>
<path d="M461.9,415.7 461.8,417 467.2,419.1 469.8,416.6 469.3,413.5 466.4,412.3Z" fill="#c6dbef"/>
<path d="M490.5,357.3 493.6,360.3 496.4,358.6 495.4,354.8 491.6,354.8Z" fill="#c6dbef" stroke-width="0.6"/>
<path d="M447.8,368.5 445.2,366.4 441.2,366.8 441.1,371.7 446.6,374.4 447.5,374.1Z" fill="#9ecae1"/>
<path d="M453.5,408.6 454.1,412.5 458.5,411.2 458,408 455.8,406.8Z" fill="#c6dbef"/>
<path d="M459.2,424.3 455,422.3 451.7,426.5 452.3,429.2 457,428.8 457.9,428.8Z" fill="#c6dbef"/>
<path d="M434.5,334.1 433.3,334.8 434.5,339.9 436,340.4 437,340 439.2,335.2Z" fill="#c6dbef"/>
<path d="M409.4,309.4 410.2,309.1 411.9,305.3 408.6,301.1 408.2,301.2 405,303.8 404.8,304.8 405.1,306.1Z" fill="#c6dbef"/>
<path d="M417.5,379.8 421.4,383.1 425.9,377.8 419.5,375.4 417.6,376.5Z" fill="#c6dbef"/>
<path d="M424.9,391.1 427.7,392.2 430.1,388.8 429.1,385.1 422.4,386.3Z" fill="#c6dbef"/>
<path d="M421.8,333.4 420.5,336.5 422.6,338.8 426,338 423.6,333Z" fill="#c6dbef"/>
<path d="M493.6,360.3 492.9,362.9 495.7,365.2 499.2,363 498.8,359.2 496.4,358.6Z" fill="#c6dbef" stroke-width="0.6"/>
<path d="M408.8,389.9 413.1,384.7 412.4,382.7 411.4,382 405.8,384.3 406.8,388.8Z" fill="#c6dbef"/>
<path d="M416.8,340.5 417.7,337.2 416.8,336 413.6,335.7 412.4,337.1 414,341.5Z" fill="#c6dbef"/>
<path d="M460.2,382.3 458.3,379.8 454.4,382.4 453.6,386.8 454.1,387.6 457.1,388.6 458.1,387.9Z" fill="#9ecae1"/>
<path d="M440.5,399.7 438.7,402.4 442.9,407.5 447,404.7 446.1,401.8Z" fill="#c6dbef"/>
<path d="M479.1,395.6 475.9,393.9 473.7,397.4 477.1,401.6 479.4,401.1Z" fill="#9ecae1" stroke-width="0.6"/>
<path d="M414.6,375 410.1,378 411.4,382 412.4,382.7 417.5,379.8 417.6,376.5Z" fill="#e3eef9"/>
<path d="M422.3,360.4 425.7,360.5 426.4,357.2 422.9,355.2 420.4,356.4Z" fill="#c6dbef"/>
<path d="M381.9,388.2 380.4,389.8 383.1,394.6 385.3,393.4 385.2,389.8Z" fill="#c6dbef"/>
<path d="M483.3,367.7 479.4,367.3 477.8,370.2 482.5,373.8 484.4,371.8Z" fill="#e3eef9" stroke-width="0.6"/>
<path d="M493.2,369.3 493.8,372.7 496.6,373.2 499.9,369.9 495.9,367Z" fill="#c6dbef" stroke-width="0.6"/>
<path d="M433.2,423.9 436.5,428.3 440.2,424.9 438.6,420 433.6,421.2Z" fill="#9ecae1"/>
<path d="M495.4,354.8 497,352.5 492.4,350.3 490.6,352.9 491.6,354.8Z" fill="#c6dbef" stroke-width="0.6"/>
<path d="M426.8,318.3 425.1,318.4 425.7,323 427.5,324.5 430.8,320.6Z" fill="#c6dbef"/>
<path d="M403.2,370 402.5,371.8 407.6,374.8 411.2,369.2 407.9,368Z" fill="#9ecae1"/>
<path d="M489.8,368.3 491.1,363.6 488,362.3 485.5,363.5 485.1,366.3 489.2,368.6Z" fill="#c6dbef" stroke-width="0.6"/>
<path d="M450.5,392.1 454.1,387.6 453.6,386.8 447.2,384.8 447.3,389.6 450.3,392.1Z" fill="#9ecae1"/>
<path d="M435,389.8 440.6,389.4 440.9,388 438.4,383.2 435.2,382.7Z" fill="#9ecae1"/>
<path d="M438.9,317.8 435.4,315.8 432.2,320.3 432.3,320.5 437.4,320.7Z" fill="#c6dbef"/>
<path d="M485.5,356.5 486.6,352 486,350.9 479.8,351.7 479.6,354.3 482.8,357.6Z" fill="#c6dbef" stroke-width="0.6"/>
<path d="M312.4,273.6 312.5,272.9 311,270 308,268.5 305.2,267.5 303,269.5 301,273 299,277.5 292.9,280.5 291.5,282.3 298.6,285.3 299.4,285.2 303.2,281.6 304.6,281.4 308.5,277.5 310.1,277.1Z" fill="#9ecae1"/>
<path d="M329.7,270.8 334.5,266 331.6,263.2 328,262.3 323.4,262 319,262.8 314.6,263.8 311,270 312.5,272.9 312.4,273.6 321,276.7 321.6,276.2 322.1,272.1 325.9,269.3 329.5,270.9Z" fill="#9ecae1"/>
<path d="M308.5,277.5 304.6,281.4 303.2,281.6 299.4,285.2 298.6,285.3 291.5,282.3 286.4,289 288,291 290,293 292.9,294.9 295,297 297.6,299 300.5,300.8 303.4,301.9 307,300 310.5,298.4 312,299 313.3,295.4 309.4,289.5 309.8,287.9 314.2,284.6 314.3,282.1 310.1,277.1Z" fill="#9ecae1"/>
<path d="M314.3,282.1 314.2,284.6 309.8,287.9 309.4,289.5 313.3,295.4 316.8,293.8 322,291 323.5,285.8 323.8,285.6 320.4,279.3 321,276.7 312.4,273.6 310.1,277.1Z" fill="#9ecae1"/>
<path d="M336.3,272.6 335.5,270 335.1,266.7 334.5,266 329.7,270.8 329.5,270.9 325.9,269.3 322.1,272.1 321.6,276.2 327.7,277.1 328.8,278.5 331.9,279.1 332.3,279.6 340,281.9 340.4,281.7 339.8,279.6Z" fill="#9ecae1"/>
<path d="M321.6,276.2 321,276.7 320.4,279.3 323.8,285.6 324.9,285.5 327,286.5 331.7,285.4 332.1,285.6 338.5,283.8 340,281.9 332.3,279.6 331.9,279.1 328.8,278.5 327.7,277.1Z" fill="#9ecae1"/>
<path d="M333.6,288.4 337.2,289.2 338.5,283.8 332.1,285.6Z" fill="#6baed6"/>
<path d="M332.1,285.6 331.7,285.4 327,286.5 329.6,293.8 330.7,293.6 334.8,294.5 338,293.5 338,290.4 337.2,289.2 333.6,288.4Z" fill="#9ecae1"/>
<path d="M329.6,293.8 327,286.5 324.9,285.5 323.8,285.6 323.5,285.8 322,291 316.8,293.8 313.3,295.4 312,299 313,299.5 315.2,299.5 317,301.5 318.7,304.2 320.5,304.9 321.6,303.2 326.3,301.4 328.7,296.6 328.4,295.2Z" fill="#9ecae1"/>
<path d="M336.3,301.9 339.5,299.5 340,297.4 338.5,293.9 338,293.5 334.8,294.5 330.7,293.6 329.6,293.8 328.4,295.2 328.7,296.6 326.3,301.4 321.6,303.2 320.5,304.9 321.5,305.2 328,305.5 331.6,307.2 334,305Z" fill="#9ecae1"/>
<path d="M337.2,289.2 338,290.4 338,293.5 338.5,293.9 340,297.4 340.5,295 341,298.4 342.5,297 343.9,294.9 344.8,291.5 344.5,287.8 342.1,283.3 339,284 340.5,282 340.4,281.7 340,281.9 338.5,283.8Z" fill="#9ecae1"/>
<path d="M331.0,172.5 329.3,174.6 327.0,175.0 326.4,176.4 324.5,179.0 324.8,181.8 326.0,183.0 326.4,184.5 329.0,184.5 328.9,185.9 327.5,187.5 328.8,188.3 331.0,190.0 332.5,190.6 335.0,191.5 336.5,193.1 338.0,194.5 340.8,195.9 341.5,196.0 343.5,194.0 342.3,193.3 340.5,190.5 340.6,188.3 342.0,187.5 340.7,185.0 339.0,184.5 337.3,183.0 337.6,182.4 337.0,180.0 336.5,178.0 335.5,176.0 334.7,173.9 334.0,173.0Z" fill="#4292c6" stroke="#1c2c3c" stroke-width="0.7"/>
<path d="M361.2,333.0 366.2,332.0 371.2,336.2 370.0,341.2 365.0,340.5 360.5,337.5Z" fill="#c6dbef" stroke="#1c2c3c" stroke-width="0.7"/>
<path d="M431.0,431.5 434.0,430.3 438.0,430.7 441.5,432.5 440.0,435.5 437.0,437.2 433.5,435.0Z" fill="#9ecae1" stroke="#1c2c3c" stroke-width="0.7"/>
<path d="M434.2,73.3 435.9,76.9 433.4,77.1 435.2,83.0 432.8,80.3 432.0,81.3 430.8,83.2 429.8,79.1 428.5,77.4 429.2,74.4 426.7,71.5 427.4,69.3 428.5,68.5 428.3,64.4 430.1,67.6 431.1,67.2 431.9,70.3 433.2,71.0Z" fill="#c6dbef" stroke="#1c2c3c" stroke-width="1.25"/>
<path d="M433.3,88.0 433.2,90.7 433.1,95.0 432.2,92.4 431.4,94.1 430.8,91.8 431.1,88.0 431.4,85.9 431.6,83.4 432.2,80.7 432.9,82.1 433.1,85.7Z" fill="#c6dbef" stroke="#1c2c3c" stroke-width="1.25"/>
<path d="M428.6,79.9 428.5,80.9 428.1,82.7 426.0,82.2 425.2,80.7 423.6,80.2 423.2,78.9 424.6,78.3 424.9,76.5 426.8,77.8 428.4,77.8 429.7,78.7Z" fill="#c6dbef" stroke="#1c2c3c" stroke-width="1.25"/>
<path d="M438.5,65.6 438.1,67.9 438.3,70.8 436.7,69.1 436.0,70.2 435.1,68.2 434.1,66.4 434.7,64.5 434.2,61.5 435.4,61.5 436.5,61.0 437.3,63.6Z" fill="#c6dbef" stroke="#1c2c3c" stroke-width="1.25"/>
<path d="M441.0,60.0 441.0,62.2 440.2,63.1 439.2,62.8 438.6,61.6 437.8,60.5 437.8,58.9 438.6,58.4 439.2,58.3 440.4,57.7Z" fill="#c6dbef" stroke="#1c2c3c" stroke-width="1.25"/>
<path d="M442.5,66.2 442.0,66.9 441.2,67.2 440.3,66.9 439.5,66.2 440.2,65.4 441.2,65.0 442.0,65.5Z" fill="#c6dbef" stroke="#1c2c3c" stroke-width="1.25"/>
<path d="M440.4,74.0 440.2,74.8 439.3,75.0 438.7,74.5 438.4,74.0 438.4,73.2 439.3,73.4 440.1,73.2Z" fill="#c6dbef" stroke="#1c2c3c" stroke-width="1.25"/>
<path d="M436.4,82.0 436.4,83.2 435.6,83.2 434.9,83.1 434.5,82.0 435.0,81.1 435.6,80.7 436.2,81.2Z" fill="#c6dbef" stroke="#1c2c3c" stroke-width="1.25"/>
<path d="M418.8,84.3 418.2,84.8 417.6,85.1 417.0,84.7 417.0,83.9 417.6,83.3 418.4,83.5Z" fill="#c6dbef" stroke="#1c2c3c" stroke-width="1.25"/>
<path d="M426.6,106.3 426.0,106.8 425.4,107.2 425.0,106.6 424.9,106.0 425.5,105.7 426.2,105.6Z" fill="#c6dbef" stroke="#1c2c3c" stroke-width="1.25"/>
<path d="M400.8,126.3 402.7,126.8 402.5,128.2 399.2,128.5 398.4,129.4 397.0,132.2 395.8,129.7 394.5,129.8 390.0,131.5 390.7,129.6 392.0,128.1 391.9,126.9 392.7,125.4 395.4,125.3 397.0,125.2 399.5,122.9 401.3,123.5 402.1,124.7Z" fill="#c6dbef" stroke="#1c2c3c" stroke-width="1.25"/>
<path d="M394.9,132.9 394.3,135.4 392.9,134.7 391.9,134.6 391.0,134.1 391.2,132.6 391.1,130.8 392.7,130.1 394.0,127.6 395.5,127.8 394.9,130.4 395.9,131.2Z" fill="#c6dbef" stroke="#1c2c3c" stroke-width="1.25"/>
<path d="M403.5,134.4 403.0,136.4 402.2,137.5 401.5,136.5 401.2,135.5 400.5,134.2 401.1,132.5 401.9,132.4 402.7,131.0 403.4,132.3Z" fill="#c6dbef" stroke="#1c2c3c" stroke-width="1.25"/>
<path d="M399.4,120.8 398.5,121.6 397.5,122.3 396.1,121.9 395.8,120.8 396.3,119.9 397.5,119.3 398.8,119.8Z" fill="#c6dbef" stroke="#1c2c3c" stroke-width="1.25"/>
<path d="M402.2,114.1 402.1,115.2 400.4,115.8 399.3,115.7 397.7,116.2 397.8,115.2 397.0,114.5 398.6,113.8 399.9,113.4 401.8,113.0Z" fill="#c6dbef" stroke="#1c2c3c" stroke-width="1.25"/>
<path d="M410.9,112.4 410.4,113.4 408.8,114.5 407.5,115.5 405.5,116.3 406.0,115.2 404.3,115.3 406.0,113.7 408.0,113.3 410.4,111.8Z" fill="#c6dbef" stroke="#1c2c3c" stroke-width="1.25"/>
<path d="M409.1,120.0 407.9,120.7 407.4,121.6 406.3,121.4 405.7,120.7 405.2,120.0 405.4,119.1 406.2,118.3 407.5,118.2 407.7,119.4Z" fill="#c6dbef" stroke="#1c2c3c" stroke-width="1.25"/>
<path d="M404.2,117.6 404.1,119.5 403.4,119.7 402.9,118.9 402.2,117.6 402.7,115.8 403.4,115.0 404.1,115.8Z" fill="#c6dbef" stroke="#1c2c3c" stroke-width="1.25"/>
<path d="M404.2,123.7 404.2,124.7 403.0,124.7 402.3,124.3 401.8,123.7 402.0,122.8 403.0,122.4 403.9,122.9Z" fill="#c6dbef" stroke="#1c2c3c" stroke-width="1.25"/>
<path d="M411.7,111.6 411.5,112.1 410.9,112.1 410.3,111.9 410.3,111.3 410.9,111.1 411.4,111.2Z" fill="#c6dbef" stroke="#1c2c3c" stroke-width="1.25"/>
<path d="M317.0,458.0 316.6,458.7 315.7,459.0 315.4,458.3 315.1,457.6 315.7,457.0 316.6,457.4Z" fill="#c6dbef" stroke="#1c2c3c" stroke-width="1.25"/>
<path d="M336.0,215.2 334.5,216.9 334.2,218.5 329.4,218.2 329.7,220.7 327.4,222.8 324.9,220.5 324.1,219.0 318.3,221.4 318.4,219.2 321.3,217.2 318.0,216.1 317.0,214.0 323.1,214.5 322.6,211.5 325.8,211.4 327.7,213.3 329.2,213.7 334.7,211.6 332.3,214.6Z" fill="#c6dbef" stroke="#1c2c3c" stroke-width="0.95"/>
<path d="M317.0,206.0 316.4,207.1 314.9,208.2 312.7,209.4 311.8,209.1 311.5,208.2 313.9,206.5 316.4,205.4Z" fill="#c6dbef" stroke="#1c2c3c" stroke-width="0.95"/>
<path d="M312.1,210.8 311.6,211.9 309.8,212.7 308.4,213.1 306.9,213.2 307.1,212.2 309.2,211.3 310.6,210.8Z" fill="#c6dbef" stroke="#1c2c3c" stroke-width="0.95"/>
<path d="M340.8,233.4 342.2,236.6 343.4,239.9 343.3,241.4 342.8,242.0 341.5,240.7 339.8,238.8 338.4,234.5 336.2,230.9 335.1,227.3 335.2,225.7 336.5,226.8 337.1,225.8 339.3,231.2Z" fill="#c6dbef" stroke="#1c2c3c" stroke-width="0.95"/>
<path d="M333.5,243.5 332.6,244.8 332.3,246.5 331.0,247.9 329.4,246.4 327.7,246.4 324.0,246.5 324.1,243.5 327.0,242.0 327.7,240.4 328.7,237.6 331.4,237.0 332.6,240.0 335.3,240.8Z" fill="#c6dbef" stroke="#1c2c3c" stroke-width="0.95"/>
<path d="M334.0,231.0 333.4,232.2 332.5,232.5 331.3,232.6 330.7,231.0 331.4,229.5 332.5,228.8 333.4,229.9Z" fill="#c6dbef" stroke="#1c2c3c" stroke-width="0.95"/>
<path d="M353.4,241.0 353.9,243.5 353.5,244.9 352.3,243.5 351.5,242.5 350.7,240.9 350.1,238.6 350.9,237.6 352.2,239.2Z" fill="#c6dbef" stroke="#1c2c3c" stroke-width="0.95"/>
<path d="M353.5,252.0 353.8,254.7 352.8,256.6 351.3,256.7 350.1,255.7 349.4,254.0 348.6,252.0 348.9,249.5 350.2,248.5 351.3,247.4 353.0,246.7 354.0,249.2Z" fill="#9ecae1" stroke="#1c2c3c" stroke-width="0.7"/>
<path d="M332.2,196.5 332.0,197.8 330.6,198.2 329.2,198.8 327.5,198.1 326.8,196.5 328.1,195.3 329.4,194.8 330.8,194.4 332.2,195.1Z" fill="#4292c6" stroke="#1c2c3c" stroke-width="0.7"/>
<path d="M335.4,200.5 334.5,201.3 333.7,201.9 333.0,201.1 332.9,199.9 333.8,199.6 334.5,199.8Z" fill="#4292c6" stroke="#1c2c3c" stroke-width="0.7"/>
<path d="M342.4,181.3 342.7,183.4 342.0,184.1 341.1,183.4 340.3,181.7 340.1,179.2 340.9,178.0 342.0,179.2Z" fill="#4292c6" stroke="#1c2c3c" stroke-width="0.7"/>
<path d="M433.7,73.9 432.5,75.2 432.4,77.7 431.6,78.2 431.0,77.4 430.0,80.0 429.4,78.9 429.8,76.1 428.6,75.6 430.0,73.4 429.5,71.2 430.2,69.8 431.0,69.5 431.5,70.9 432.6,67.3 432.8,69.3 432.9,71.0 432.9,72.4Z" fill="#c6dbef" stroke="#1c2c3c" stroke-width="1.25"/>
<path d="M433.0,87.8 432.5,89.8 431.5,91.8 431.4,90.7 430.8,91.1 431.2,89.2 431.5,87.3 432.5,85.4 433.6,83.0 433.6,84.7 433.5,85.5 433.6,86.2Z" fill="#c6dbef" stroke="#1c2c3c" stroke-width="1.25"/>
<path d="M428.1,79.9 427.6,80.2 426.9,80.3 425.8,80.9 424.8,80.0 425.6,79.0 425.5,78.3 425.6,77.4 426.6,77.2 427.5,77.8 428.3,78.4 429.0,79.3Z" fill="#c6dbef" stroke="#1c2c3c" stroke-width="1.25"/>
<path d="M437.7,65.8 437.2,67.2 436.6,67.5 436.2,67.5 435.7,67.6 435.2,67.0 435.4,65.4 435.9,64.2 436.4,63.0 437.1,62.4 437.1,64.1 437.6,64.4Z" fill="#c6dbef" stroke="#1c2c3c" stroke-width="1.25"/>
<path d="M440.4,60.1 440.1,61.5 439.5,61.1 438.9,61.5 438.7,60.8 438.9,59.8 438.9,58.4 439.5,58.1 440.1,58.1 440.2,59.1Z" fill="#c6dbef" stroke="#1c2c3c" stroke-width="1.25"/>
<path d="M399.6,127.2 399.5,127.7 399.8,128.5 399.1,129.1 397.9,129.5 396.9,128.4 395.1,129.2 393.6,128.8 394.9,127.5 394.9,127.0 394.7,126.4 394.3,125.5 396.3,126.0 396.8,125.3 397.9,125.3 399.7,124.8 399.4,126.1 400.7,126.5Z" fill="#c6dbef" stroke="#1c2c3c" stroke-width="1.25"/>
<path d="M394.2,132.3 393.4,133.5 392.3,133.7 392.5,132.6 392.3,132.2 392.1,131.6 392.6,130.5 393.7,130.3 394.5,130.1 395.6,129.8 394.9,131.0 395.5,131.6Z" fill="#c6dbef" stroke="#1c2c3c" stroke-width="1.25"/>
<path d="M402.7,134.1 402.4,134.8 401.9,135.1 401.4,135.4 401.4,134.6 401.5,133.5 402.2,132.8 402.7,132.7 402.9,132.9 403.3,133.1Z" fill="#c6dbef" stroke="#1c2c3c" stroke-width="1.25"/>
<path d="M401.3,114.5 400.9,115.0 400.1,115.3 399.2,115.4 399.1,114.6 398.9,114.3 398.7,113.8 399.5,113.6 400.2,113.8 400.8,114.0Z" fill="#c6dbef" stroke="#1c2c3c" stroke-width="1.25"/>
<path d="M409.5,113.6 410.1,114.0 409.0,114.5 407.5,114.8 406.7,114.4 406.1,114.2 406.8,113.7 407.4,113.3 408.5,113.2 409.5,113.2Z" fill="#c6dbef" stroke="#1c2c3c" stroke-width="1.25"/>
<path d="M337.4,142.5 337.4,144.1 336.9,146.1 338.2,148.6 337.0,150.3 336.4,151.5 335.4,152.6 334.0,155.0 332.3,157.3 331.5,159.2 332.6,160.3 331.2,161.2 328.8,161.8 329.2,163.6 327.0,165.0 325.8,165.4 324.0,167.5 322.0,168.7 321.9,169.9 320.0,171.0 317.9,173.0 316.3,175.8 316.5,177.0 315.2,179.2 315.5,181.6 315.2,183.0 314.3,186.1 314.0,187.0 313.5,189.1 313.2,191.0 313.1,192.5 311.0,195.0 310.6,196.6 308.5,198.8 306.8,201.2 304.9,202.7 304.6,203.4 306.0,202.3 306.0,199.5 305.9,197.0 307.7,195.6 308.9,193.9 307.8,193.0 309.5,191.0 310.6,190.4 309.6,187.3 310.8,186.2 311.8,183.6 310.8,182.6 311.5,181.0 311.4,179.0 311.6,176.9 311.3,175.2 309.3,173.0 311.0,172.2 312.0,171.0 312.8,169.9 314.8,169.0 317.2,168.4 317.5,166.0 319.4,163.6 319.5,161.8 319.2,160.2 317.9,158.0 319.0,155.0 319.8,153.5 321.0,151.9 321.8,150.9 324.0,149.5 325.2,149.4 327.2,148.0 329.3,148.1 330.0,146.0 332.5,144.0 333.5,144.0 335.9,143.9Z" fill="#c6dbef" stroke="#222" stroke-width="1.05"/>
<path d="M361.0,140.0 362.4,141.9 363.0,143.0 366.0,144.0 368.0,144.5 370.0,145.5 372.1,145.2 375.0,145.0 377.4,144.1 380.0,144.0 382.1,143.6 385.0,142.5 389.0,143.0 392.5,141.0 395.1,139.7 397.5,138.8 398.5,143.0 397.2,146.4 396.0,149.0 395.0,151.3 393.2,153.0 392.0,155.0 390.5,156.6 388.7,158.8 387.0,161.0 385.3,162.2 383.0,164.0 380.0,166.2 382.1,168.1 384.0,169.5 382.0,171.6 380.5,173.0 378.0,176.5 377.0,178.8 380.0,178.6 383.0,177.5 387.0,175.8 391.0,174.0 393.8,173.9 396.0,174.6 400.0,175.0 402.7,174.4 405.0,174.5 408.5,174.7 412.0,175.0 414.4,175.0 417.6,175.2 420.0,175.5 421.1,177.7 422.6,179.7 424.0,181.5 423.0,183.7 422.6,186.2 421.5,188.5 420.2,190.5 418.4,193.2 417.5,195.0 416.3,197.8 415.7,200.4 415.0,202.5 413.4,205.1 412.0,207.0 410.3,209.3 408.5,212.0 407.4,214.8 406.0,217.3 403.0,221.0 400.6,222.2 398.0,223.5 394.0,224.5 396.3,225.0 399.0,225.3 401.2,225.6 404.0,225.5 407.0,227.5 404.9,228.9 402.5,230.5 400.5,231.5 398.0,233.0 394.0,235.5 391.4,236.5 389.0,237.0 386.0,237.5 388.4,238.4 391.0,239.0 394.1,239.1 397.0,238.5 400.9,238.7 404.0,238.5 407.2,239.0 410.0,240.0 414.0,242.0 417.0,244.0 419.0,247.5 420.9,249.5 422.5,251.0 423.7,253.5 425.0,256.0 426.2,258.9 427.5,261.0 428.1,263.9 429.0,267.0 429.1,270.4 430.0,274.0 430.6,277.8 431.0,281.0 432.3,283.4 433.0,286.0 435.0,289.0 437.9,289.8 440.0,291.0 442.3,292.1 443.9,293.3 446.0,295.0 448.3,297.1 449.7,298.7 452.0,300.5 454.6,302.5 457.5,304.5 456.0,308.5 457.5,310.4 459.0,313.0 460.8,315.3 462.0,318.0 463.7,320.4 465.5,323.5 461.0,322.5 458.1,322.0 456.0,322.0 452.0,322.5 454.9,324.1 458.0,325.0 460.6,326.0 462.5,327.0 464.2,329.4 466.0,331.5 467.5,333.6 468.5,336.0 469.8,340.0 469.1,342.4 468.0,345.0 466.3,347.2 464.5,349.0 463.0,352.0 466.0,353.0 468.0,350.5 471.5,348.5 474.5,348.1 477.5,347.3 480.4,347.2 483.0,347.8 485.1,348.1 488.0,349.0 490.3,349.5 493.0,350.5 495.1,351.5 498.0,353.0 499.7,355.8 501.3,358.0 503.0,362.0 502.9,364.4 503.0,367.0 502.4,369.6 502.0,372.0 500.5,376.5 499.5,379.4 498.0,381.5 496.2,383.7 494.5,385.5 492.0,388.5 490.5,392.0 487.5,395.5 484.5,398.5 482.0,401.0 478.0,402.5 482.0,404.5 484.4,405.0 487.0,405.0 489.3,405.3 492.0,405.0 494.8,405.7 497.5,406.0 498.5,409.5 497.5,413.0 495.8,415.1 494.0,417.5 492.0,419.0 490.0,421.3 486.0,423.5 483.0,425.0 480.1,426.2 478.0,427.3 474.0,428.8 470.0,429.8 466.0,429.2 462.0,428.5 459.5,428.9 457.0,428.8 454.1,429.0 452.0,429.2 447.5,429.5 443.0,429.8 438.5,429.3 434.0,428.8 431.0,430.0 427.0,431.5 424.5,432.1 422.0,432.5 417.5,433.5 413.0,433.0 410.0,434.5 408.3,437.8 407.3,435.4 406.0,433.0 403.6,432.0 401.0,431.0 398.6,430.5 396.0,430.5 392.5,432.0 390.0,434.0 387.5,435.1 385.0,436.0 383.5,439.0 382.5,443.0 380.0,446.5 377.5,449.0 373.0,447.5 369.0,445.5 366.0,444.5 362.0,444.5 359.3,445.5 357.0,445.8 354.7,447.3 352.0,448.0 348.0,450.0 346.0,454.0 343.5,458.0 340.5,455.5 338.0,452.5 335.0,453.5 333.0,454.8 330.5,453.8 331.0,450.5 334.0,448.7 336.3,448.5 339.0,448.3 341.1,446.0 343.5,444.5 346.0,441.0 348.5,437.5 350.1,435.6 352.5,434.2 354.4,431.8 355.8,430.0 357.3,427.5 358.5,425.5 359.2,423.0 360.5,421.0 364.0,418.5 366.5,417.0 368.5,414.2 373.0,413.0 375.6,413.3 378.0,413.5 382.0,414.3 384.5,414.9 387.0,415.5 390.5,415.3 392.5,412.5 395.5,409.3 398.5,406.3 401.5,403.8 404.5,401.0 401.0,401.3 397.0,402.3 393.0,403.3 390.0,404.2 386.0,404.5 383.3,404.0 381.0,403.5 379.1,401.8 376.5,400.5 374.4,399.2 372.0,398.3 368.5,398.5 365.0,400.5 362.5,397.5 359.0,396.0 355.0,395.5 351.5,397.5 348.0,396.5 345.0,395.0 343.0,392.0 342.0,389.5 344.5,387.5 348.0,386.0 352.0,384.5 356.0,383.5 360.0,381.5 364.0,379.0 367.0,376.5 369.0,373.5 370.5,370.5 371.3,366.5 371.6,363.0 372.2,359.5 372.8,356.0 372.2,353.0 368.0,354.0 364.0,355.4 360.0,356.2 356.3,355.3 359.0,353.0 363.0,350.5 367.0,348.0 370.0,345.0 371.5,341.0 374.5,337.5 377.5,335.6 380.5,334.5 384.0,334.3 388.0,333.8 392.0,333.2 395.5,332.6 396.0,330.5 395.0,327.0 395.8,322.3 395.8,318.4 396.6,314.5 398.9,310.6 398.9,306.7 395.9,307.4 393.4,308.3 391.9,305.2 390.8,303.2 390.3,300.5 388.6,297.9 387.2,295.8 385.6,292.7 384.8,290.3 385.6,285.6 386.6,283.2 388.0,281.0 391.0,277.8 393.5,276.2 395.8,273.9 393.7,274.2 391.0,275.0 388.6,275.6 386.0,275.5 382.5,276.2 379.0,277.8 376.2,278.8 373.0,279.6 370.0,280.0 367.4,278.9 365.0,277.5 362.5,279.0 360.0,281.2 358.0,282.9 355.5,284.0 354.5,280.0 353.8,276.2 351.2,273.8 354.0,271.5 356.2,267.5 358.0,264.0 360.0,261.2 362.0,257.5 362.5,254.0 361.2,250.0 360.0,246.0 360.0,243.0 357.0,241.5 355.5,238.0 354.5,240.5 353.5,238.2 352.5,236.0 353.0,234.1 352.3,232.5 351.0,231.0 351.5,228.7 352.5,227.0 350.5,228.0 349.9,229.0 349.5,231.5 349.1,233.0 347.5,234.1 348.0,236.5 348.4,237.9 347.0,241.0 346.6,243.7 345.8,244.1 346.5,246.0 346.5,248.6 346.0,252.0 345.2,255.3 345.0,258.0 344.1,260.1 343.0,262.5 340.8,261.0 341.0,257.8 341.2,255.0 341.9,252.4 342.0,249.0 342.1,246.0 342.8,243.0 342.0,241.1 343.1,240.1 342.5,238.0 341.1,235.4 341.0,233.5 341.1,231.2 341.5,229.5 342.7,228.4 343.0,226.0 343.5,223.0 343.5,220.5 343.6,218.5 344.5,216.8 341.8,215.4 341.0,214.5 340.5,213.3 338.0,212.0 336.9,211.2 335.5,210.0 334.5,209.5 333.3,207.6 334.1,206.0 336.0,205.3 338.4,204.1 339.0,203.0 341.5,201.0 342.0,200.5 343.5,198.0 343.4,196.4 342.0,195.0 342.7,194.3 343.5,192.0 341.7,190.8 341.5,189.5 342.4,188.4 344.5,188.0 343.0,186.0 344.7,184.3 345.0,183.0 344.6,180.2 343.0,179.5 345.1,179.3 345.0,177.0 344.3,174.3 342.8,173.0 343.9,170.5 344.1,168.3 345.2,167.5 345.7,165.0 348.0,164.0 348.7,163.3 350.7,161.2 351.3,159.8 353.0,157.0 354.2,154.8 356.2,153.4 356.6,150.6 357.7,147.2 358.8,144.4 359.0,143.0 360.6,141.1Z" fill="none" stroke="#1c2c3c" stroke-width="0.75"/>
<path d="M286.4,289.0 289.0,285.5 292.9,280.5 296.0,279.0 299.0,277.5 301.0,273.0 303.0,269.5 305.2,267.5 308.0,268.5 311.0,270.0 313.0,266.5 314.6,263.8 319.0,262.8 323.4,262.0 328.0,262.3 331.6,263.2 335.1,266.7 335.5,270.0 336.3,272.6 338.0,276.0 339.8,279.6 340.5,282.0 339.0,284.0 342.1,283.3 344.5,287.8 344.8,291.5 343.9,294.9 342.5,297.0 341.0,298.4 340.5,295.0 339.5,299.5 336.3,301.9 334.0,305.0 331.6,307.2 328.0,305.5 324.5,305.4 321.5,305.2 318.7,304.2 317.0,301.5 315.2,299.5 313.0,299.5 310.5,298.4 307.0,300.0 303.4,301.9 300.5,300.8 297.6,299.0 295.0,297.0 292.9,294.9 290.0,293.0 288.0,291.0Z" fill="none" stroke="#1c2c3c" stroke-width="0.75"/>
<path d="M380,166.2 374,165.8 369,164 M380.5,173 375,175.5 371,177.5 M377,178.8 373,180 369.5,181.2 M452,322.5 447,322 443,322.8 M478,402.5 473,402 469,402.5 M404.5,401 407,398 408.5,395 M394,224.5 390,224 387,225 M386,237.5 382,236.5 M360,243 364,241.5 367,241" fill="none" stroke="#1c2c3c" stroke-width="0.7"/>
<path d="M334,146 331,150 333,153 M328,152 325,156 327,160 M322,160 320,165 323,167 M318,170 315,175 M313,182 311.5,188 M330,148.5 326,151 M324,159 320,160.5 M317,215.7 321,213.5 325,211 328.7,209.4 M327,218.5 332,220 337,221.5 341,222.5 M330,224 336,224.8 342,224.5 M344.3,221 344.6,228 344.2,237 M347,234 351,229 355,225.5 M350,238 354,233 357.5,229.5 M353.5,241 357,237 360,234 M333,197 336,199.5 335,203 M338,183 341,186 340,190 M346,170 349,172 348,176 M350,158 353,160.5 355.5,159 M322,158 326,156 329,158.5 M316,176 319,178.5 318,183 M312,188 314.5,190 313,194" fill="none" stroke="#1c2c3c" stroke-width="1.1" stroke-linecap="round" opacity="0.85"/>
</g>
<g transform="translate(0.0,0)" stroke="#6a5650" stroke-width="0.45" stroke-linejoin="round">
<path d="M361.0,140.0 362.4,141.9 363.0,143.0 366.0,144.0 368.0,144.5 370.0,145.5 372.1,145.2 375.0,145.0 377.4,144.1 380.0,144.0 382.1,143.6 385.0,142.5 389.0,143.0 392.5,141.0 395.1,139.7 397.5,138.8 398.5,143.0 397.2,146.4 396.0,149.0 395.0,151.3 393.2,153.0 392.0,155.0 390.5,156.6 388.7,158.8 387.0,161.0 385.3,162.2 383.0,164.0 380.0,166.2 382.1,168.1 384.0,169.5 382.0,171.6 380.5,173.0 378.0,176.5 377.0,178.8 380.0,178.6 383.0,177.5 387.0,175.8 391.0,174.0 393.8,173.9 396.0,174.6 400.0,175.0 402.7,174.4 405.0,174.5 408.5,174.7 412.0,175.0 414.4,175.0 417.6,175.2 420.0,175.5 421.1,177.7 422.6,179.7 424.0,181.5 423.0,183.7 422.6,186.2 421.5,188.5 420.2,190.5 418.4,193.2 417.5,195.0 416.3,197.8 415.7,200.4 415.0,202.5 413.4,205.1 412.0,207.0 410.3,209.3 408.5,212.0 407.4,214.8 406.0,217.3 403.0,221.0 400.6,222.2 398.0,223.5 394.0,224.5 396.3,225.0 399.0,225.3 401.2,225.6 404.0,225.5 407.0,227.5 404.9,228.9 402.5,230.5 400.5,231.5 398.0,233.0 394.0,235.5 391.4,236.5 389.0,237.0 386.0,237.5 388.4,238.4 391.0,239.0 394.1,239.1 397.0,238.5 400.9,238.7 404.0,238.5 407.2,239.0 410.0,240.0 414.0,242.0 417.0,244.0 419.0,247.5 420.9,249.5 422.5,251.0 423.7,253.5 425.0,256.0 426.2,258.9 427.5,261.0 428.1,263.9 429.0,267.0 429.1,270.4 430.0,274.0 430.6,277.8 431.0,281.0 432.3,283.4 433.0,286.0 435.0,289.0 437.9,289.8 440.0,291.0 442.3,292.1 443.9,293.3 446.0,295.0 448.3,297.1 449.7,298.7 452.0,300.5 454.6,302.5 457.5,304.5 456.0,308.5 457.5,310.4 459.0,313.0 460.8,315.3 462.0,318.0 463.7,320.4 465.5,323.5 461.0,322.5 458.1,322.0 456.0,322.0 452.0,322.5 454.9,324.1 458.0,325.0 460.6,326.0 462.5,327.0 464.2,329.4 466.0,331.5 467.5,333.6 468.5,336.0 469.8,340.0 469.1,342.4 468.0,345.0 466.3,347.2 464.5,349.0 463.0,352.0 466.0,353.0 468.0,350.5 471.5,348.5 474.5,348.1 477.5,347.3 480.4,347.2 483.0,347.8 485.1,348.1 488.0,349.0 490.3,349.5 493.0,350.5 495.1,351.5 498.0,353.0 499.7,355.8 501.3,358.0 503.0,362.0 502.9,364.4 503.0,367.0 502.4,369.6 502.0,372.0 500.5,376.5 499.5,379.4 498.0,381.5 496.2,383.7 494.5,385.5 492.0,388.5 490.5,392.0 487.5,395.5 484.5,398.5 482.0,401.0 478.0,402.5 482.0,404.5 484.4,405.0 487.0,405.0 489.3,405.3 492.0,405.0 494.8,405.7 497.5,406.0 498.5,409.5 497.5,413.0 495.8,415.1 494.0,417.5 492.0,419.0 490.0,421.3 486.0,423.5 483.0,425.0 480.1,426.2 478.0,427.3 474.0,428.8 470.0,429.8 466.0,429.2 462.0,428.5 459.5,428.9 457.0,428.8 454.1,429.0 452.0,429.2 447.5,429.5 443.0,429.8 438.5,429.3 434.0,428.8 431.0,430.0 427.0,431.5 424.5,432.1 422.0,432.5 417.5,433.5 413.0,433.0 410.0,434.5 408.3,437.8 407.3,435.4 406.0,433.0 403.6,432.0 401.0,431.0 398.6,430.5 396.0,430.5 392.5,432.0 390.0,434.0 387.5,435.1 385.0,436.0 383.5,439.0 382.5,443.0 380.0,446.5 377.5,449.0 373.0,447.5 369.0,445.5 366.0,444.5 362.0,444.5 359.3,445.5 357.0,445.8 354.7,447.3 352.0,448.0 348.0,450.0 346.0,454.0 343.5,458.0 340.5,455.5 338.0,452.5 335.0,453.5 333.0,454.8 330.5,453.8 331.0,450.5 334.0,448.7 336.3,448.5 339.0,448.3 341.1,446.0 343.5,444.5 346.0,441.0 348.5,437.5 350.1,435.6 352.5,434.2 354.4,431.8 355.8,430.0 357.3,427.5 358.5,425.5 359.2,423.0 360.5,421.0 364.0,418.5 366.5,417.0 368.5,414.2 373.0,413.0 375.6,413.3 378.0,413.5 382.0,414.3 384.5,414.9 387.0,415.5 390.5,415.3 392.5,412.5 395.5,409.3 398.5,406.3 401.5,403.8 404.5,401.0 401.0,401.3 397.0,402.3 393.0,403.3 390.0,404.2 386.0,404.5 383.3,404.0 381.0,403.5 379.1,401.8 376.5,400.5 374.4,399.2 372.0,398.3 368.5,398.5 365.0,400.5 362.5,397.5 359.0,396.0 355.0,395.5 351.5,397.5 348.0,396.5 345.0,395.0 343.0,392.0 342.0,389.5 344.5,387.5 348.0,386.0 352.0,384.5 356.0,383.5 360.0,381.5 364.0,379.0 367.0,376.5 369.0,373.5 370.5,370.5 371.3,366.5 371.6,363.0 372.2,359.5 372.8,356.0 372.2,353.0 368.0,354.0 364.0,355.4 360.0,356.2 356.3,355.3 359.0,353.0 363.0,350.5 367.0,348.0 370.0,345.0 371.5,341.0 374.5,337.5 377.5,335.6 380.5,334.5 384.0,334.3 388.0,333.8 392.0,333.2 395.5,332.6 396.0,330.5 395.0,327.0 395.8,322.3 395.8,318.4 396.6,314.5 398.9,310.6 398.9,306.7 395.9,307.4 393.4,308.3 391.9,305.2 390.8,303.2 390.3,300.5 388.6,297.9 387.2,295.8 385.6,292.7 384.8,290.3 385.6,285.6 386.6,283.2 388.0,281.0 391.0,277.8 393.5,276.2 395.8,273.9 393.7,274.2 391.0,275.0 388.6,275.6 386.0,275.5 382.5,276.2 379.0,277.8 376.2,278.8 373.0,279.6 370.0,280.0 367.4,278.9 365.0,277.5 362.5,279.0 360.0,281.2 358.0,282.9 355.5,284.0 354.5,280.0 353.8,276.2 351.2,273.8 354.0,271.5 356.2,267.5 358.0,264.0 360.0,261.2 362.0,257.5 362.5,254.0 361.2,250.0 360.0,246.0 360.0,243.0 357.0,241.5 355.5,238.0 354.5,240.5 353.5,238.2 352.5,236.0 353.0,234.1 352.3,232.5 351.0,231.0 351.5,228.7 352.5,227.0 350.5,228.0 349.9,229.0 349.5,231.5 349.1,233.0 347.5,234.1 348.0,236.5 348.4,237.9 347.0,241.0 346.6,243.7 345.8,244.1 346.5,246.0 346.5,248.6 346.0,252.0 345.2,255.3 345.0,258.0 344.1,260.1 343.0,262.5 340.8,261.0 341.0,257.8 341.2,255.0 341.9,252.4 342.0,249.0 342.1,246.0 342.8,243.0 342.0,241.1 343.1,240.1 342.5,238.0 341.1,235.4 341.0,233.5 341.1,231.2 341.5,229.5 342.7,228.4 343.0,226.0 343.5,223.0 343.5,220.5 343.6,218.5 344.5,216.8 341.8,215.4 341.0,214.5 340.5,213.3 338.0,212.0 336.9,211.2 335.5,210.0 334.5,209.5 333.3,207.6 334.1,206.0 336.0,205.3 338.4,204.1 339.0,203.0 341.5,201.0 342.0,200.5 343.5,198.0 343.4,196.4 342.0,195.0 342.7,194.3 343.5,192.0 341.7,190.8 341.5,189.5 342.4,188.4 344.5,188.0 343.0,186.0 344.7,184.3 345.0,183.0 344.6,180.2 343.0,179.5 345.1,179.3 345.0,177.0 344.3,174.3 342.8,173.0 343.9,170.5 344.1,168.3 345.2,167.5 345.7,165.0 348.0,164.0 348.7,163.3 350.7,161.2 351.3,159.8 353.0,157.0 354.2,154.8 356.2,153.4 356.6,150.6 357.7,147.2 358.8,144.4 359.0,143.0 360.6,141.1Z" fill="#fee0d2"/>
<path d="M286.4,289.0 289.0,285.5 292.9,280.5 296.0,279.0 299.0,277.5 301.0,273.0 303.0,269.5 305.2,267.5 308.0,268.5 311.0,270.0 313.0,266.5 314.6,263.8 319.0,262.8 323.4,262.0 328.0,262.3 331.6,263.2 335.1,266.7 335.5,270.0 336.3,272.6 338.0,276.0 339.8,279.6 340.5,282.0 339.0,284.0 342.1,283.3 344.5,287.8 344.8,291.5 343.9,294.9 342.5,297.0 341.0,298.4 340.5,295.0 339.5,299.5 336.3,301.9 334.0,305.0 331.6,307.2 328.0,305.5 324.5,305.4 321.5,305.2 318.7,304.2 317.0,301.5 315.2,299.5 313.0,299.5 310.5,298.4 307.0,300.0 303.4,301.9 300.5,300.8 297.6,299.0 295.0,297.0 292.9,294.9 290.0,293.0 288.0,291.0Z" fill="#fee0d2"/>
<path d="M417,361.9 416.2,363.9 418.3,366.4 418.6,369.2 419.7,369.8 420.5,370.9 425.3,371.3 426.8,368.7 425.6,365.9 423.8,365.7 421.8,364.3 421.1,362Z" fill="#cb181d"/>
<path d="M441.7,357.5 434.9,354.9 433,356.4 433,359.5 439.7,363.2 442.2,358.4Z" fill="#ef3b2c"/>
<path d="M436,346 432.7,347.2 435.3,353.6 439.6,350.4 439.1,346.7Z" fill="#ef3b2c"/>
<path d="M435.3,353.6 432.7,347.2 431,346.7 428.2,352.2 429.8,355.2 433,356.4 434.9,354.9Z" fill="#fca082"/>
<path d="M453.2,364.6 452.5,367.2 454.7,371.5 454.8,374.1 456.5,375.1 458.3,377.6 466.8,375.2 466.4,372.3 463.9,369.4 463.4,369.4 459.8,367.3 459,365.2Z" fill="#fca082"/>
<path d="M458.3,377.6 456.5,375.1 454.8,374.1 451.5,375.2 450.5,380.5 446.7,383.1 446.8,384.3 447.2,384.8 453.6,386.8 454.4,382.4 458.3,379.8Z" fill="#fca082"/>
<path d="M443.1,380.1 438.4,383.2 440.9,388 440.6,389.4 442.2,392.1 442.2,394.6 447.9,396 450.3,392.1 447.3,389.6 447.2,384.8 446.8,384.3 446.7,383.1 443.7,380.2Z" fill="#fca082"/>
<path d="M447.9,396 442.2,394.6 440.4,396.7 440.5,399.7 446.1,401.8 448.7,397.9Z" fill="#fdd3bf"/>
<path d="M432.3,400.1 429.3,401.1 428.5,402.7 429.9,408.2 431.3,409.3 431.5,409.6 436.6,408.8 440.3,410.8 442.3,409.9 442.9,407.5 438.7,402.4 438.4,402.5 435.3,402.3Z" fill="#fca082"/>
<path d="M422.4,386.3 421.4,385.8 417.6,388 417.1,389.9 414.5,393.1 415,396.7 419,399.1 420.9,398.6 421.4,398.1 426.3,397.3 428.3,393.7 427.7,392.2 424.9,391.1Z" fill="#fcbba1"/>
<path d="M409.1,405.2 406.6,405.6 405.9,408.3 407.4,409.4Z" fill="#fb6a4a"/>
<path d="M497.5,413 498.5,409.5 497.5,406 494.8,405.7 492.3,405.1 492.2,405.6 489.2,409.3 491.3,413.1 496.4,414.3Z" fill="#fb6a4a"/>
<path d="M484.1,415.3 486.5,416.8 491.3,413.1 489.2,409.3 486.4,409.4 483.7,414Z" fill="#fcbba1"/>
<path d="M491.3,413.1 486.5,416.8 488.9,421.9 490,421.3 492,419 494,417.5 496.4,414.3Z" fill="#fca082"/>
<path d="M479.4,401.1 477.1,401.6 475.6,403.1 475.3,407.3 479.7,408.6 483.2,404.7 482,404.5 478,402.5 480.6,401.5Z" fill="#fb6a4a"/>
<path d="M452.1,361.4 453.2,364.6 459,365.2 460.6,361.7 457.5,359.6 452.2,361.2Z" fill="#fcbba1"/>
<path d="M460.1,401.1 462,402.5 463.8,400.9 462.9,399 461.1,399Z" fill="#cb181d"/>
<path d="M458,397.6 457.4,400 459.3,401.2 460.1,401.1 461.1,399 460.2,397.7Z" fill="#ef3b2c"/>
<path d="M462.9,399 463.8,400.9 465.4,401.3 466.7,399.6 466,397.9 464,397.4Z" fill="#ef3b2c"/>
<path d="M458.3,403.7 460.2,405.2 462,403.5 462,402.5 460.1,401.1 459.3,401.2Z" fill="#ef3b2c"/>
<path d="M462,403.5 464.5,404.8 466.2,403.3 465.4,401.3 463.8,400.9 462,402.5Z" fill="#ef3b2c"/>
<path d="M462.5,393.8 460.2,397.7 461.1,399 462.9,399 464,397.4Z" fill="#fb6a4a"/>
<path d="M457.4,400 455.7,400.7 455.7,404 458.3,403.7 459.3,401.2Z" fill="#fb6a4a"/>
<path d="M466.7,399.6 465.4,401.3 466.2,403.3 469.4,404.1 470.5,402.4 470.1,400.1Z" fill="#fca082"/>
<path d="M460.2,405.2 460.2,406.2 463.2,408.2 464.5,408.1 464.5,404.8 462,403.5Z" fill="#fb6a4a"/>
<path d="M462.5,393.8 457.9,392.7 456,394.9 458,397.6 460.2,397.7Z" fill="#fca082"/>
<path d="M466,397.9 468.7,394.5 468.6,393.8 463.6,392.9 462.5,393.8 464,397.4Z" fill="#fca082"/>
<path d="M456,394.9 455.1,395.1 452.6,398.9 455.7,400.7 457.4,400 458,397.6Z" fill="#fca082"/>
<path d="M466,397.9 466.7,399.6 470.1,400.1 471.3,397.7 468.7,394.5Z" fill="#fcbba1"/>
<path d="M455.7,404 455.5,404.3 455.8,406.8 458,408 460.2,406.2 460.2,405.2 458.3,403.7Z" fill="#fca082"/>
<path d="M464.5,408.1 465.9,408.9 469.6,406.8 469.4,404.1 466.2,403.3 464.5,404.8Z" fill="#fca082"/>
<path d="M448.4,353.5 445.6,358.6 448.4,361.1 452.1,361.4 452.2,361.2 457.5,359.6 458.1,354.9 457.8,354.5 454.3,354.8 452.5,349.5 447.9,351Z" fill="#fca082"/>
<path d="M440.6,345.6 445.7,345.7 445.9,345.4 441.2,340.8 440.1,341.6Z" fill="#fca082"/>
<path d="M474.2,356 471.2,359.4 474.9,363.3 477.9,363.1 478.4,362.4 481.8,360.7 482.8,357.6 479.6,354.3 479.8,351.7 477.2,347.4 475.3,347.9 472.6,352.8Z" fill="#fca082" stroke-width="0.6"/>
<path d="M478.4,385.7 479.8,384.2 477.1,378.4 471.4,383 472.8,386.3Z" fill="#fca082" stroke-width="0.6"/>
<path d="M429,267 428.1,263.9 427.5,261 426.2,258.9 425,256 422.5,251 419.6,248.1 414,250.9 414,256.3 409.6,256.9 407.4,262.8 402.9,265.8 402.5,267.1 406.4,276.6 407.3,277.3 408.7,279 412,279.9 415,278.2 421.4,279.8 422.1,279.6 423,278.1 423.2,277.2 429.8,273.1 429.1,270.4Z" fill="#fca082"/>
<path d="M428.9,278.9 430.4,276.6 429.8,273.1 423.2,277.2 423,278.1Z" fill="#fdd3bf"/>
<path d="M428.9,278.9 429.9,281.2 431,281 430.4,276.6Z" fill="#fdd3bf"/>
<path d="M422.1,279.6 425.9,283.4 428.6,283.2 429.9,281.2 428.9,278.9 423,278.1Z" fill="#fdd3bf"/>
<path d="M431.6,286.7 432.9,285.7 432.3,283.4 431,281 429.9,281.2 428.6,283.2Z" fill="#fcbba1"/>
<path d="M431.5,286.9 431.6,286.7 428.6,283.2 425.9,283.4 422.1,279.6 421.4,279.8 415,278.2 412,279.9 412.7,282.9 411.1,287.1 415.4,291.4 415.6,291.4 419.7,294.1 421.4,293.9 422.6,292.9 428.2,294 428.7,293.2 428.3,289Z" fill="#fca082"/>
<path d="M433.3,292.1 433.7,290.4 431.5,286.9 428.3,289 428.7,293.2Z" fill="#fdd3bf"/>
<path d="M431.6,286.7 431.5,286.9 433.7,290.4 437.1,289.6 435,289 433,286 432.9,285.7Z" fill="#fdd3bf"/>
<path d="M437.6,295.5 438.7,290.3 437.9,289.8 437.1,289.6 433.7,290.4 433.3,292.1 435.4,295.5Z" fill="#fdd3bf"/>
<path d="M437.6,295.5 439.5,297 439.8,297 442.2,292.1 438.7,290.3Z" fill="#fdd3bf"/>
<path d="M428.7,296.2 434.6,296.2 435.4,295.5 433.3,292.1 428.7,293.2 428.2,294Z" fill="#fdd3bf"/>
<path d="M402.5,267.1 395.3,273 393.5,273.5 392.4,274.6 393.7,274.2 395.8,273.9 393.5,276.2 390.9,277.9 394.2,281.2 399.4,281.8 400.8,284.9 405.2,284.3 408.7,279 407.3,277.3 406.4,276.6Z" fill="#fdd3bf"/>
<path d="M399.4,287.7 400.8,284.9 399.4,281.8 394.2,281.2 390.9,277.9 388,281 386.6,283.2 385.6,285.6 384.8,290.3 385.3,291.8 391.8,293.1 392.9,294.1 394.5,294.6 396,294 398.5,288.1Z" fill="#fdd3bf"/>
<path d="M405.2,284.3 400.8,284.9 399.4,287.7 398.5,288.1 396,294 401.5,296.4 402.9,295.9 404.5,293.9 411.4,295.3 411.8,294.4 415.4,291.4 411.1,287.1 412.7,282.9 412,279.9 408.7,279Z" fill="#fdd3bf"/>
<path d="M391.8,293.1 385.3,291.8 385.6,292.7 387.2,295.8 390.3,300.5 390.6,302.1 394.5,301 394.5,294.6 392.9,294.1Z" fill="#fdd3bf"/>
<path d="M411.6,297.5 411.4,295.3 404.5,293.9 402.9,295.9 401.5,296.4 396,294 394.5,294.6 394.5,301 396.7,303.2 396.9,307.1 404.8,304.8 405,303.8 408.2,301.2 408.6,301.1Z" fill="#fdd3bf"/>
<path d="M396.9,307.2 396.7,303.2 394.5,301 390.6,302.1 390.8,303.2 393.4,308.3 395.9,307.4Z" fill="#fdd3bf"/>
<path d="M411.4,295.3 411.6,297.5 416,299.8 416,304.6 419.3,307.3 421.1,306.5 424.2,302.1 424.8,301.8 425.1,301.2 427.9,299.2 428.7,296.2 428.2,294 422.6,292.9 421.4,293.9 419.7,294.1 415.6,291.4 411.8,294.4Z" fill="#fdd3bf"/>
<path d="M439.5,297 437.6,295.5 435.4,295.5 434.6,296.2 428.7,296.2 427.9,299.2 425.1,301.2 424.8,301.8 429.2,306.2 431.6,305.3 434.2,306.6 436.6,302.6 436.2,302Z" fill="#fdd3bf"/>
<path d="M442.1,299.2 445.8,300.2 447.4,304.6 449,305 449.1,305.1 453.9,305.6 456.6,303.9 454.6,302.5 449.7,298.7 448.3,297.1 446,295 442.2,292.1 439.8,297 441.1,297.7Z" fill="#fdd3bf"/>
<path d="M447.4,304.6 445.8,300.2 442.1,299.2 441.1,297.7 439.5,297 436.2,302 436.6,302.6 434.2,306.6 436.2,310.2 437.1,310 439.7,310.9 443.6,308.6 444.3,306.3Z" fill="#fdd3bf"/>
<path d="M449,305 447.4,304.6 444.3,306.3 443.6,308.6 439.7,310.9 441.7,315.4 441.4,316.3 447.7,321.1 447.8,321.4 451.6,321.9 452.2,322.5 454.1,322.2 458,319.9 459.3,322.2 465.5,323.5 463.7,320.4 462,318 460.8,315.3 459,313 457.5,310.4 456,308.5 457.5,304.5 456.6,303.9 453.9,305.6 449.1,305.1Z" fill="#ef3b2c"/>
<path d="M411.9,305.3 410.2,309.1 409.4,309.4 407.4,312.6 407.4,313 410.8,315.9 413.4,315.4 414.3,314.4 419,315.2 420.4,314.1 419.3,307.3 416,304.6Z" fill="#fdd3bf"/>
<path d="M434,312.1 436.2,310.2 434.2,306.6 431.6,305.3 429.2,306.2 424.8,301.8 424.2,302.1 421.1,306.5 419.3,307.3 420.4,314.1 423.3,314.7 426.3,312.1 430.2,313.5 432.7,312.2Z" fill="#fdd3bf"/>
<path d="M396.9,307.1 396.9,307.2 398.9,306.7 398.9,310.6 398.4,311.4 399.3,311.9 402.4,310.9 407.4,312.6 409.4,309.4 405.1,306.1 404.8,304.8Z" fill="#fdd3bf"/>
<path d="M399.3,311.9 400.8,315.9 405,316.8 407.4,313 407.4,312.6 402.4,310.9Z" fill="#fdd3bf"/>
<path d="M400.3,317.1 400.8,315.9 399.3,311.9 398.4,311.4 396.6,314.5 395.8,318.6Z" fill="#ef3b2c"/>
<path d="M400.3,317.1 395.8,318.6 395.8,322.4 400.7,321.3Z" fill="#fdd3bf"/>
<path d="M401.1,321.6 405.3,320.6 406,318.8 405,316.8 400.8,315.9 400.3,317.1 400.7,321.3Z" fill="#fdd3bf"/>
<path d="M409.4,318.8 410.8,315.9 407.4,313 405,316.8 406,318.8Z" fill="#fdd3bf"/>
<path d="M410.7,320.9 414.5,320 413.4,315.4 410.8,315.9 409.4,318.8Z" fill="#fdd3bf"/>
<path d="M405.3,320.6 407.6,325.1 409.8,324.1 410.7,320.9 409.4,318.8 406,318.8Z" fill="#fcbba1"/>
<path d="M403.9,326.4 407.6,325.1 405.3,320.6 401.1,321.6 401.8,325.1Z" fill="#fdd3bf"/>
<path d="M418.6,319.4 419,315.2 414.3,314.4 413.4,315.4 414.5,320 415.5,320.6Z" fill="#fdd3bf"/>
<path d="M415.5,320.6 414.5,320 410.7,320.9 409.8,324.1 410.1,324.2 415.5,324.2Z" fill="#fcbba1"/>
<path d="M401.1,321.6 400.7,321.3 395.8,322.4 395.6,323.7 399,326.5 401.8,325.1Z" fill="#fdd3bf"/>
<path d="M454.1,322.2 456,322 458.1,322 459.3,322.2 458,319.9ZM455.1,324.2 456.8,325.3 457.3,324.8Z" fill="#fca082"/>
<path d="M441.4,316.3 441.7,315.4 439.7,310.9 437.1,310 436.2,310.2 434,312.1 435.4,315.8 438.9,317.8 440.5,317.3Z" fill="#fca082"/>
<path d="M443.2,323.6 440.5,317.3 438.9,317.8 437.4,320.7 438.7,324.6 441.6,325.2Z" fill="#ef3b2c"/>
<path d="M447.7,321.1 441.4,316.3 440.5,317.3 443.2,323.6 447,322.2 447.8,321.4Z" fill="#fca082"/>
<path d="M426.3,312.1 423.3,314.7 425,318.3 426.8,318.3 430.8,320.6 432.2,320.3 435.4,315.8 434,312.1 432.7,312.2 430.2,313.5Z" fill="#ef3b2c"/>
<path d="M423.3,314.7 420.4,314.1 419,315.2 418.6,319.4 420.5,320.9 421,323.4 421.4,323.6 425.7,323 425.1,318.4 425,318.3Z" fill="#fca082"/>
<path d="M418.9,325.3 421,323.4 420.5,320.9 418.6,319.4 415.5,320.6 415.5,324.2 415.8,324.7Z" fill="#fca082"/>
<path d="M421.4,323.6 421,323.4 418.9,325.3 419.6,328.5 424.5,328.6 427.7,325.8 427.5,324.5 425.7,323Z" fill="#fca082"/>
<path d="M432.2,320.3 430.8,320.6 427.5,324.5 427.7,325.8 430.5,327.3 433.7,324.6 432.3,320.5Z" fill="#fb6a4a"/>
<path d="M437.4,320.7 432.3,320.5 433.7,324.6 436.7,325.6 438.7,324.6Z" fill="#fb6a4a"/>
<path d="M438.7,324.6 436.7,325.6 435.8,329.4 434.9,330 434.5,334.1 439.2,335.2 444.3,333.1 445.8,331.3 442.2,327.3 441.6,325.2Z" fill="#cb181d"/>
<path d="M431,328.7 430.5,327.3 427.7,325.8 424.5,328.6 425,331.3 429.3,332.6Z" fill="#fb6a4a"/>
<path d="M434.9,330 431,328.7 429.3,332.6 432.5,334.8 433.3,334.8 434.5,334.1Z" fill="#fca082"/>
<path d="M425,331.3 423.6,333 426,338 426.7,337.9 429.4,338.7 432.5,334.8 429.3,332.6Z" fill="#fb6a4a"/>
<path d="M447.8,321.4 447,322.2 443.2,323.6 441.6,325.2 442.2,327.3 445.8,331.3 446.8,331.2 448.9,329.7 451.5,329.4 453.8,330.3 456.8,327.9 456.8,325.3 455.1,324.2 452,322.5 452.2,322.5 451.6,321.9Z" fill="#ef3b2c"/>
<path d="M456.8,325.3 456.8,327.9 461.9,329.4 463.5,328.4 462.5,327 460.6,326 457.3,324.8Z" fill="#fca082"/>
<path d="M448.9,329.7 446.8,331.2 445.8,331.3 444.3,333.1 446.2,339.8 448.1,341.1 450.1,339.4 456,340.4 457.2,339.4 457.8,335.2 454.9,333.2 453.8,330.3 451.5,329.4Z" fill="#fca082"/>
<path d="M457.8,335.2 457.2,339.4 456,340.4 456,343.9 459.2,346.3 460.4,345.9 465.6,347.9 466.3,347.2 468,345 469.1,342.4 469.8,340 468.5,336 467.5,333.6 466,331.5 463.5,328.4 461.9,329.4 456.8,327.9 453.8,330.3 454.9,333.2Z" fill="#fdd3bf"/>
<path d="M448.1,341.1 448,342.4 453,346.1 456,343.9 456,340.4 450.1,339.4Z" fill="#fca082"/>
<path d="M457.7,349.9 459.2,346.3 456,343.9 453,346.1 453,349Z" fill="#fcbba1"/>
<path d="M446.8,350.3 447.9,351 452.5,349.5 453,349 453,346.1 448,342.4 445.7,345.7Z" fill="#fdd3bf"/>
<path d="M452.5,349.5 454.3,354.8 457.8,354.5 458.5,351.6 457.7,349.9 453,349Z" fill="#fdd3bf"/>
<path d="M460.4,345.9 459.2,346.3 457.7,349.9 458.5,351.6 463.5,351 464.5,349 465.6,347.9Z" fill="#fcbba1"/>
<path d="M457.8,354.5 458.1,354.9 457.5,359.6 460.6,361.7 463.9,360.6 466.1,361.2 468.1,359.6 467.6,352.9 466.8,352.1 466,353 463,352 463.5,351 458.5,351.6Z" fill="#cb181d"/>
<path d="M398.3,334.7 399.8,333.2 400.1,330.5 398.5,328.6 395.7,329.3 396,330.5 395.6,332.4Z" fill="#cb181d"/>
<path d="M395.6,323.7 395,327 395.7,329.3 398.5,328.6 399,326.5Z" fill="#fca082"/>
<path d="M390.8,335.8 395.5,338.1 398.1,336.5 398.3,334.7 395.6,332.4 395.5,332.6 390.6,333.4Z" fill="#fcbba1"/>
<path d="M399,326.5 398.5,328.6 400.1,330.5 403.4,329 403.9,326.4 401.8,325.1Z" fill="#fca082"/>
<path d="M400.1,330.5 399.8,333.2 403.9,333.7 405.1,331.4 403.4,329Z" fill="#ef3b2c"/>
<path d="M403.4,329 405.1,331.4 406.7,331.2 408.7,328.8 407.6,325.1 403.9,326.4Z" fill="#fb6a4a"/>
<path d="M409,334.1 411.9,332.1 411.3,330.2 408.7,328.8 406.7,331.2Z" fill="#ef3b2c"/>
<path d="M403.9,333.7 404.8,335.8 405.1,336 408.7,335.4 409,334.1 406.7,331.2 405.1,331.4Z" fill="#fca082"/>
<path d="M413,328.1 410.1,324.2 409.8,324.1 407.6,325.1 408.7,328.8 411.3,330.2Z" fill="#fca082"/>
<path d="M414.6,327.7 413,328.1 411.3,330.2 411.9,332.1 412.7,332.5 415.4,331.8 416.1,329.4Z" fill="#fb6a4a"/>
<path d="M414.6,327.7 415.8,324.7 415.5,324.2 410.1,324.2 413,328.1Z" fill="#fca082"/>
<path d="M419.6,328.5 418.9,325.3 415.8,324.7 414.6,327.7 416.1,329.4 419.3,329Z" fill="#fca082"/>
<path d="M419.3,329 416.1,329.4 415.4,331.8 417.1,333.2 419.7,332.1Z" fill="#fca082"/>
<path d="M415.4,331.8 412.7,332.5 413.6,335.7 416.8,336 417.1,333.2Z" fill="#fb6a4a"/>
<path d="M417.1,333.2 416.8,336 417.7,337.2 420.5,336.5 421.8,333.4 419.7,332.1Z" fill="#fca082"/>
<path d="M408.7,335.4 409.6,336.8 412.4,337.1 413.6,335.7 412.7,332.5 411.9,332.1 409,334.1Z" fill="#fca082"/>
<path d="M425,331.3 424.5,328.6 424.4,328.5 419.6,328.5 419.3,329 419.7,332.1 421.8,333.4 423.6,333Z" fill="#fca082"/>
<path d="M412.4,337.1 409.6,336.8 408.8,339.8 405.2,340.4 404.1,341.7 404.4,342.7 402.1,348.5 405.4,350.8 405.8,350.9 409.7,349.8 410.8,350.2 414.8,346.2 413.9,341.6 414,341.5Z" fill="#fca082"/>
<path d="M404.8,335.8 399.9,337.8 398.1,336.5 395.5,338.1 395.5,338.5 397,342.5 394.3,344.7 395.5,347 399.9,348 400.4,348.5 402.1,348.5 404.4,342.7 404.1,341.7 405.2,340.4 405.1,336Z" fill="#fcbba1"/>
<path d="M399.9,337.8 404.8,335.8 403.9,333.7 399.8,333.2 398.3,334.7 398.1,336.5Z" fill="#fcbba1"/>
<path d="M417.7,337.2 416.8,340.5 420.6,342.8 422.6,338.8 420.5,336.5Z" fill="#fca082"/>
<path d="M420.6,342.8 416.8,340.5 414,341.5 413.9,341.6 414.8,346.2 410.8,350.2 412.1,351.8 417.4,352.5 419.1,350.2 423,349.4 424.2,345.5 420.8,343.2Z" fill="#fdd3bf"/>
<path d="M422.6,338.8 420.6,342.8 420.8,343.2 424.2,345.5 426,344.9 426,338Z" fill="#fcbba1"/>
<path d="M426,344.9 429.9,345.4 431.3,341.2 429.4,338.7 426.7,337.9 426,338Z" fill="#fca082"/>
<path d="M429.4,338.7 431.3,341.2 434.5,339.9 433.3,334.8 432.5,334.8Z" fill="#fcbba1"/>
<path d="M444.3,333.1 439.2,335.2 437,340 440.1,341.6 441.2,340.8 442.6,339.4 446.2,339.8Z" fill="#fdd3bf"/>
<path d="M445.9,345.4 448,342.4 448.1,341.1 446.2,339.8 442.6,339.4 441.2,340.8Z" fill="#fdd3bf"/>
<path d="M437,340 436,340.4 436,346 439.1,346.7 440.6,345.6 440.1,341.6Z" fill="#fcbba1"/>
<path d="M436,340.4 434.5,339.9 431.3,341.2 429.9,345.4 431,346.7 432.7,347.2 436,346Z" fill="#fcbba1"/>
<path d="M335.5,210 338,212 340.5,213.3 341,214.5 341.8,215.4 344.5,216.8 343.6,218.5 343.6,219.4 347.1,215.9 349,215.1 353.5,216.8 355.5,215.8 358.3,210.9 360.6,210 364.9,211.5 369.2,208.2 371.1,204.1 376.1,202.1 376.9,200.9 382.5,198.7 383.4,189 384.2,188.4 384.5,187.5 382.9,180.1 387.4,175.6 383,177.5 380,178.6 377,178.8 378,176.5 380.5,173 384,169.5 382.1,168.1 380,166.2 387,161 390.5,156.6 392,155 393.2,153 395,151.3 397.2,146.4 398.5,143 397.5,138.8 395.1,139.7 392.5,141 389,143 385,142.5 382.1,143.6 380,144 377.4,144.1 375,145 372.1,145.2 370,145.5 368,144.5 366,144 363,143 362.4,141.9 361,140 360.6,141.1 359,143 358.8,144.4 357.7,147.2 356.6,150.6 356.2,153.4 354.2,154.8 351.3,159.8 350.7,161.2 348,164 345.7,165 345.2,167.5 344.1,168.3 343.9,170.5 342.8,173 344.3,174.3 345,177 345.1,179.3 343,179.5 344.6,180.2 345,183 344.7,184.3 343,186 344.5,188 342.4,188.4 341.5,189.5 341.7,190.8 343.5,192 342.7,194.3 342,195 343.4,196.4 343.5,198 342,200.5 339,203 338.4,204.1 336,205.3 334.1,206 333.3,207.6 334.5,209.5Z" fill="#fdd3bf"/>
<path d="M404.9,174.5 402.7,174.4 400,175 396,174.6 393.8,173.9 391,174 387.4,175.6 382.9,180.1 384.5,187.5 384.2,188.4 383.4,189 382.5,198.7 385.5,200 392.4,195 392.7,192.6 397.6,188.4 397.4,185.8 398.6,184.1 403.5,181.4Z" fill="#fee0d2"/>
<path d="M412,175 404.9,174.5 403.5,181.4 398.6,184.1 397.4,185.8 397.6,188.4 392.7,192.6 392.4,195 385.5,200 389.6,205.6 390,205.8 392.9,204.9 397.8,201 399.1,200.9 402.7,202.5 402.8,202.7 411.3,207.9 413.4,205.1 415,202.5 415.7,200.4 416.3,197.8 417.2,195.8 414.2,196.8 410.8,193.2 413.9,190.1 418.3,193.4 421.5,188.5 422.6,186.2 423,183.7 424,181.5 421.1,177.7 420,175.5 417.6,175.2 414.4,175Z" fill="#fca082"/>
<path d="M413.9,190.1 410.8,193.2 414.2,196.8 417.2,195.8 418.3,193.4Z" fill="#fee0d2"/>
<path d="M402.8,202.7 402.7,202.5 399.1,200.9 397.8,201 392.9,204.9 390,205.8 392.4,214.2 394.8,215.3 396,217.4 403.5,216.7 405.3,218.1 406,217.3 407.4,214.8 408.5,212 411.3,207.9Z" fill="#fdd3bf"/>
<path d="M403.5,216.7 396,217.4 395.4,222.4 397.6,223.6 398,223.5 403,221 405.3,218.1Z" fill="#fee0d2"/>
<path d="M376.1,202.1 371.1,204.1 369.2,208.2 364.9,211.5 365.7,216.3 370,218.9 373.3,218.2 378.2,222.3 376.2,228.3 376.7,231 379.3,231 385.7,227.2 389.1,229.4 392,227.6 393.9,223.3 395.4,222.4 396,217.4 394.8,215.3 392.4,214.2 390,205.8 389.6,205.6 385.5,200 382.5,198.7 376.9,200.9Z" fill="#fdd3bf"/>
<path d="M378.2,222.3 373.3,218.2 370,218.9 365.7,216.3 361.6,220.4 361,223.2 359,224.8 359,230.4 362.1,232.7 366.5,232.2 367.8,233 376.7,230.9 376.2,228.3Z" fill="#fdd3bf"/>
<path d="M343.6,219.4 343.5,223 342.7,228.4 341.5,229.5 341.1,231.2 341,233.5 341.1,235.4 342.5,238 343.1,240.1 342,241.1 342.8,243 342.1,246 341.9,252.4 341.2,255 340.8,261 343,262.5 345,258 345.2,255.3 346,252 346.5,248.6 346.5,246 345.8,244.1 346.6,243.7 347,241 348.4,237.9 347.5,234.1 349.1,233 349.5,231.5 349.9,229 350.5,228 352.5,227 351.5,228.7 351,231 352.3,232.5 353,234.1 352.5,236 354.5,240.5 355.5,238 356.5,240.3 356.5,239.3 360.8,236.8 362.1,232.7 359,230.4 359,224.8 361,223.2 361.6,220.4 365.7,216.3 364.9,211.5 360.6,210 358.3,210.9 355.5,215.8 353.5,216.8 349,215.1 347.1,215.9Z" fill="#fff5f0"/>
<path d="M392,227.6 389.1,229.4 388.7,235.4 392.6,236.1 394,235.5 400.5,231.5 402.5,230.5 407,227.5 404,225.5 401.2,225.6 396.3,225 394,224.5 397.6,223.6 395.4,222.4 393.9,223.3Z" fill="#fdd3bf"/>
<path d="M389.1,229.4 385.7,227.2 379.3,231 387.4,235.8 388.3,235.7 388.7,235.4Z" fill="#fdd3bf"/>
<path d="M377,236.1 382,240.1 387.4,235.8 379.3,231 376.7,231Z" fill="#fdd3bf"/>
<path d="M368.1,237.8 367.8,233 366.5,232.2 362.1,232.7 360.8,236.8 363.9,239.9 367,239.3Z" fill="#fdd3bf"/>
<path d="M377,236.1 376.7,230.9 367.8,233 368.1,237.8 373.9,240.2Z" fill="#fdd3bf"/>
<path d="M382,242 382,240.1 377,236.1 373.9,240.2 374.1,243.5 378.6,245.4Z" fill="#fdd3bf"/>
<path d="M374.1,243.5 373.9,240.2 368.1,237.8 367,239.3 367.8,243.4 372.8,244.5Z" fill="#fcbba1"/>
<path d="M367,239.3 363.9,239.9 361,244.5 364.7,246.8 367.8,243.4Z" fill="#fdd3bf"/>
<path d="M361,244.5 363.9,239.9 360.8,236.8 356.5,239.3 356.5,240.3 357,241.5 360,243 360,244.5Z" fill="#fee0d2"/>
<path d="M372.8,244.5 367.8,243.4 364.7,246.8 365.9,250 371,250Z" fill="#fdd3bf"/>
<path d="M363.9,253.2 365.9,250 364.7,246.8 361,244.5 360,244.5 360,246 362.3,253.4Z" fill="#fdd3bf"/>
<path d="M365.9,250 363.9,253.2 366.8,258.3 372.8,257.6 374.2,253.2 371,250Z" fill="#fdd3bf"/>
<path d="M362.5,254 362,257.5 360,261.2 358,264 356.7,266.6 360.7,269.9 360.2,273.9 364,277.1 367.3,267.2 366.8,266.9 364.8,262.4 366.8,258.3 363.9,253.2 362.3,253.4Z" fill="#fdd3bf"/>
<path d="M389.1,246.3 382,242 378.6,245.4 374.1,243.5 372.8,244.5 371,250 374.2,253.2 372.8,257.6 374,259.5 381.1,259.5 383.1,254.7 385.1,253.7 386.3,251.6 387.6,250.5Z" fill="#fdd3bf"/>
<path d="M388.3,235.7 387.4,235.8 382,240.1 382,242 389.1,246.3 389.2,246 388.5,238.4 386,237.5 388.4,237.1Z" fill="#fdd3bf"/>
<path d="M396.8,239.4 396.8,238.6 394.1,239.1 391,239 388.5,238.4 389.2,246ZM388.3,235.7 388.4,237.1 391.4,236.5 392.6,236.1 388.7,235.4Z" fill="#fca082"/>
<path d="M397,247.7 399.9,245 396.8,239.4 389.2,246 389.1,246.3Z" fill="#fdd3bf"/>
<path d="M411.3,244.2 414,242 410,240 407.2,239 404,238.5 400.9,238.7 396.8,238.6 396.8,239.4 399.9,245 402.9,245.7 404.5,244.2Z" fill="#fdd3bf"/>
<path d="M419,247.5 417,244 414,242 411.3,244.2 404.5,244.2 402.9,245.7 399.9,245 397,247.7 389.1,246.3 387.6,250.5 386.3,251.6 385.1,253.7 388.8,259.3 393.7,260 395,262 402.6,265.4 402.9,265.8 407.4,262.8 409.6,256.9 414,256.3 414,250.9 419.6,248.1Z" fill="#fff5f0"/>
<path d="M364,277.1 360.2,273.9 360.7,269.9 356.7,266.6 354,271.5 351.2,273.8 353.8,276.2 354.5,280 355.5,284 358,282.9 362.5,279 365,277.5 367.4,278.9 370,280 373,279.6 376.2,278.8 379,277.8 382.5,276.2 386,275.5 388.6,275.6 392.4,274.6 393.5,273.5 395.3,273 402.5,267.1 402.9,265.8 402.6,265.4 395,262 393.7,260 388.8,259.3 385.1,253.7 383.1,254.7 381.1,259.5 374,259.5 372.8,257.6 366.8,258.3 364.8,262.4 366.8,266.9 367.3,267.2Z" fill="#fff5f0"/>
<path d="M348.5,437.5 343.5,444.5 341.1,446 339,448.3 334,448.7 331,450.5 330.5,453.8 333,454.8 335,453.5 338,452.5 340.5,455.5 343.5,458 346,454 348,450 352,448 354.7,447.3 357,445.8 359.3,445.5 362,444.5 364.7,444.5 365.4,439.4 364.5,438.5 364.5,436 366.5,434 366.5,430.4 364.8,428.9 364.8,425.6 364.5,425.3 364.5,421.6 362.2,419.8 360.5,421 359.2,423 358.5,425.5 355.8,430 352.5,434.2 350.1,435.6Z" fill="#ef3b2c"/>
<path d="M366.9,416.4 366.5,417 364,418.5 362.2,419.8 364.5,421.6 364.5,425.3 364.8,425.6 364.8,428.9 366.5,430.4 370.6,429.3 372.7,426.4 373.1,426.2 371.4,419.5 371.1,419.3 368.6,419.1Z" fill="#fdd3bf"/>
<path d="M371.4,419.5 373.1,426.2 374.1,426.3 376.1,424.8 377.4,421.9 380,420.5 380.1,419.9 382.5,418.2 384,414.8 378,413.5 373,413 368.5,414.2 366.9,416.4 368.6,419.1 371.1,419.3Z" fill="#fb6a4a"/>
<path d="M373.1,426.2 372.7,426.4 370.6,429.3 366.5,430.4 366.5,434 364.5,436 364.5,438.5 365.4,439.4 368.2,439.9 370.2,438.2 373.7,439 375.8,437.1 375.3,435 374.8,434.3 376,429.5 374.1,426.3Z" fill="#fee0d2"/>
<path d="M381.5,422 380,420.5 377.4,421.9 376.1,424.8 374.1,426.3 376,429.5 379.9,430.5 382.4,428.6 383.6,426.1 386.5,424.3 386.1,420.7 385.7,420.6Z" fill="#fdd3bf"/>
<path d="M364.7,444.5 366,444.5 369.3,445.6 369.8,443 368.2,439.9 365.4,439.4Z" fill="#fdd3bf"/>
<path d="M379,440.8 377.7,438.1 375.8,437.1 373.7,439 370.2,438.2 368.2,439.9 369.8,443 369.3,445.6 373,447.5 377.5,449 380,446.5 380.7,445.5 378.9,443Z" fill="#fca082"/>
<path d="M385,436 385.5,435.8 382.4,428.6 379.9,430.5 376,429.5 374.8,434.3 375.3,435 375.8,437.1 377.7,438.1 379,440.8 383.4,439.4Z" fill="#ef3b2c"/>
<path d="M379,440.8 378.9,443 380.7,445.5 382.5,443 383.4,439.4Z" fill="#fcbba1"/>
<path d="M383,427.3 382.4,428.6 385.5,435.8 389.6,434.2 387.7,430Z" fill="#fdd3bf"/>
<path d="M393.8,423.2 390.8,422.9 388.5,424.6 386.5,424.3 383.6,426.1 383,427.3 387.7,430 389.6,434.2 390,434 392.5,432 396,430.5 397.8,430.5 397.3,427.3 394.2,424.7Z" fill="#ef3b2c"/>
<path d="M386.1,420.7 386.5,424.3 388.5,424.6 390.8,422.9 389.2,417.2 389.2,416.9 388.7,415.4 387,415.5 384,414.8 382.5,418.2 380.1,419.9 380,420.5 381.5,422 385.7,420.6Z" fill="#fdd3bf"/>
<path d="M397.7,420.4 398.2,419.4 397.8,416.6 396.6,416.1 391.8,417.7 389.2,416.9 389.2,417.2 390.8,422.9 393.8,423.2 394.9,421.6Z" fill="#fb6a4a"/>
<path d="M402.4,419.9 398.2,419.4 397.7,420.4 394.9,421.6 393.8,423.2 394.2,424.7 397.3,427.3 397.8,430.5 398.6,430.5 400.2,430.8 403.9,427.1 403.5,424.6 404.2,423.4Z" fill="#fdd3bf"/>
<path d="M408.6,416.7 405.9,413.2 402.5,412.5 401.2,413.8 400,414.1 397.8,416.6 398.2,419.4 402.4,419.9 404.2,423.4 408.1,422 408.1,417.4Z" fill="#fca082"/>
<path d="M401.2,413.8 402.5,412.5 402.5,411.7 398.3,406.5 392.5,412.5 390.5,415.3 388.7,415.4 389.2,416.9 391.8,417.7 396.6,416.1 397.8,416.6 400,414.1Z" fill="#67000d"/>
<path d="M406.6,405.6 404.9,403.9 400.8,404.4 404.2,408.7 405.9,408.3Z" fill="#fb6a4a"/>
<path d="M404.2,408.7 400.8,404.4 398.3,406.5 402.5,411.7Z" fill="#fcbba1"/>
<path d="M405.9,413.2 408,410 405.9,408.3 404.2,408.7 402.5,411.7 402.5,412.5Z" fill="#fdd3bf"/>
<path d="M405.9,413.2 408.6,416.7 412.2,415.4 412.7,414.1 411.9,410 408,410Z" fill="#fcbba1"/>
<path d="M406.1,397.2 402.3,396.5 402,396.9 401.2,401.3 404.5,401 400.9,404.3 404.9,403.9 406.6,405.6 409.1,405.2 407.4,409.4 408,410 411.9,410 413,407.7 412.2,405.2 411.6,404.6 410.2,399.8 407.8,398.9Z" fill="#fca082"/>
<path d="M404.2,423.4 403.5,424.6 403.9,427.1 400.2,430.8 401,431 406,433 407.3,435.4 408.3,437.8 410,434.5 413,433 417.5,433.5 420,432.9 420.6,427.2 419.8,427.1 414.7,422.9 414.6,422.3 409,422.7 408.1,422Z" fill="#fdd3bf"/>
<path d="M426.8,428.5 421.2,426.9 420.6,427.2 420,432.9 424.5,432.1 427,431.5 427.9,431.2Z" fill="#fca082"/>
<path d="M411.6,404.6 412.2,405.2 413,407.7 411.9,410 412.7,414.1 412.2,415.4 415.7,419.9 419.4,419.2 421.8,420.4 424.8,419.7 426.1,420.1 431.1,418.1 431.7,414 431.4,413.2 431.5,409.6 431.3,409.3 429.9,408.2 428.5,402.7 424.4,403.1 420.9,398.6 419,399.1 415,396.7 410.2,399.8Z" fill="#fca082"/>
<path d="M421.8,420.4 419.4,419.2 415.7,419.9 414.6,422.3 414.7,422.9 419.8,427.1 420.6,427.2 421.2,426.9Z" fill="#fdd3bf"/>
<path d="M426.1,420.1 424.8,419.7 421.8,420.4 421.2,426.9 426.8,428.5 427.9,426.3Z" fill="#fee0d2"/>
<path d="M433.2,423.9 433.6,421.2 431.1,418.1 426.1,420.1 427.9,426.3Z" fill="#fdd3bf"/>
<path d="M429.3,401.1 426.3,397.3 421.4,398.1 420.9,398.6 424.4,403.1 428.5,402.7Z" fill="#fcbba1"/>
<path d="M436.4,428.3 435.6,429 437.3,429.2Z" fill="#fdd3bf"/>
<path d="M370,345 367,348 359,353 356.3,355.3 360,356.2 364,355.4 368,354 372.2,353 372.8,356 371.6,363 371.4,365.5 378.3,364.4 378.4,363.3 376.7,359.9 377.9,356.9 380.9,355.8 381.8,354 380.9,352.2 378.4,351.3 377.3,346.6 377.5,346.2 377.5,344.5 372.7,339.7 371.5,341Z" fill="#fdd3bf"/>
<path d="M384.7,342.9 385.3,337.9 381.2,334.5 380.5,334.5 377.5,335.6 374.5,337.5 372.7,339.7 377.5,344.5 377.5,346.2 377.3,346.6 378.4,351.3 380.9,352.2 383.1,347.8 383.9,343.3Z" fill="#fdd3bf"/>
<path d="M389.1,337.8 385.3,337.9 384.7,342.9 383.9,343.3 383.1,347.8 380.9,352.2 381.8,354 386,354 389.5,353.3 390.1,348.5 389.3,347.6 389.9,343.9 390.2,343.6Z" fill="#fdd3bf"/>
<path d="M389.1,337.8 390.2,343.6 390.5,343.5 394.3,344.7 397,342.5 395.5,338.5 395.5,338.1 390.8,335.8Z" fill="#fcbba1"/>
<path d="M394.3,344.7 390.5,343.5 390.2,343.6 389.9,343.9 389.3,347.6 390.1,348.5 389.5,353.3 392.9,355.2 394.3,351.7 398.5,351.2 400.4,348.5 399.9,348 395.5,347Z" fill="#fdd3bf"/>
<path d="M377.9,356.9 376.7,359.9 378.4,363.3 378.3,364.4 380.1,367.3 380,368.4 381.6,371.2 379.4,376.8 380.8,378.5 380.2,382.8 382.1,385 381.9,388.2 385.2,389.8 385.3,393.4 388.7,394.8 390.1,394.2 390.4,394.4 393.2,393.9 395.2,388.7 395,387.8 395.1,387.6 393.5,382.5 394.7,380.3 393.2,376.4 394.7,372 394.6,371.8 394.8,367 391.4,364.7 391.6,359 393.4,357.5 393.5,356.9 392.9,355.2 389.5,353.3 386,354 381.7,354 380.9,355.8Z" fill="#fff5f0"/>
<path d="M371.3,366.5 370.5,370.5 369,373.5 367,376.5 364,379 360,381.5 358.8,382.1 359.9,383.8 364.6,385.2 366.8,383.6 370.8,385.2 373.8,382.2 376.4,383.4 380.2,382.8 380.8,378.5 379.4,376.8 381.6,371.2 380,368.4 380.1,367.3 378.3,364.4 371.4,365.5Z" fill="#fdd3bf"/>
<path d="M380.4,389.8 381.9,388.2 382.1,385 380.2,382.8 376.4,383.4 373.8,382.2 370.8,385.2 366.8,383.6 364.6,385.2 359.9,383.8 358.8,388.2 359.8,390 356.9,394.5 356.8,395.7 359,396 362.5,397.5 362.8,397.8 368.2,393.7 370.2,394.9 373.9,393.1 375.9,394.6 377.8,394.1 380.1,389.9Z" fill="#fee0d2"/>
<path d="M356,383.5 352,384.5 348,386 344.5,387.5 342,389.5 343,392 345,395 348,396.5 351.5,397.5 355,395.5 356.8,395.7 356.9,394.5 359.8,390 358.8,388.2 359.9,383.8 358.8,382.1Z" fill="#fff5f0"/>
<path d="M362.8,397.8 365,400.5 368.5,398.5 370.9,398.4 370.2,394.9 368.2,393.7Z" fill="#fdd3bf"/>
<path d="M370.9,398.4 372,398.3 374,399 375.2,397.8 375.9,394.6 373.9,393.1 370.2,394.9Z" fill="#fee0d2"/>
<path d="M375.2,397.8 379.5,399.2 379.8,399 380.2,396 377.8,394.1 375.9,394.6Z" fill="#fee0d2"/>
<path d="M379.5,399.2 375.2,397.8 374,399 376.5,400.5 379,401.7Z" fill="#fee0d2"/>
<path d="M382.9,395.1 380.2,396 379.8,399 383.5,399.5 384.5,397.9Z" fill="#fdd3bf"/>
<path d="M379.8,399 379.5,399.2 379,401.7 381,403.5 383.3,404 384,401.7 383.5,399.5Z" fill="#fdd3bf"/>
<path d="M383.1,394.6 382.9,395.1 384.5,397.9 387,397.6 388.7,394.8 385.3,393.4Z" fill="#fee0d2"/>
<path d="M384.5,397.9 383.5,399.5 384,401.7 387.9,400.9 388.3,400 387,397.6Z" fill="#fee0d2"/>
<path d="M387.9,400.9 384,401.7 383.3,404 386,404.5 388.9,404.3Z" fill="#fca082"/>
<path d="M388.7,394.8 387,397.6 388.3,400 391.8,399.5 390.4,394.4 390.1,394.2Z" fill="#fee0d2"/>
<path d="M388.3,400 387.9,400.9 388.9,404.3 390,404.2 393.1,403.3 391.8,399.5Z" fill="#fdd3bf"/>
<path d="M391.8,399.5 395.1,397.8 394.8,394.9 393.2,393.9 390.4,394.4Z" fill="#fee0d2"/>
<path d="M393.1,403.3 396.2,402.5 396.7,398.9 395.1,397.8 391.8,399.5Z" fill="#fdd3bf"/>
<path d="M394.8,394.9 395.1,397.8 396.7,398.9 396.2,402.5 401.2,401.3 402,396.9 402.3,396.5 401,393.9 400.1,393.6 395.2,388.7 393.2,393.9Z" fill="#fdd3bf"/>
<path d="M398.5,351.2 394.3,351.7 392.9,355.2 393.5,356.9 393.4,357.5 396.9,360.3 395.9,366.1 394.8,367 394.6,371.8 394.7,372 400.4,373 402.5,371.8 403.2,370 407.9,368 411.2,369.2 411.4,369.1 412.6,365.3 410.2,361.7 412,358.1 411.7,357.4 406.4,356.8 405.8,350.9 405.4,350.8 402.1,348.5 400.4,348.5Z" fill="#fca082"/>
<path d="M412.1,351.8 410.8,350.2 409.7,349.8 405.8,350.9 406.4,356.8 411.7,357.4Z" fill="#fcbba1"/>
<path d="M411.4,382 410.1,378 408.2,376.9 407.6,374.8 402.5,371.8 400.4,373 394.7,372 393.2,376.4 394.7,380.3 393.5,382.5 395.1,387.6 395,387.8 395.2,388.7 400.1,393.6 401,393.9 402.5,390.5 406.8,388.8 405.8,384.3Z" fill="#fca082"/>
<path d="M471.8,366.8 472,368.3 475.7,371.4 477.8,370.2 479.4,367.3 477.9,363.1 474.9,363.3Z" fill="#fee0d2" stroke-width="0.6"/>
<path d="M413.1,384.7 417.6,388 421.4,385.8 421.4,383.1 417.5,379.8 412.4,382.7Z" fill="#fee0d2"/>
<path d="M407.8,398.9 410.2,399.8 415,396.7 414.5,393.1 409.5,391.2 406.1,397.2Z" fill="#fdd3bf"/>
<path d="M485.2,380.6 488.7,382.5 489.4,382.3 492.3,378.8 490.6,375.3 489.8,375 484.7,377.9Z" fill="#fee0d2" stroke-width="0.6"/>
<path d="M447,404.7 442.9,407.5 442.3,409.9 446.4,412.9 448.1,412.6 449.7,406.6 449.3,405.6Z" fill="#fdd3bf"/>
<path d="M464.5,408.1 463.2,408.2 459.9,412 461.9,415.7 466.4,412.3 465.9,408.9Z" fill="#fdd3bf"/>
<path d="M499.2,363 495.7,365.2 495.9,367 499.9,369.9 502.4,369.8 503,367 502.9,365.1Z" fill="#fee0d2" stroke-width="0.6"/>
<path d="M488.1,372.1 489.8,375 490.6,375.3 493.8,372.7 493.2,369.3 489.8,368.3 489.2,368.6Z" fill="#fdd3bf" stroke-width="0.6"/>
<path d="M451.7,426.5 446.5,423.1 444.4,425.4 444.6,429.7 452.3,429.2Z" fill="#fdd3bf"/>
<path d="M488,358 490.5,357.3 491.6,354.8 490.6,352.9 486.6,352 485.5,356.5Z" fill="#fee0d2" stroke-width="0.6"/>
<path d="M422.3,360.4 420.4,356.4 419,356.1 416,359 417,361.9 421.1,362Z" fill="#fee0d2"/>
<path d="M469.3,413.5 469.8,416.6 475.5,418.6 476,414 473,410.7Z" fill="#fee0d2"/>
<path d="M429.1,385.1 430.6,382.3 426.8,377.4 425.9,377.8 421.4,383.1 421.4,385.8 422.4,386.3Z" fill="#fee0d2"/>
<path d="M430.6,382.3 429.1,385.1 430.1,388.8 435,389.8 435.2,382.7 434.6,382.2Z" fill="#fdd3bf"/>
<path d="M445.6,358.6 442.2,358.4 439.7,363.2 440,365.6 441.2,366.8 445.2,366.4 448.4,361.1Z" fill="#fdd3bf"/>
<path d="M472.5,423.6 468.1,422.7 465.1,425.5 465.6,429.1 470,429.8 473.8,428.8Z" fill="#fff5f0"/>
<path d="M466.4,372.3 466.8,375.2 467.6,376.1 474.7,375.1 475.7,371.4 472,368.3Z" fill="#fee0d2" stroke-width="0.6"/>
<path d="M448.1,412.6 452.4,414.7 454.1,412.5 453.5,408.6 449.7,406.6Z" fill="#fdd3bf"/>
<path d="M426.8,377.4 430.6,382.3 434.6,382.2 436.5,375 433.5,373.1 427,376.9Z" fill="#fcbba1"/>
<path d="M474.7,375.1 477.2,378.4 482.3,376.3 482.5,373.8 477.8,370.2 475.7,371.4Z" fill="#fee0d2" stroke-width="0.6"/>
<path d="M499.9,369.9 496.6,373.2 497.7,376.5 500.1,377.6 502,372 502.4,369.8Z" fill="#fee0d2" stroke-width="0.6"/>
<path d="M425.3,371.3 427,376.9 433.5,373.1 432.7,369.2 426.8,368.7Z" fill="#fee0d2"/>
<path d="M482,425.4 486,423.5 488.9,421.9 486.5,416.8 484.1,415.3 478.6,420.1Z" fill="#fca082"/>
<path d="M457.1,388.6 454.1,387.6 450.5,392.1 455.1,395.1 456,394.9 457.9,392.7Z" fill="#fee0d2"/>
<path d="M493.2,369.3 495.9,367 495.7,365.2 492.9,362.9 491.1,363.6 489.8,368.3Z" fill="#fee0d2" stroke-width="0.6"/>
<path d="M485.1,366.3 483.3,367.7 484.4,371.8 488.1,372.1 489.2,368.6Z" fill="#fee0d2" stroke-width="0.6"/>
<path d="M459.2,424.3 457.9,428.8 459.5,428.9 462,428.5 465.6,429.1 465.1,425.5 461.1,423.5Z" fill="#fee0d2"/>
<path d="M465.1,387.2 464.9,383.5 460.2,382.3 458.1,387.9 463.7,388.7Z" fill="#fee0d2"/>
<path d="M482,394.2 479.1,395.6 479.4,401.1 480.6,401.5 482,401 485.7,397.3Z" fill="#fee0d2" stroke-width="0.6"/>
<path d="M429.8,355.2 426.4,357.2 425.7,360.5 427.4,362.8 431.1,362.4 433,359.5 433,356.4Z" fill="#fee0d2"/>
<path d="M427.7,392.2 428.3,393.7 433.4,395.5 434.5,394.8 435,389.9 430.1,388.8Z" fill="#fdd3bf"/>
<path d="M435.3,353.6 434.9,354.9 441.7,357.5 442.5,352.1 439.6,350.4Z" fill="#fdd3bf"/>
<path d="M441.7,357.5 442.2,358.4 445.6,358.6 448.4,353.5 447.9,351 446.8,350.3 442.5,352.1Z" fill="#fca082"/>
<path d="M433.5,367.7 432.7,369.2 433.5,373.1 436.5,375 437.9,374.8 441.1,371.7 441.2,366.8 440,365.6Z" fill="#fdd3bf"/>
<path d="M479.8,351.7 486,350.9 486.4,348.5 485.1,348.1 483,347.8 480.4,347.2 477.2,347.4Z" fill="#fee0d2" stroke-width="0.6"/>
<path d="M438.6,420 440.1,418.1 438.6,414.9 431.7,414 431.1,418.1 433.6,421.2Z" fill="#fee0d2"/>
<path d="M471.3,397.7 473.7,397.4 475.9,393.9 475.5,392.7 471.3,389.9 468.6,393.8 468.7,394.5Z" fill="#fdd3bf" stroke-width="0.6"/>
<path d="M472.5,423.6 473.8,428.8 478,427.3 480.1,426.2 482,425.4 478.6,420.1 475.8,419.2Z" fill="#fdd3bf"/>
<path d="M446.5,423.1 451.7,426.5 455,422.3 453.7,418 453.3,417.7 446.6,421.5Z" fill="#fdd3bf"/>
<path d="M431.1,362.4 433.5,367.7 440,365.6 439.7,363.2 433,359.5Z" fill="#fdd3bf"/>
<path d="M488.6,394.2 490.5,392 492.1,388.3 486.3,388.3 486,388.6 485.8,389Z" fill="#fdd3bf" stroke-width="0.6"/>
<path d="M418.6,369.2 413.8,370.7 414.6,375 417.6,376.5 419.5,375.4 420.5,370.9 419.7,369.8Z" fill="#fcbba1"/>
<path d="M452.4,414.7 453.3,417.7 453.7,418 461.8,416.9 461.9,415.7 459.9,412 458.5,411.2 454.1,412.5Z" fill="#fee0d2"/>
<path d="M438.4,402.5 438.7,402.4 440.5,399.7 440.4,396.7 434.5,394.8 433.4,395.5 432.3,400.1 435.3,402.3Z" fill="#fee0d2"/>
<path d="M471.8,366.8 474.9,363.3 471.2,359.4 468.1,359.6 466.1,361.2 466.6,363.6Z" fill="#fee0d2" stroke-width="0.6"/>
<path d="M451.5,375.2 454.8,374.1 454.7,371.5 452.5,367.2 447.8,368.5 447.5,374.1Z" fill="#fee0d2"/>
<path d="M477.1,378.4 474.7,375.1 467.6,376.1 467.8,381 471.4,383Z" fill="#fee0d2" stroke-width="0.6"/>
<path d="M431.4,413.2 431.7,414 438.6,414.9 440.3,410.8 436.6,408.8 431.5,409.6Z" fill="#fee0d2"/>
<path d="M471.2,359.4 474.2,356 472.6,352.8 467.6,352.9 468.1,359.6Z" fill="#fee0d2" stroke-width="0.6"/>
<path d="M470.5,402.4 475.6,403.1 477.1,401.6 473.7,397.4 471.3,397.7 470.1,400.1Z" fill="#fee0d2"/>
<path d="M407.6,374.8 408.2,376.9 410.1,378 414.6,375 413.8,370.7 411.4,369.1 411.2,369.2Z" fill="#fee0d2"/>
<path d="M451.5,403.8 455.5,404.3 455.7,404 455.7,400.7 452.6,398.9 452,399.1Z" fill="#fcbba1"/>
<path d="M461.1,423.5 461.8,416.9 453.7,418 455,422.3 459.2,424.3Z" fill="#fdd3bf"/>
<path d="M444.4,425.4 446.5,423.1 446.6,421.5 443.9,418.3 440.1,418.1 438.6,420 440.2,424.9Z" fill="#fdd3bf"/>
<path d="M488,362.3 491.1,363.6 492.9,362.9 493.6,360.3 490.5,357.3 488,358Z" fill="#fee0d2" stroke-width="0.6"/>
<path d="M385.3,337.9 389.1,337.8 390.8,335.8 390.6,333.4 384,334.3 381.2,334.5Z" fill="#fca082"/>
<path d="M495.4,354.8 496.4,358.6 498.8,359.2 501.1,357.8 499.7,355.8 498,353 497,352.5Z" fill="#fee0d2" stroke-width="0.6"/>
<path d="M422.9,355.2 424.2,351.3 423,349.4 419.1,350.2 417.4,352.5 419,356.1 420.4,356.4Z" fill="#fee0d2"/>
<path d="M471.3,389.9 472.8,386.3 471.4,383 467.8,381 464.9,383.5 465.1,387.2Z" fill="#fee0d2"/>
<path d="M486,388.6 486.3,388.3 488.7,382.5 485.2,380.6 481.3,384.2Z" fill="#fee0d2" stroke-width="0.6"/>
<path d="M413.8,370.7 418.6,369.2 418.3,366.4 416.2,363.9 412.6,365.3 411.4,369.1Z" fill="#fee0d2"/>
<path d="M440.6,389.4 435,389.9 434.5,394.8 440.4,396.7 442.2,394.6 442.2,392.1Z" fill="#fee0d2"/>
<path d="M492.1,388.3 493.7,386.5 489.4,382.3 488.7,382.5 486.3,388.3Z" fill="#fee0d2" stroke-width="0.6"/>
<path d="M479.7,408.6 480.3,411.9 483.7,414 486.4,409.4 483.2,404.7Z" fill="#fdd3bf"/>
<path d="M441.1,371.7 437.9,374.8 443.1,380.1 443.7,380.2 446.6,374.4Z" fill="#fee0d2"/>
<path d="M485.8,389 482.3,391.5 482,394.2 485.7,397.3 488.6,394.2Z" fill="#fee0d2" stroke-width="0.6"/>
<path d="M446.6,374.4 443.7,380.2 446.7,383.1 450.5,380.5 451.5,375.2 447.5,374.1Z" fill="#fdd3bf"/>
<path d="M467.8,381 467.6,376.1 466.8,375.2 458.3,377.6 458.3,379.8 460.2,382.3 464.9,383.5Z" fill="#fee0d2"/>
<path d="M427.4,362.8 425.6,365.9 426.8,368.7 432.7,369.2 433.5,367.7 431.1,362.4Z" fill="#fdd3bf"/>
<path d="M485.5,363.5 481.8,360.7 478.4,362.4 477.9,363.1 479.4,367.3 483.3,367.7 485.1,366.3Z" fill="#fee0d2" stroke-width="0.6"/>
<path d="M380.1,389.9 377.8,394.1 380.2,396 382.9,395.1 383.1,394.6 380.4,389.8Z" fill="#fee0d2"/>
<path d="M466.1,361.2 463.9,360.6 460.6,361.7 459,365.2 459.8,367.3 463.4,369.4 463.9,369.4 466.6,363.6Z" fill="#fdd3bf"/>
<path d="M411.6,297.5 408.6,301.1 411.9,305.3 416,304.6 416,299.8Z" fill="#fb6a4a"/>
<path d="M471.3,389.9 475.5,392.7 478.9,389.8 478.4,385.7 472.8,386.3Z" fill="#fee0d2" stroke-width="0.6"/>
<path d="M444.4,425.4 440.2,424.9 436.4,428.3 437.3,429.2 443,429.8 444.6,429.7Z" fill="#fee0d2"/>
<path d="M391.6,359 391.4,364.7 394.8,367 395.9,366.1 396.9,360.3 393.4,357.5Z" fill="#fee0d2"/>
<path d="M461.8,417 461.1,423.5 465.1,425.5 468.1,422.7 467.2,419.1Z" fill="#fdd3bf"/>
<path d="M459.9,412 463.2,408.2 460.2,406.2 458,408 458.5,411.2Z" fill="#fee0d2"/>
<path d="M467.6,352.9 472.6,352.8 475.3,347.9 471.5,348.5 468,350.5 466.8,352.1Z" fill="#fee0d2" stroke-width="0.6"/>
<path d="M419.5,375.4 425.9,377.8 426.8,377.4 427,376.9 425.3,371.3 420.5,370.9Z" fill="#fee0d2"/>
<path d="M439.1,346.7 439.6,350.4 442.5,352.1 446.8,350.3 445.7,345.7 440.6,345.6Z" fill="#fdd3bf"/>
<path d="M497.7,376.5 493.2,379 496.7,383.1 499.5,379.4 500.1,377.6Z" fill="#fee0d2" stroke-width="0.6"/>
<path d="M409.5,391.2 414.5,393.1 417.1,389.9 417.6,388 413.1,384.7 408.8,389.9Z" fill="#fee0d2"/>
<path d="M492.4,350.3 490.3,349.5 488,349 486.4,348.5 486,350.9 486.6,352 490.6,352.9Z" fill="#fee0d2" stroke-width="0.6"/>
<path d="M463.6,392.9 463.7,388.7 458.1,387.9 457.1,388.6 457.9,392.7 462.5,393.8Z" fill="#fdd3bf"/>
<path d="M408.1,422 409,422.7 414.6,422.3 415.7,419.9 412.2,415.4 408.6,416.7 408.1,417.4Z" fill="#fdd3bf"/>
<path d="M429.8,355.2 428.2,352.2 424.2,351.3 422.9,355.2 426.4,357.2Z" fill="#fee0d2"/>
<path d="M410.2,361.7 412.6,365.3 416.2,363.9 417,361.9 416,359 412,358.1Z" fill="#fee0d2"/>
<path d="M478.9,389.8 482.3,391.5 485.8,389 486,388.6 481.3,384.2 479.8,384.2 478.4,385.7Z" fill="#fee0d2" stroke-width="0.6"/>
<path d="M435.2,382.7 438.4,383.2 443.1,380.1 437.9,374.8 436.5,375 434.6,382.2Z" fill="#fdd3bf"/>
<path d="M448.1,412.6 446.4,412.9 443.9,418.3 446.6,421.5 453.3,417.7 452.4,414.7Z" fill="#fee0d2"/>
<path d="M475.3,407.3 475.6,403.1 470.5,402.4 469.4,404.1 469.6,406.8 473.1,409.1Z" fill="#fdd3bf"/>
<path d="M479.8,384.2 481.3,384.2 485.2,380.6 484.7,377.9 482.3,376.3 477.2,378.4Z" fill="#fee0d2" stroke-width="0.6"/>
<path d="M436.4,428.3 433.2,423.9 427.9,426.3 426.8,428.5 427.9,431.2 434,428.8 435.6,429Z" fill="#fdd3bf"/>
<path d="M476,414 475.5,418.6 475.8,419.2 478.6,420.1 484.1,415.3 483.7,414 480.3,411.9Z" fill="#fcbba1"/>
<path d="M493.8,372.7 490.6,375.3 492.3,378.8 493.2,379 497.7,376.5 496.6,373.2Z" fill="#fee0d2" stroke-width="0.6"/>
<path d="M423.8,365.7 425.6,365.9 427.4,362.8 425.7,360.5 422.3,360.4 421.1,362 421.8,364.3Z" fill="#fca082"/>
<path d="M473.1,409.1 469.6,406.8 465.9,408.9 466.4,412.3 469.3,413.5 473,410.7Z" fill="#fca082"/>
<path d="M409.6,336.8 408.7,335.4 405.1,336 405.2,340.4 408.8,339.8Z" fill="#fdd3bf"/>
<path d="M446.1,401.8 447,404.7 449.3,405.6 451.5,403.8 452,399.1 448.7,397.9Z" fill="#fdd3bf"/>
<path d="M469.8,416.6 467.2,419.1 468.1,422.7 472.5,423.6 475.8,419.2 475.5,418.6Z" fill="#fcbba1"/>
<path d="M446.4,412.9 442.3,409.9 440.3,410.8 438.6,414.9 440.1,418.1 443.9,418.3Z" fill="#fee0d2"/>
<path d="M484.4,371.8 482.5,373.8 482.3,376.3 484.7,377.9 489.8,375 488.1,372.1Z" fill="#fee0d2" stroke-width="0.6"/>
<path d="M481.8,360.7 485.5,363.5 488,362.3 488,358 485.5,356.5 482.8,357.6Z" fill="#fee0d2" stroke-width="0.6"/>
<path d="M448.4,361.1 445.2,366.4 447.8,368.5 452.5,367.2 453.2,364.6 452.1,361.4Z" fill="#fee0d2"/>
<path d="M489.4,382.3 493.7,386.5 496.7,383.1 493.2,379 492.3,378.8Z" fill="#fdd3bf" stroke-width="0.6"/>
<path d="M412,358.1 416,359 419,356.1 417.4,352.5 412.1,351.8 411.7,357.4Z" fill="#fee0d2"/>
<path d="M433.7,324.6 430.5,327.3 431,328.7 434.9,330 435.8,329.4 436.7,325.6Z" fill="#fff5f0"/>
<path d="M452,399.1 452.6,398.9 455.1,395.1 450.5,392.1 450.3,392.1 447.9,396 448.7,397.9Z" fill="#fb6a4a"/>
<path d="M401,393.9 402.3,396.5 406.1,397.2 409.5,391.2 408.8,389.9 406.8,388.8 402.5,390.5Z" fill="#fca082"/>
<path d="M486.4,409.4 489.2,409.3 492.2,405.6 492.3,405.1 492,405 489.3,405.3 487,405 484.4,405 483.3,404.8Z" fill="#fcbba1"/>
<path d="M476,414 480.3,411.9 479.7,408.6 475.3,407.3 473.1,409.1 473,410.7Z" fill="#fca082"/>
<path d="M463.9,369.4 466.4,372.3 472,368.3 471.8,366.8 466.6,363.6Z" fill="#fee0d2"/>
<path d="M424.2,351.3 428.2,352.2 431,346.7 429.9,345.4 426,344.9 424.2,345.5 423,349.4Z" fill="#fff5f0"/>
<path d="M455.5,404.3 451.5,403.8 449.3,405.6 449.7,406.6 453.5,408.6 455.8,406.8Z" fill="#fdd3bf"/>
<path d="M498.8,359.2 499.2,363 502.9,365.1 503,362 501.3,358 501.1,357.8Z" fill="#fee0d2" stroke-width="0.6"/>
<path d="M482,394.2 482.3,391.5 478.9,389.8 475.5,392.7 475.9,393.9 479.1,395.6Z" fill="#fee0d2" stroke-width="0.6"/>
<path d="M432.3,400.1 433.4,395.5 428.3,393.7 426.3,397.3 429.3,401.1Z" fill="#fdd3bf"/>
<path d="M471.3,389.9 465.1,387.2 463.7,388.7 463.6,392.9 468.6,393.8Z" fill="#fdd3bf"/>
<path d="M461.9,415.7 461.8,417 467.2,419.1 469.8,416.6 469.3,413.5 466.4,412.3Z" fill="#fee0d2"/>
<path d="M490.5,357.3 493.6,360.3 496.4,358.6 495.4,354.8 491.6,354.8Z" fill="#fee0d2" stroke-width="0.6"/>
<path d="M447.8,368.5 445.2,366.4 441.2,366.8 441.1,371.7 446.6,374.4 447.5,374.1Z" fill="#fee0d2"/>
<path d="M453.5,408.6 454.1,412.5 458.5,411.2 458,408 455.8,406.8Z" fill="#fee0d2"/>
<path d="M459.2,424.3 455,422.3 451.7,426.5 452.3,429.2 457,428.8 457.9,428.8Z" fill="#fdd3bf"/>
<path d="M434.5,334.1 433.3,334.8 434.5,339.9 436,340.4 437,340 439.2,335.2Z" fill="#fee0d2"/>
<path d="M409.4,309.4 410.2,309.1 411.9,305.3 408.6,301.1 408.2,301.2 405,303.8 404.8,304.8 405.1,306.1Z" fill="#fdd3bf"/>
<path d="M417.5,379.8 421.4,383.1 425.9,377.8 419.5,375.4 417.6,376.5Z" fill="#fdd3bf"/>
<path d="M424.9,391.1 427.7,392.2 430.1,388.8 429.1,385.1 422.4,386.3Z" fill="#fdd3bf"/>
<path d="M421.8,333.4 420.5,336.5 422.6,338.8 426,338 423.6,333Z" fill="#fee0d2"/>
<path d="M493.6,360.3 492.9,362.9 495.7,365.2 499.2,363 498.8,359.2 496.4,358.6Z" fill="#fee0d2" stroke-width="0.6"/>
<path d="M408.8,389.9 413.1,384.7 412.4,382.7 411.4,382 405.8,384.3 406.8,388.8Z" fill="#fdd3bf"/>
<path d="M416.8,340.5 417.7,337.2 416.8,336 413.6,335.7 412.4,337.1 414,341.5Z" fill="#fdd3bf"/>
<path d="M460.2,382.3 458.3,379.8 454.4,382.4 453.6,386.8 454.1,387.6 457.1,388.6 458.1,387.9Z" fill="#fee0d2"/>
<path d="M440.5,399.7 438.7,402.4 442.9,407.5 447,404.7 446.1,401.8Z" fill="#fdd3bf"/>
<path d="M479.1,395.6 475.9,393.9 473.7,397.4 477.1,401.6 479.4,401.1Z" fill="#fee0d2" stroke-width="0.6"/>
<path d="M414.6,375 410.1,378 411.4,382 412.4,382.7 417.5,379.8 417.6,376.5Z" fill="#fcbba1"/>
<path d="M422.3,360.4 425.7,360.5 426.4,357.2 422.9,355.2 420.4,356.4Z" fill="#fee0d2"/>
<path d="M381.9,388.2 380.4,389.8 383.1,394.6 385.3,393.4 385.2,389.8Z" fill="#fff5f0"/>
<path d="M483.3,367.7 479.4,367.3 477.8,370.2 482.5,373.8 484.4,371.8Z" fill="#fee0d2" stroke-width="0.6"/>
<path d="M493.2,369.3 493.8,372.7 496.6,373.2 499.9,369.9 495.9,367Z" fill="#fee0d2" stroke-width="0.6"/>
<path d="M433.2,423.9 436.5,428.3 440.2,424.9 438.6,420 433.6,421.2Z" fill="#fee0d2"/>
<path d="M495.4,354.8 497,352.5 492.4,350.3 490.6,352.9 491.6,354.8Z" fill="#fee0d2" stroke-width="0.6"/>
<path d="M426.8,318.3 425.1,318.4 425.7,323 427.5,324.5 430.8,320.6Z" fill="#fdd3bf"/>
<path d="M403.2,370 402.5,371.8 407.6,374.8 411.2,369.2 407.9,368Z" fill="#fca082"/>
<path d="M489.8,368.3 491.1,363.6 488,362.3 485.5,363.5 485.1,366.3 489.2,368.6Z" fill="#fee0d2" stroke-width="0.6"/>
<path d="M450.5,392.1 454.1,387.6 453.6,386.8 447.2,384.8 447.3,389.6 450.3,392.1Z" fill="#fee0d2"/>
<path d="M435,389.8 440.6,389.4 440.9,388 438.4,383.2 435.2,382.7Z" fill="#fee0d2"/>
<path d="M438.9,317.8 435.4,315.8 432.2,320.3 432.3,320.5 437.4,320.7Z" fill="#fee0d2"/>
<path d="M485.5,356.5 486.6,352 486,350.9 479.8,351.7 479.6,354.3 482.8,357.6Z" fill="#fee0d2" stroke-width="0.6"/>
<path d="M312.4,273.6 312.5,272.9 311,270 308,268.5 305.2,267.5 303,269.5 301,273 299,277.5 292.9,280.5 291.5,282.3 298.6,285.3 299.4,285.2 303.2,281.6 304.6,281.4 308.5,277.5 310.1,277.1Z" fill="#fff5f0"/>
<path d="M329.7,270.8 334.5,266 331.6,263.2 328,262.3 323.4,262 319,262.8 314.6,263.8 311,270 312.5,272.9 312.4,273.6 321,276.7 321.6,276.2 322.1,272.1 325.9,269.3 329.5,270.9Z" fill="#fdd3bf"/>
<path d="M308.5,277.5 304.6,281.4 303.2,281.6 299.4,285.2 298.6,285.3 291.5,282.3 286.4,289 288,291 290,293 292.9,294.9 295,297 297.6,299 300.5,300.8 303.4,301.9 307,300 310.5,298.4 312,299 313.3,295.4 309.4,289.5 309.8,287.9 314.2,284.6 314.3,282.1 310.1,277.1Z" fill="#fdd3bf"/>
<path d="M314.3,282.1 314.2,284.6 309.8,287.9 309.4,289.5 313.3,295.4 316.8,293.8 322,291 323.5,285.8 323.8,285.6 320.4,279.3 321,276.7 312.4,273.6 310.1,277.1Z" fill="#fdd3bf"/>
<path d="M336.3,272.6 335.5,270 335.1,266.7 334.5,266 329.7,270.8 329.5,270.9 325.9,269.3 322.1,272.1 321.6,276.2 327.7,277.1 328.8,278.5 331.9,279.1 332.3,279.6 340,281.9 340.4,281.7 339.8,279.6Z" fill="#fdd3bf"/>
<path d="M321.6,276.2 321,276.7 320.4,279.3 323.8,285.6 324.9,285.5 327,286.5 331.7,285.4 332.1,285.6 338.5,283.8 340,281.9 332.3,279.6 331.9,279.1 328.8,278.5 327.7,277.1Z" fill="#fdd3bf"/>
<path d="M333.6,288.4 337.2,289.2 338.5,283.8 332.1,285.6Z" fill="#fdd3bf"/>
<path d="M332.1,285.6 331.7,285.4 327,286.5 329.6,293.8 330.7,293.6 334.8,294.5 338,293.5 338,290.4 337.2,289.2 333.6,288.4Z" fill="#fdd3bf"/>
<path d="M329.6,293.8 327,286.5 324.9,285.5 323.8,285.6 323.5,285.8 322,291 316.8,293.8 313.3,295.4 312,299 313,299.5 315.2,299.5 317,301.5 318.7,304.2 320.5,304.9 321.6,303.2 326.3,301.4 328.7,296.6 328.4,295.2Z" fill="#fdd3bf"/>
<path d="M336.3,301.9 339.5,299.5 340,297.4 338.5,293.9 338,293.5 334.8,294.5 330.7,293.6 329.6,293.8 328.4,295.2 328.7,296.6 326.3,301.4 321.6,303.2 320.5,304.9 321.5,305.2 328,305.5 331.6,307.2 334,305Z" fill="#fdd3bf"/>
<path d="M337.2,289.2 338,290.4 338,293.5 338.5,293.9 340,297.4 340.5,295 341,298.4 342.5,297 343.9,294.9 344.8,291.5 344.5,287.8 342.1,283.3 339,284 340.5,282 340.4,281.7 340,281.9 338.5,283.8Z" fill="#fdd3bf"/>
<path d="M331.0,172.5 329.3,174.6 327.0,175.0 326.4,176.4 324.5,179.0 324.8,181.8 326.0,183.0 326.4,184.5 329.0,184.5 328.9,185.9 327.5,187.5 328.8,188.3 331.0,190.0 332.5,190.6 335.0,191.5 336.5,193.1 338.0,194.5 340.8,195.9 341.5,196.0 343.5,194.0 342.3,193.3 340.5,190.5 340.6,188.3 342.0,187.5 340.7,185.0 339.0,184.5 337.3,183.0 337.6,182.4 337.0,180.0 336.5,178.0 335.5,176.0 334.7,173.9 334.0,173.0Z" fill="#fdd3bf" stroke="#2a2422" stroke-width="0.7"/>
<path d="M361.2,333.0 366.2,332.0 371.2,336.2 370.0,341.2 365.0,340.5 360.5,337.5Z" fill="#fee0d2" stroke="#2a2422" stroke-width="0.7"/>
<path d="M431.0,431.5 434.0,430.3 438.0,430.7 441.5,432.5 440.0,435.5 437.0,437.2 433.5,435.0Z" fill="#fdd3bf" stroke="#2a2422" stroke-width="0.7"/>
<path d="M434.2,73.3 435.9,76.9 433.4,77.1 435.2,83.0 432.8,80.3 432.0,81.3 430.8,83.2 429.8,79.1 428.5,77.4 429.2,74.4 426.7,71.5 427.4,69.3 428.5,68.5 428.3,64.4 430.1,67.6 431.1,67.2 431.9,70.3 433.2,71.0Z" fill="#ffffff" stroke="#2a2422" stroke-width="1.25"/>
<path d="M433.3,88.0 433.2,90.7 433.1,95.0 432.2,92.4 431.4,94.1 430.8,91.8 431.1,88.0 431.4,85.9 431.6,83.4 432.2,80.7 432.9,82.1 433.1,85.7Z" fill="#ffffff" stroke="#2a2422" stroke-width="1.25"/>
<path d="M428.6,79.9 428.5,80.9 428.1,82.7 426.0,82.2 425.2,80.7 423.6,80.2 423.2,78.9 424.6,78.3 424.9,76.5 426.8,77.8 428.4,77.8 429.7,78.7Z" fill="#ffffff" stroke="#2a2422" stroke-width="1.25"/>
<path d="M438.5,65.6 438.1,67.9 438.3,70.8 436.7,69.1 436.0,70.2 435.1,68.2 434.1,66.4 434.7,64.5 434.2,61.5 435.4,61.5 436.5,61.0 437.3,63.6Z" fill="#ffffff" stroke="#2a2422" stroke-width="1.25"/>
<path d="M441.0,60.0 441.0,62.2 440.2,63.1 439.2,62.8 438.6,61.6 437.8,60.5 437.8,58.9 438.6,58.4 439.2,58.3 440.4,57.7Z" fill="#ffffff" stroke="#2a2422" stroke-width="1.25"/>
<path d="M442.5,66.2 442.0,66.9 441.2,67.2 440.3,66.9 439.5,66.2 440.2,65.4 441.2,65.0 442.0,65.5Z" fill="#ffffff" stroke="#2a2422" stroke-width="1.25"/>
<path d="M440.4,74.0 440.2,74.8 439.3,75.0 438.7,74.5 438.4,74.0 438.4,73.2 439.3,73.4 440.1,73.2Z" fill="#ffffff" stroke="#2a2422" stroke-width="1.25"/>
<path d="M436.4,82.0 436.4,83.2 435.6,83.2 434.9,83.1 434.5,82.0 435.0,81.1 435.6,80.7 436.2,81.2Z" fill="#ffffff" stroke="#2a2422" stroke-width="1.25"/>
<path d="M418.8,84.3 418.2,84.8 417.6,85.1 417.0,84.7 417.0,83.9 417.6,83.3 418.4,83.5Z" fill="#ffffff" stroke="#2a2422" stroke-width="1.25"/>
<path d="M426.6,106.3 426.0,106.8 425.4,107.2 425.0,106.6 424.9,106.0 425.5,105.7 426.2,105.6Z" fill="#ffffff" stroke="#2a2422" stroke-width="1.25"/>
<path d="M400.8,126.3 402.7,126.8 402.5,128.2 399.2,128.5 398.4,129.4 397.0,132.2 395.8,129.7 394.5,129.8 390.0,131.5 390.7,129.6 392.0,128.1 391.9,126.9 392.7,125.4 395.4,125.3 397.0,125.2 399.5,122.9 401.3,123.5 402.1,124.7Z" fill="#ffffff" stroke="#2a2422" stroke-width="1.25"/>
<path d="M394.9,132.9 394.3,135.4 392.9,134.7 391.9,134.6 391.0,134.1 391.2,132.6 391.1,130.8 392.7,130.1 394.0,127.6 395.5,127.8 394.9,130.4 395.9,131.2Z" fill="#ffffff" stroke="#2a2422" stroke-width="1.25"/>
<path d="M403.5,134.4 403.0,136.4 402.2,137.5 401.5,136.5 401.2,135.5 400.5,134.2 401.1,132.5 401.9,132.4 402.7,131.0 403.4,132.3Z" fill="#ffffff" stroke="#2a2422" stroke-width="1.25"/>
<path d="M399.4,120.8 398.5,121.6 397.5,122.3 396.1,121.9 395.8,120.8 396.3,119.9 397.5,119.3 398.8,119.8Z" fill="#ffffff" stroke="#2a2422" stroke-width="1.25"/>
<path d="M402.2,114.1 402.1,115.2 400.4,115.8 399.3,115.7 397.7,116.2 397.8,115.2 397.0,114.5 398.6,113.8 399.9,113.4 401.8,113.0Z" fill="#ffffff" stroke="#2a2422" stroke-width="1.25"/>
<path d="M410.9,112.4 410.4,113.4 408.8,114.5 407.5,115.5 405.5,116.3 406.0,115.2 404.3,115.3 406.0,113.7 408.0,113.3 410.4,111.8Z" fill="#ffffff" stroke="#2a2422" stroke-width="1.25"/>
<path d="M409.1,120.0 407.9,120.7 407.4,121.6 406.3,121.4 405.7,120.7 405.2,120.0 405.4,119.1 406.2,118.3 407.5,118.2 407.7,119.4Z" fill="#ffffff" stroke="#2a2422" stroke-width="1.25"/>
<path d="M404.2,117.6 404.1,119.5 403.4,119.7 402.9,118.9 402.2,117.6 402.7,115.8 403.4,115.0 404.1,115.8Z" fill="#ffffff" stroke="#2a2422" stroke-width="1.25"/>
<path d="M404.2,123.7 404.2,124.7 403.0,124.7 402.3,124.3 401.8,123.7 402.0,122.8 403.0,122.4 403.9,122.9Z" fill="#ffffff" stroke="#2a2422" stroke-width="1.25"/>
<path d="M411.7,111.6 411.5,112.1 410.9,112.1 410.3,111.9 410.3,111.3 410.9,111.1 411.4,111.2Z" fill="#ffffff" stroke="#2a2422" stroke-width="1.25"/>
<path d="M317.0,458.0 316.6,458.7 315.7,459.0 315.4,458.3 315.1,457.6 315.7,457.0 316.6,457.4Z" fill="#ffffff" stroke="#2a2422" stroke-width="1.25"/>
<path d="M336.0,215.2 334.5,216.9 334.2,218.5 329.4,218.2 329.7,220.7 327.4,222.8 324.9,220.5 324.1,219.0 318.3,221.4 318.4,219.2 321.3,217.2 318.0,216.1 317.0,214.0 323.1,214.5 322.6,211.5 325.8,211.4 327.7,213.3 329.2,213.7 334.7,211.6 332.3,214.6Z" fill="#fff5f0" stroke="#2a2422" stroke-width="0.95"/>
<path d="M317.0,206.0 316.4,207.1 314.9,208.2 312.7,209.4 311.8,209.1 311.5,208.2 313.9,206.5 316.4,205.4Z" fill="#fff5f0" stroke="#2a2422" stroke-width="0.95"/>
<path d="M312.1,210.8 311.6,211.9 309.8,212.7 308.4,213.1 306.9,213.2 307.1,212.2 309.2,211.3 310.6,210.8Z" fill="#fff5f0" stroke="#2a2422" stroke-width="0.95"/>
<path d="M340.8,233.4 342.2,236.6 343.4,239.9 343.3,241.4 342.8,242.0 341.5,240.7 339.8,238.8 338.4,234.5 336.2,230.9 335.1,227.3 335.2,225.7 336.5,226.8 337.1,225.8 339.3,231.2Z" fill="#fff5f0" stroke="#2a2422" stroke-width="0.95"/>
<path d="M333.5,243.5 332.6,244.8 332.3,246.5 331.0,247.9 329.4,246.4 327.7,246.4 324.0,246.5 324.1,243.5 327.0,242.0 327.7,240.4 328.7,237.6 331.4,237.0 332.6,240.0 335.3,240.8Z" fill="#fff5f0" stroke="#2a2422" stroke-width="0.95"/>
<path d="M334.0,231.0 333.4,232.2 332.5,232.5 331.3,232.6 330.7,231.0 331.4,229.5 332.5,228.8 333.4,229.9Z" fill="#fff5f0" stroke="#2a2422" stroke-width="0.95"/>
<path d="M353.4,241.0 353.9,243.5 353.5,244.9 352.3,243.5 351.5,242.5 350.7,240.9 350.1,238.6 350.9,237.6 352.2,239.2Z" fill="#fff5f0" stroke="#2a2422" stroke-width="0.95"/>
<path d="M353.5,252.0 353.8,254.7 352.8,256.6 351.3,256.7 350.1,255.7 349.4,254.0 348.6,252.0 348.9,249.5 350.2,248.5 351.3,247.4 353.0,246.7 354.0,249.2Z" fill="#fdd3bf" stroke="#2a2422" stroke-width="0.7"/>
<path d="M332.2,196.5 332.0,197.8 330.6,198.2 329.2,198.8 327.5,198.1 326.8,196.5 328.1,195.3 329.4,194.8 330.8,194.4 332.2,195.1Z" fill="#fdd3bf" stroke="#2a2422" stroke-width="0.7"/>
<path d="M335.4,200.5 334.5,201.3 333.7,201.9 333.0,201.1 332.9,199.9 333.8,199.6 334.5,199.8Z" fill="#fdd3bf" stroke="#2a2422" stroke-width="0.7"/>
<path d="M342.4,181.3 342.7,183.4 342.0,184.1 341.1,183.4 340.3,181.7 340.1,179.2 340.9,178.0 342.0,179.2Z" fill="#fdd3bf" stroke="#2a2422" stroke-width="0.7"/>
<path d="M433.7,73.9 432.5,75.2 432.4,77.7 431.6,78.2 431.0,77.4 430.0,80.0 429.4,78.9 429.8,76.1 428.6,75.6 430.0,73.4 429.5,71.2 430.2,69.8 431.0,69.5 431.5,70.9 432.6,67.3 432.8,69.3 432.9,71.0 432.9,72.4Z" fill="#ffffff" stroke="#2a2422" stroke-width="1.25"/>
<path d="M433.0,87.8 432.5,89.8 431.5,91.8 431.4,90.7 430.8,91.1 431.2,89.2 431.5,87.3 432.5,85.4 433.6,83.0 433.6,84.7 433.5,85.5 433.6,86.2Z" fill="#ffffff" stroke="#2a2422" stroke-width="1.25"/>
<path d="M428.1,79.9 427.6,80.2 426.9,80.3 425.8,80.9 424.8,80.0 425.6,79.0 425.5,78.3 425.6,77.4 426.6,77.2 427.5,77.8 428.3,78.4 429.0,79.3Z" fill="#ffffff" stroke="#2a2422" stroke-width="1.25"/>
<path d="M437.7,65.8 437.2,67.2 436.6,67.5 436.2,67.5 435.7,67.6 435.2,67.0 435.4,65.4 435.9,64.2 436.4,63.0 437.1,62.4 437.1,64.1 437.6,64.4Z" fill="#ffffff" stroke="#2a2422" stroke-width="1.25"/>
<path d="M440.4,60.1 440.1,61.5 439.5,61.1 438.9,61.5 438.7,60.8 438.9,59.8 438.9,58.4 439.5,58.1 440.1,58.1 440.2,59.1Z" fill="#ffffff" stroke="#2a2422" stroke-width="1.25"/>
<path d="M399.6,127.2 399.5,127.7 399.8,128.5 399.1,129.1 397.9,129.5 396.9,128.4 395.1,129.2 393.6,128.8 394.9,127.5 394.9,127.0 394.7,126.4 394.3,125.5 396.3,126.0 396.8,125.3 397.9,125.3 399.7,124.8 399.4,126.1 400.7,126.5Z" fill="#ffffff" stroke="#2a2422" stroke-width="1.25"/>
<path d="M394.2,132.3 393.4,133.5 392.3,133.7 392.5,132.6 392.3,132.2 392.1,131.6 392.6,130.5 393.7,130.3 394.5,130.1 395.6,129.8 394.9,131.0 395.5,131.6Z" fill="#ffffff" stroke="#2a2422" stroke-width="1.25"/>
<path d="M402.7,134.1 402.4,134.8 401.9,135.1 401.4,135.4 401.4,134.6 401.5,133.5 402.2,132.8 402.7,132.7 402.9,132.9 403.3,133.1Z" fill="#ffffff" stroke="#2a2422" stroke-width="1.25"/>
<path d="M401.3,114.5 400.9,115.0 400.1,115.3 399.2,115.4 399.1,114.6 398.9,114.3 398.7,113.8 399.5,113.6 400.2,113.8 400.8,114.0Z" fill="#ffffff" stroke="#2a2422" stroke-width="1.25"/>
<path d="M409.5,113.6 410.1,114.0 409.0,114.5 407.5,114.8 406.7,114.4 406.1,114.2 406.8,113.7 407.4,113.3 408.5,113.2 409.5,113.2Z" fill="#ffffff" stroke="#2a2422" stroke-width="1.25"/>
<path d="M337.4,142.5 337.4,144.1 336.9,146.1 338.2,148.6 337.0,150.3 336.4,151.5 335.4,152.6 334.0,155.0 332.3,157.3 331.5,159.2 332.6,160.3 331.2,161.2 328.8,161.8 329.2,163.6 327.0,165.0 325.8,165.4 324.0,167.5 322.0,168.7 321.9,169.9 320.0,171.0 317.9,173.0 316.3,175.8 316.5,177.0 315.2,179.2 315.5,181.6 315.2,183.0 314.3,186.1 314.0,187.0 313.5,189.1 313.2,191.0 313.1,192.5 311.0,195.0 310.6,196.6 308.5,198.8 306.8,201.2 304.9,202.7 304.6,203.4 306.0,202.3 306.0,199.5 305.9,197.0 307.7,195.6 308.9,193.9 307.8,193.0 309.5,191.0 310.6,190.4 309.6,187.3 310.8,186.2 311.8,183.6 310.8,182.6 311.5,181.0 311.4,179.0 311.6,176.9 311.3,175.2 309.3,173.0 311.0,172.2 312.0,171.0 312.8,169.9 314.8,169.0 317.2,168.4 317.5,166.0 319.4,163.6 319.5,161.8 319.2,160.2 317.9,158.0 319.0,155.0 319.8,153.5 321.0,151.9 321.8,150.9 324.0,149.5 325.2,149.4 327.2,148.0 329.3,148.1 330.0,146.0 332.5,144.0 333.5,144.0 335.9,143.9Z" fill="#ffffff" stroke="#222" stroke-width="1.05"/>
<path d="M361.0,140.0 362.4,141.9 363.0,143.0 366.0,144.0 368.0,144.5 370.0,145.5 372.1,145.2 375.0,145.0 377.4,144.1 380.0,144.0 382.1,143.6 385.0,142.5 389.0,143.0 392.5,141.0 395.1,139.7 397.5,138.8 398.5,143.0 397.2,146.4 396.0,149.0 395.0,151.3 393.2,153.0 392.0,155.0 390.5,156.6 388.7,158.8 387.0,161.0 385.3,162.2 383.0,164.0 380.0,166.2 382.1,168.1 384.0,169.5 382.0,171.6 380.5,173.0 378.0,176.5 377.0,178.8 380.0,178.6 383.0,177.5 387.0,175.8 391.0,174.0 393.8,173.9 396.0,174.6 400.0,175.0 402.7,174.4 405.0,174.5 408.5,174.7 412.0,175.0 414.4,175.0 417.6,175.2 420.0,175.5 421.1,177.7 422.6,179.7 424.0,181.5 423.0,183.7 422.6,186.2 421.5,188.5 420.2,190.5 418.4,193.2 417.5,195.0 416.3,197.8 415.7,200.4 415.0,202.5 413.4,205.1 412.0,207.0 410.3,209.3 408.5,212.0 407.4,214.8 406.0,217.3 403.0,221.0 400.6,222.2 398.0,223.5 394.0,224.5 396.3,225.0 399.0,225.3 401.2,225.6 404.0,225.5 407.0,227.5 404.9,228.9 402.5,230.5 400.5,231.5 398.0,233.0 394.0,235.5 391.4,236.5 389.0,237.0 386.0,237.5 388.4,238.4 391.0,239.0 394.1,239.1 397.0,238.5 400.9,238.7 404.0,238.5 407.2,239.0 410.0,240.0 414.0,242.0 417.0,244.0 419.0,247.5 420.9,249.5 422.5,251.0 423.7,253.5 425.0,256.0 426.2,258.9 427.5,261.0 428.1,263.9 429.0,267.0 429.1,270.4 430.0,274.0 430.6,277.8 431.0,281.0 432.3,283.4 433.0,286.0 435.0,289.0 437.9,289.8 440.0,291.0 442.3,292.1 443.9,293.3 446.0,295.0 448.3,297.1 449.7,298.7 452.0,300.5 454.6,302.5 457.5,304.5 456.0,308.5 457.5,310.4 459.0,313.0 460.8,315.3 462.0,318.0 463.7,320.4 465.5,323.5 461.0,322.5 458.1,322.0 456.0,322.0 452.0,322.5 454.9,324.1 458.0,325.0 460.6,326.0 462.5,327.0 464.2,329.4 466.0,331.5 467.5,333.6 468.5,336.0 469.8,340.0 469.1,342.4 468.0,345.0 466.3,347.2 464.5,349.0 463.0,352.0 466.0,353.0 468.0,350.5 471.5,348.5 474.5,348.1 477.5,347.3 480.4,347.2 483.0,347.8 485.1,348.1 488.0,349.0 490.3,349.5 493.0,350.5 495.1,351.5 498.0,353.0 499.7,355.8 501.3,358.0 503.0,362.0 502.9,364.4 503.0,367.0 502.4,369.6 502.0,372.0 500.5,376.5 499.5,379.4 498.0,381.5 496.2,383.7 494.5,385.5 492.0,388.5 490.5,392.0 487.5,395.5 484.5,398.5 482.0,401.0 478.0,402.5 482.0,404.5 484.4,405.0 487.0,405.0 489.3,405.3 492.0,405.0 494.8,405.7 497.5,406.0 498.5,409.5 497.5,413.0 495.8,415.1 494.0,417.5 492.0,419.0 490.0,421.3 486.0,423.5 483.0,425.0 480.1,426.2 478.0,427.3 474.0,428.8 470.0,429.8 466.0,429.2 462.0,428.5 459.5,428.9 457.0,428.8 454.1,429.0 452.0,429.2 447.5,429.5 443.0,429.8 438.5,429.3 434.0,428.8 431.0,430.0 427.0,431.5 424.5,432.1 422.0,432.5 417.5,433.5 413.0,433.0 410.0,434.5 408.3,437.8 407.3,435.4 406.0,433.0 403.6,432.0 401.0,431.0 398.6,430.5 396.0,430.5 392.5,432.0 390.0,434.0 387.5,435.1 385.0,436.0 383.5,439.0 382.5,443.0 380.0,446.5 377.5,449.0 373.0,447.5 369.0,445.5 366.0,444.5 362.0,444.5 359.3,445.5 357.0,445.8 354.7,447.3 352.0,448.0 348.0,450.0 346.0,454.0 343.5,458.0 340.5,455.5 338.0,452.5 335.0,453.5 333.0,454.8 330.5,453.8 331.0,450.5 334.0,448.7 336.3,448.5 339.0,448.3 341.1,446.0 343.5,444.5 346.0,441.0 348.5,437.5 350.1,435.6 352.5,434.2 354.4,431.8 355.8,430.0 357.3,427.5 358.5,425.5 359.2,423.0 360.5,421.0 364.0,418.5 366.5,417.0 368.5,414.2 373.0,413.0 375.6,413.3 378.0,413.5 382.0,414.3 384.5,414.9 387.0,415.5 390.5,415.3 392.5,412.5 395.5,409.3 398.5,406.3 401.5,403.8 404.5,401.0 401.0,401.3 397.0,402.3 393.0,403.3 390.0,404.2 386.0,404.5 383.3,404.0 381.0,403.5 379.1,401.8 376.5,400.5 374.4,399.2 372.0,398.3 368.5,398.5 365.0,400.5 362.5,397.5 359.0,396.0 355.0,395.5 351.5,397.5 348.0,396.5 345.0,395.0 343.0,392.0 342.0,389.5 344.5,387.5 348.0,386.0 352.0,384.5 356.0,383.5 360.0,381.5 364.0,379.0 367.0,376.5 369.0,373.5 370.5,370.5 371.3,366.5 371.6,363.0 372.2,359.5 372.8,356.0 372.2,353.0 368.0,354.0 364.0,355.4 360.0,356.2 356.3,355.3 359.0,353.0 363.0,350.5 367.0,348.0 370.0,345.0 371.5,341.0 374.5,337.5 377.5,335.6 380.5,334.5 384.0,334.3 388.0,333.8 392.0,333.2 395.5,332.6 396.0,330.5 395.0,327.0 395.8,322.3 395.8,318.4 396.6,314.5 398.9,310.6 398.9,306.7 395.9,307.4 393.4,308.3 391.9,305.2 390.8,303.2 390.3,300.5 388.6,297.9 387.2,295.8 385.6,292.7 384.8,290.3 385.6,285.6 386.6,283.2 388.0,281.0 391.0,277.8 393.5,276.2 395.8,273.9 393.7,274.2 391.0,275.0 388.6,275.6 386.0,275.5 382.5,276.2 379.0,277.8 376.2,278.8 373.0,279.6 370.0,280.0 367.4,278.9 365.0,277.5 362.5,279.0 360.0,281.2 358.0,282.9 355.5,284.0 354.5,280.0 353.8,276.2 351.2,273.8 354.0,271.5 356.2,267.5 358.0,264.0 360.0,261.2 362.0,257.5 362.5,254.0 361.2,250.0 360.0,246.0 360.0,243.0 357.0,241.5 355.5,238.0 354.5,240.5 353.5,238.2 352.5,236.0 353.0,234.1 352.3,232.5 351.0,231.0 351.5,228.7 352.5,227.0 350.5,228.0 349.9,229.0 349.5,231.5 349.1,233.0 347.5,234.1 348.0,236.5 348.4,237.9 347.0,241.0 346.6,243.7 345.8,244.1 346.5,246.0 346.5,248.6 346.0,252.0 345.2,255.3 345.0,258.0 344.1,260.1 343.0,262.5 340.8,261.0 341.0,257.8 341.2,255.0 341.9,252.4 342.0,249.0 342.1,246.0 342.8,243.0 342.0,241.1 343.1,240.1 342.5,238.0 341.1,235.4 341.0,233.5 341.1,231.2 341.5,229.5 342.7,228.4 343.0,226.0 343.5,223.0 343.5,220.5 343.6,218.5 344.5,216.8 341.8,215.4 341.0,214.5 340.5,213.3 338.0,212.0 336.9,211.2 335.5,210.0 334.5,209.5 333.3,207.6 334.1,206.0 336.0,205.3 338.4,204.1 339.0,203.0 341.5,201.0 342.0,200.5 343.5,198.0 343.4,196.4 342.0,195.0 342.7,194.3 343.5,192.0 341.7,190.8 341.5,189.5 342.4,188.4 344.5,188.0 343.0,186.0 344.7,184.3 345.0,183.0 344.6,180.2 343.0,179.5 345.1,179.3 345.0,177.0 344.3,174.3 342.8,173.0 343.9,170.5 344.1,168.3 345.2,167.5 345.7,165.0 348.0,164.0 348.7,163.3 350.7,161.2 351.3,159.8 353.0,157.0 354.2,154.8 356.2,153.4 356.6,150.6 357.7,147.2 358.8,144.4 359.0,143.0 360.6,141.1Z" fill="none" stroke="#3a2a26" stroke-width="0.75"/>
<path d="M286.4,289.0 289.0,285.5 292.9,280.5 296.0,279.0 299.0,277.5 301.0,273.0 303.0,269.5 305.2,267.5 308.0,268.5 311.0,270.0 313.0,266.5 314.6,263.8 319.0,262.8 323.4,262.0 328.0,262.3 331.6,263.2 335.1,266.7 335.5,270.0 336.3,272.6 338.0,276.0 339.8,279.6 340.5,282.0 339.0,284.0 342.1,283.3 344.5,287.8 344.8,291.5 343.9,294.9 342.5,297.0 341.0,298.4 340.5,295.0 339.5,299.5 336.3,301.9 334.0,305.0 331.6,307.2 328.0,305.5 324.5,305.4 321.5,305.2 318.7,304.2 317.0,301.5 315.2,299.5 313.0,299.5 310.5,298.4 307.0,300.0 303.4,301.9 300.5,300.8 297.6,299.0 295.0,297.0 292.9,294.9 290.0,293.0 288.0,291.0Z" fill="none" stroke="#3a2a26" stroke-width="0.75"/>
<path d="M380,166.2 374,165.8 369,164 M380.5,173 375,175.5 371,177.5 M377,178.8 373,180 369.5,181.2 M452,322.5 447,322 443,322.8 M478,402.5 473,402 469,402.5 M404.5,401 407,398 408.5,395 M394,224.5 390,224 387,225 M386,237.5 382,236.5 M360,243 364,241.5 367,241" fill="none" stroke="#3a2a26" stroke-width="0.7"/>
<path d="M334,146 331,150 333,153 M328,152 325,156 327,160 M322,160 320,165 323,167 M318,170 315,175 M313,182 311.5,188 M330,148.5 326,151 M324,159 320,160.5 M317,215.7 321,213.5 325,211 328.7,209.4 M327,218.5 332,220 337,221.5 341,222.5 M330,224 336,224.8 342,224.5 M344.3,221 344.6,228 344.2,237 M347,234 351,229 355,225.5 M350,238 354,233 357.5,229.5 M353.5,241 357,237 360,234 M333,197 336,199.5 335,203 M338,183 341,186 340,190 M346,170 349,172 348,176 M350,158 353,160.5 355.5,159 M322,158 326,156 329,158.5 M316,176 319,178.5 318,183 M312,188 314.5,190 313,194" fill="none" stroke="#2a2422" stroke-width="1.1" stroke-linecap="round" opacity="0.85"/>
</g>
<g transform="translate(327.0,0)" stroke="#553631" stroke-width="0.45" stroke-linejoin="round">
<path d="M361.0,140.0 362.4,141.9 363.0,143.0 366.0,144.0 368.0,144.5 370.0,145.5 372.1,145.2 375.0,145.0 377.4,144.1 380.0,144.0 382.1,143.6 385.0,142.5 389.0,143.0 392.5,141.0 395.1,139.7 397.5,138.8 398.5,143.0 397.2,146.4 396.0,149.0 395.0,151.3 393.2,153.0 392.0,155.0 390.5,156.6 388.7,158.8 387.0,161.0 385.3,162.2 383.0,164.0 380.0,166.2 382.1,168.1 384.0,169.5 382.0,171.6 380.5,173.0 378.0,176.5 377.0,178.8 380.0,178.6 383.0,177.5 387.0,175.8 391.0,174.0 393.8,173.9 396.0,174.6 400.0,175.0 402.7,174.4 405.0,174.5 408.5,174.7 412.0,175.0 414.4,175.0 417.6,175.2 420.0,175.5 421.1,177.7 422.6,179.7 424.0,181.5 423.0,183.7 422.6,186.2 421.5,188.5 420.2,190.5 418.4,193.2 417.5,195.0 416.3,197.8 415.7,200.4 415.0,202.5 413.4,205.1 412.0,207.0 410.3,209.3 408.5,212.0 407.4,214.8 406.0,217.3 403.0,221.0 400.6,222.2 398.0,223.5 394.0,224.5 396.3,225.0 399.0,225.3 401.2,225.6 404.0,225.5 407.0,227.5 404.9,228.9 402.5,230.5 400.5,231.5 398.0,233.0 394.0,235.5 391.4,236.5 389.0,237.0 386.0,237.5 388.4,238.4 391.0,239.0 394.1,239.1 397.0,238.5 400.9,238.7 404.0,238.5 407.2,239.0 410.0,240.0 414.0,242.0 417.0,244.0 419.0,247.5 420.9,249.5 422.5,251.0 423.7,253.5 425.0,256.0 426.2,258.9 427.5,261.0 428.1,263.9 429.0,267.0 429.1,270.4 430.0,274.0 430.6,277.8 431.0,281.0 432.3,283.4 433.0,286.0 435.0,289.0 437.9,289.8 440.0,291.0 442.3,292.1 443.9,293.3 446.0,295.0 448.3,297.1 449.7,298.7 452.0,300.5 454.6,302.5 457.5,304.5 456.0,308.5 457.5,310.4 459.0,313.0 460.8,315.3 462.0,318.0 463.7,320.4 465.5,323.5 461.0,322.5 458.1,322.0 456.0,322.0 452.0,322.5 454.9,324.1 458.0,325.0 460.6,326.0 462.5,327.0 464.2,329.4 466.0,331.5 467.5,333.6 468.5,336.0 469.8,340.0 469.1,342.4 468.0,345.0 466.3,347.2 464.5,349.0 463.0,352.0 466.0,353.0 468.0,350.5 471.5,348.5 474.5,348.1 477.5,347.3 480.4,347.2 483.0,347.8 485.1,348.1 488.0,349.0 490.3,349.5 493.0,350.5 495.1,351.5 498.0,353.0 499.7,355.8 501.3,358.0 503.0,362.0 502.9,364.4 503.0,367.0 502.4,369.6 502.0,372.0 500.5,376.5 499.5,379.4 498.0,381.5 496.2,383.7 494.5,385.5 492.0,388.5 490.5,392.0 487.5,395.5 484.5,398.5 482.0,401.0 478.0,402.5 482.0,404.5 484.4,405.0 487.0,405.0 489.3,405.3 492.0,405.0 494.8,405.7 497.5,406.0 498.5,409.5 497.5,413.0 495.8,415.1 494.0,417.5 492.0,419.0 490.0,421.3 486.0,423.5 483.0,425.0 480.1,426.2 478.0,427.3 474.0,428.8 470.0,429.8 466.0,429.2 462.0,428.5 459.5,428.9 457.0,428.8 454.1,429.0 452.0,429.2 447.5,429.5 443.0,429.8 438.5,429.3 434.0,428.8 431.0,430.0 427.0,431.5 424.5,432.1 422.0,432.5 417.5,433.5 413.0,433.0 410.0,434.5 408.3,437.8 407.3,435.4 406.0,433.0 403.6,432.0 401.0,431.0 398.6,430.5 396.0,430.5 392.5,432.0 390.0,434.0 387.5,435.1 385.0,436.0 383.5,439.0 382.5,443.0 380.0,446.5 377.5,449.0 373.0,447.5 369.0,445.5 366.0,444.5 362.0,444.5 359.3,445.5 357.0,445.8 354.7,447.3 352.0,448.0 348.0,450.0 346.0,454.0 343.5,458.0 340.5,455.5 338.0,452.5 335.0,453.5 333.0,454.8 330.5,453.8 331.0,450.5 334.0,448.7 336.3,448.5 339.0,448.3 341.1,446.0 343.5,444.5 346.0,441.0 348.5,437.5 350.1,435.6 352.5,434.2 354.4,431.8 355.8,430.0 357.3,427.5 358.5,425.5 359.2,423.0 360.5,421.0 364.0,418.5 366.5,417.0 368.5,414.2 373.0,413.0 375.6,413.3 378.0,413.5 382.0,414.3 384.5,414.9 387.0,415.5 390.5,415.3 392.5,412.5 395.5,409.3 398.5,406.3 401.5,403.8 404.5,401.0 401.0,401.3 397.0,402.3 393.0,403.3 390.0,404.2 386.0,404.5 383.3,404.0 381.0,403.5 379.1,401.8 376.5,400.5 374.4,399.2 372.0,398.3 368.5,398.5 365.0,400.5 362.5,397.5 359.0,396.0 355.0,395.5 351.5,397.5 348.0,396.5 345.0,395.0 343.0,392.0 342.0,389.5 344.5,387.5 348.0,386.0 352.0,384.5 356.0,383.5 360.0,381.5 364.0,379.0 367.0,376.5 369.0,373.5 370.5,370.5 371.3,366.5 371.6,363.0 372.2,359.5 372.8,356.0 372.2,353.0 368.0,354.0 364.0,355.4 360.0,356.2 356.3,355.3 359.0,353.0 363.0,350.5 367.0,348.0 370.0,345.0 371.5,341.0 374.5,337.5 377.5,335.6 380.5,334.5 384.0,334.3 388.0,333.8 392.0,333.2 395.5,332.6 396.0,330.5 395.0,327.0 395.8,322.3 395.8,318.4 396.6,314.5 398.9,310.6 398.9,306.7 395.9,307.4 393.4,308.3 391.9,305.2 390.8,303.2 390.3,300.5 388.6,297.9 387.2,295.8 385.6,292.7 384.8,290.3 385.6,285.6 386.6,283.2 388.0,281.0 391.0,277.8 393.5,276.2 395.8,273.9 393.7,274.2 391.0,275.0 388.6,275.6 386.0,275.5 382.5,276.2 379.0,277.8 376.2,278.8 373.0,279.6 370.0,280.0 367.4,278.9 365.0,277.5 362.5,279.0 360.0,281.2 358.0,282.9 355.5,284.0 354.5,280.0 353.8,276.2 351.2,273.8 354.0,271.5 356.2,267.5 358.0,264.0 360.0,261.2 362.0,257.5 362.5,254.0 361.2,250.0 360.0,246.0 360.0,243.0 357.0,241.5 355.5,238.0 354.5,240.5 353.5,238.2 352.5,236.0 353.0,234.1 352.3,232.5 351.0,231.0 351.5,228.7 352.5,227.0 350.5,228.0 349.9,229.0 349.5,231.5 349.1,233.0 347.5,234.1 348.0,236.5 348.4,237.9 347.0,241.0 346.6,243.7 345.8,244.1 346.5,246.0 346.5,248.6 346.0,252.0 345.2,255.3 345.0,258.0 344.1,260.1 343.0,262.5 340.8,261.0 341.0,257.8 341.2,255.0 341.9,252.4 342.0,249.0 342.1,246.0 342.8,243.0 342.0,241.1 343.1,240.1 342.5,238.0 341.1,235.4 341.0,233.5 341.1,231.2 341.5,229.5 342.7,228.4 343.0,226.0 343.5,223.0 343.5,220.5 343.6,218.5 344.5,216.8 341.8,215.4 341.0,214.5 340.5,213.3 338.0,212.0 336.9,211.2 335.5,210.0 334.5,209.5 333.3,207.6 334.1,206.0 336.0,205.3 338.4,204.1 339.0,203.0 341.5,201.0 342.0,200.5 343.5,198.0 343.4,196.4 342.0,195.0 342.7,194.3 343.5,192.0 341.7,190.8 341.5,189.5 342.4,188.4 344.5,188.0 343.0,186.0 344.7,184.3 345.0,183.0 344.6,180.2 343.0,179.5 345.1,179.3 345.0,177.0 344.3,174.3 342.8,173.0 343.9,170.5 344.1,168.3 345.2,167.5 345.7,165.0 348.0,164.0 348.7,163.3 350.7,161.2 351.3,159.8 353.0,157.0 354.2,154.8 356.2,153.4 356.6,150.6 357.7,147.2 358.8,144.4 359.0,143.0 360.6,141.1Z" fill="#fcbba1"/>
<path d="M286.4,289.0 289.0,285.5 292.9,280.5 296.0,279.0 299.0,277.5 301.0,273.0 303.0,269.5 305.2,267.5 308.0,268.5 311.0,270.0 313.0,266.5 314.6,263.8 319.0,262.8 323.4,262.0 328.0,262.3 331.6,263.2 335.1,266.7 335.5,270.0 336.3,272.6 338.0,276.0 339.8,279.6 340.5,282.0 339.0,284.0 342.1,283.3 344.5,287.8 344.8,291.5 343.9,294.9 342.5,297.0 341.0,298.4 340.5,295.0 339.5,299.5 336.3,301.9 334.0,305.0 331.6,307.2 328.0,305.5 324.5,305.4 321.5,305.2 318.7,304.2 317.0,301.5 315.2,299.5 313.0,299.5 310.5,298.4 307.0,300.0 303.4,301.9 300.5,300.8 297.6,299.0 295.0,297.0 292.9,294.9 290.0,293.0 288.0,291.0Z" fill="#fcbba1"/>
<path d="M417,361.9 416.2,363.9 418.3,366.4 418.6,369.2 419.7,369.8 420.5,370.9 425.3,371.3 426.8,368.7 425.6,365.9 423.8,365.7 421.8,364.3 421.1,362Z" fill="#67000d"/>
<path d="M441.7,357.5 434.9,354.9 433,356.4 433,359.5 439.7,363.2 442.2,358.4Z" fill="#cb181d"/>
<path d="M436,346 432.7,347.2 435.3,353.6 439.6,350.4 439.1,346.7Z" fill="#cb181d"/>
<path d="M435.3,353.6 432.7,347.2 431,346.7 428.2,352.2 429.8,355.2 433,356.4 434.9,354.9Z" fill="#ef3b2c"/>
<path d="M453.2,364.6 452.5,367.2 454.7,371.5 454.8,374.1 456.5,375.1 458.3,377.6 466.8,375.2 466.4,372.3 463.9,369.4 463.4,369.4 459.8,367.3 459,365.2Z" fill="#ef3b2c"/>
<path d="M458.3,377.6 456.5,375.1 454.8,374.1 451.5,375.2 450.5,380.5 446.7,383.1 446.8,384.3 447.2,384.8 453.6,386.8 454.4,382.4 458.3,379.8Z" fill="#ef3b2c"/>
<path d="M443.1,380.1 438.4,383.2 440.9,388 440.6,389.4 442.2,392.1 442.2,394.6 447.9,396 450.3,392.1 447.3,389.6 447.2,384.8 446.8,384.3 446.7,383.1 443.7,380.2Z" fill="#fb6a4a"/>
<path d="M447.9,396 442.2,394.6 440.4,396.7 440.5,399.7 446.1,401.8 448.7,397.9Z" fill="#fb6a4a"/>
<path d="M432.3,400.1 429.3,401.1 428.5,402.7 429.9,408.2 431.3,409.3 431.5,409.6 436.6,408.8 440.3,410.8 442.3,409.9 442.9,407.5 438.7,402.4 438.4,402.5 435.3,402.3Z" fill="#fb6a4a"/>
<path d="M422.4,386.3 421.4,385.8 417.6,388 417.1,389.9 414.5,393.1 415,396.7 419,399.1 420.9,398.6 421.4,398.1 426.3,397.3 428.3,393.7 427.7,392.2 424.9,391.1Z" fill="#fca082"/>
<path d="M409.1,405.2 406.6,405.6 405.9,408.3 407.4,409.4Z" fill="#fb6a4a"/>
<path d="M497.5,413 498.5,409.5 497.5,406 494.8,405.7 492.3,405.1 492.2,405.6 489.2,409.3 491.3,413.1 496.4,414.3Z" fill="#ef3b2c"/>
<path d="M484.1,415.3 486.5,416.8 491.3,413.1 489.2,409.3 486.4,409.4 483.7,414Z" fill="#fb6a4a"/>
<path d="M491.3,413.1 486.5,416.8 488.9,421.9 490,421.3 492,419 494,417.5 496.4,414.3Z" fill="#fb6a4a"/>
<path d="M479.4,401.1 477.1,401.6 475.6,403.1 475.3,407.3 479.7,408.6 483.2,404.7 482,404.5 478,402.5 480.6,401.5Z" fill="#ef3b2c"/>
<path d="M452.1,361.4 453.2,364.6 459,365.2 460.6,361.7 457.5,359.6 452.2,361.2Z" fill="#fb6a4a"/>
<path d="M460.1,401.1 462,402.5 463.8,400.9 462.9,399 461.1,399Z" fill="#cb181d"/>
<path d="M458,397.6 457.4,400 459.3,401.2 460.1,401.1 461.1,399 460.2,397.7Z" fill="#ef3b2c"/>
<path d="M462.9,399 463.8,400.9 465.4,401.3 466.7,399.6 466,397.9 464,397.4Z" fill="#ef3b2c"/>
<path d="M458.3,403.7 460.2,405.2 462,403.5 462,402.5 460.1,401.1 459.3,401.2Z" fill="#ef3b2c"/>
<path d="M462,403.5 464.5,404.8 466.2,403.3 465.4,401.3 463.8,400.9 462,402.5Z" fill="#ef3b2c"/>
<path d="M462.5,393.8 460.2,397.7 461.1,399 462.9,399 464,397.4Z" fill="#ef3b2c"/>
<path d="M457.4,400 455.7,400.7 455.7,404 458.3,403.7 459.3,401.2Z" fill="#ef3b2c"/>
<path d="M466.7,399.6 465.4,401.3 466.2,403.3 469.4,404.1 470.5,402.4 470.1,400.1Z" fill="#ef3b2c"/>
<path d="M460.2,405.2 460.2,406.2 463.2,408.2 464.5,408.1 464.5,404.8 462,403.5Z" fill="#ef3b2c"/>
<path d="M462.5,393.8 457.9,392.7 456,394.9 458,397.6 460.2,397.7Z" fill="#ef3b2c"/>
<path d="M466,397.9 468.7,394.5 468.6,393.8 463.6,392.9 462.5,393.8 464,397.4Z" fill="#ef3b2c"/>
<path d="M456,394.9 455.1,395.1 452.6,398.9 455.7,400.7 457.4,400 458,397.6Z" fill="#ef3b2c"/>
<path d="M466,397.9 466.7,399.6 470.1,400.1 471.3,397.7 468.7,394.5Z" fill="#ef3b2c"/>
<path d="M455.7,404 455.5,404.3 455.8,406.8 458,408 460.2,406.2 460.2,405.2 458.3,403.7Z" fill="#ef3b2c"/>
<path d="M464.5,408.1 465.9,408.9 469.6,406.8 469.4,404.1 466.2,403.3 464.5,404.8Z" fill="#ef3b2c"/>
<path d="M448.4,353.5 445.6,358.6 448.4,361.1 452.1,361.4 452.2,361.2 457.5,359.6 458.1,354.9 457.8,354.5 454.3,354.8 452.5,349.5 447.9,351Z" fill="#fb6a4a"/>
<path d="M440.6,345.6 445.7,345.7 445.9,345.4 441.2,340.8 440.1,341.6Z" fill="#fb6a4a"/>
<path d="M474.2,356 471.2,359.4 474.9,363.3 477.9,363.1 478.4,362.4 481.8,360.7 482.8,357.6 479.6,354.3 479.8,351.7 477.2,347.4 475.3,347.9 472.6,352.8Z" fill="#fca082" stroke-width="0.6"/>
<path d="M478.4,385.7 479.8,384.2 477.1,378.4 471.4,383 472.8,386.3Z" fill="#fca082" stroke-width="0.6"/>
<path d="M429,267 428.1,263.9 427.5,261 426.2,258.9 425,256 422.5,251 419.6,248.1 414,250.9 414,256.3 409.6,256.9 407.4,262.8 402.9,265.8 402.5,267.1 406.4,276.6 407.3,277.3 408.7,279 412,279.9 415,278.2 421.4,279.8 422.1,279.6 423,278.1 423.2,277.2 429.8,273.1 429.1,270.4Z" fill="#fb6a4a"/>
<path d="M428.9,278.9 430.4,276.6 429.8,273.1 423.2,277.2 423,278.1Z" fill="#ef3b2c"/>
<path d="M428.9,278.9 429.9,281.2 431,281 430.4,276.6Z" fill="#ef3b2c"/>
<path d="M422.1,279.6 425.9,283.4 428.6,283.2 429.9,281.2 428.9,278.9 423,278.1Z" fill="#ef3b2c"/>
<path d="M431.6,286.7 432.9,285.7 432.3,283.4 431,281 429.9,281.2 428.6,283.2Z" fill="#ef3b2c"/>
<path d="M431.5,286.9 431.6,286.7 428.6,283.2 425.9,283.4 422.1,279.6 421.4,279.8 415,278.2 412,279.9 412.7,282.9 411.1,287.1 415.4,291.4 415.6,291.4 419.7,294.1 421.4,293.9 422.6,292.9 428.2,294 428.7,293.2 428.3,289Z" fill="#ef3b2c"/>
<path d="M433.3,292.1 433.7,290.4 431.5,286.9 428.3,289 428.7,293.2Z" fill="#fca082"/>
<path d="M431.6,286.7 431.5,286.9 433.7,290.4 437.1,289.6 435,289 433,286 432.9,285.7Z" fill="#fca082"/>
<path d="M437.6,295.5 438.7,290.3 437.9,289.8 437.1,289.6 433.7,290.4 433.3,292.1 435.4,295.5Z" fill="#fca082"/>
<path d="M437.6,295.5 439.5,297 439.8,297 442.2,292.1 438.7,290.3Z" fill="#fca082"/>
<path d="M428.7,296.2 434.6,296.2 435.4,295.5 433.3,292.1 428.7,293.2 428.2,294Z" fill="#fcbba1"/>
<path d="M402.5,267.1 395.3,273 393.5,273.5 392.4,274.6 393.7,274.2 395.8,273.9 393.5,276.2 390.9,277.9 394.2,281.2 399.4,281.8 400.8,284.9 405.2,284.3 408.7,279 407.3,277.3 406.4,276.6Z" fill="#fcbba1"/>
<path d="M399.4,287.7 400.8,284.9 399.4,281.8 394.2,281.2 390.9,277.9 388,281 386.6,283.2 385.6,285.6 384.8,290.3 385.3,291.8 391.8,293.1 392.9,294.1 394.5,294.6 396,294 398.5,288.1Z" fill="#fee0d2"/>
<path d="M405.2,284.3 400.8,284.9 399.4,287.7 398.5,288.1 396,294 401.5,296.4 402.9,295.9 404.5,293.9 411.4,295.3 411.8,294.4 415.4,291.4 411.1,287.1 412.7,282.9 412,279.9 408.7,279Z" fill="#fee0d2"/>
<path d="M391.8,293.1 385.3,291.8 385.6,292.7 387.2,295.8 390.3,300.5 390.6,302.1 394.5,301 394.5,294.6 392.9,294.1Z" fill="#fee0d2"/>
<path d="M411.6,297.5 411.4,295.3 404.5,293.9 402.9,295.9 401.5,296.4 396,294 394.5,294.6 394.5,301 396.7,303.2 396.9,307.1 404.8,304.8 405,303.8 408.2,301.2 408.6,301.1Z" fill="#fdd3bf"/>
<path d="M396.9,307.2 396.7,303.2 394.5,301 390.6,302.1 390.8,303.2 393.4,308.3 395.9,307.4Z" fill="#fdd3bf"/>
<path d="M411.4,295.3 411.6,297.5 416,299.8 416,304.6 419.3,307.3 421.1,306.5 424.2,302.1 424.8,301.8 425.1,301.2 427.9,299.2 428.7,296.2 428.2,294 422.6,292.9 421.4,293.9 419.7,294.1 415.6,291.4 411.8,294.4Z" fill="#fdd3bf"/>
<path d="M439.5,297 437.6,295.5 435.4,295.5 434.6,296.2 428.7,296.2 427.9,299.2 425.1,301.2 424.8,301.8 429.2,306.2 431.6,305.3 434.2,306.6 436.6,302.6 436.2,302Z" fill="#fcbba1"/>
<path d="M442.1,299.2 445.8,300.2 447.4,304.6 449,305 449.1,305.1 453.9,305.6 456.6,303.9 454.6,302.5 449.7,298.7 448.3,297.1 446,295 442.2,292.1 439.8,297 441.1,297.7Z" fill="#fcbba1"/>
<path d="M447.4,304.6 445.8,300.2 442.1,299.2 441.1,297.7 439.5,297 436.2,302 436.6,302.6 434.2,306.6 436.2,310.2 437.1,310 439.7,310.9 443.6,308.6 444.3,306.3Z" fill="#fcbba1"/>
<path d="M449,305 447.4,304.6 444.3,306.3 443.6,308.6 439.7,310.9 441.7,315.4 441.4,316.3 447.7,321.1 447.8,321.4 451.6,321.9 452.2,322.5 454.1,322.2 458,319.9 459.3,322.2 465.5,323.5 463.7,320.4 462,318 460.8,315.3 459,313 457.5,310.4 456,308.5 457.5,304.5 456.6,303.9 453.9,305.6 449.1,305.1Z" fill="#cb181d"/>
<path d="M411.9,305.3 410.2,309.1 409.4,309.4 407.4,312.6 407.4,313 410.8,315.9 413.4,315.4 414.3,314.4 419,315.2 420.4,314.1 419.3,307.3 416,304.6Z" fill="#fcbba1"/>
<path d="M434,312.1 436.2,310.2 434.2,306.6 431.6,305.3 429.2,306.2 424.8,301.8 424.2,302.1 421.1,306.5 419.3,307.3 420.4,314.1 423.3,314.7 426.3,312.1 430.2,313.5 432.7,312.2Z" fill="#fca082"/>
<path d="M396.9,307.1 396.9,307.2 398.9,306.7 398.9,310.6 398.4,311.4 399.3,311.9 402.4,310.9 407.4,312.6 409.4,309.4 405.1,306.1 404.8,304.8Z" fill="#fca082"/>
<path d="M399.3,311.9 400.8,315.9 405,316.8 407.4,313 407.4,312.6 402.4,310.9Z" fill="#fb6a4a"/>
<path d="M400.3,317.1 400.8,315.9 399.3,311.9 398.4,311.4 396.6,314.5 395.8,318.6Z" fill="#cb181d"/>
<path d="M400.3,317.1 395.8,318.6 395.8,322.4 400.7,321.3Z" fill="#ef3b2c"/>
<path d="M401.1,321.6 405.3,320.6 406,318.8 405,316.8 400.8,315.9 400.3,317.1 400.7,321.3Z" fill="#ef3b2c"/>
<path d="M409.4,318.8 410.8,315.9 407.4,313 405,316.8 406,318.8Z" fill="#fca082"/>
<path d="M410.7,320.9 414.5,320 413.4,315.4 410.8,315.9 409.4,318.8Z" fill="#fb6a4a"/>
<path d="M405.3,320.6 407.6,325.1 409.8,324.1 410.7,320.9 409.4,318.8 406,318.8Z" fill="#ef3b2c"/>
<path d="M403.9,326.4 407.6,325.1 405.3,320.6 401.1,321.6 401.8,325.1Z" fill="#ef3b2c"/>
<path d="M418.6,319.4 419,315.2 414.3,314.4 413.4,315.4 414.5,320 415.5,320.6Z" fill="#fb6a4a"/>
<path d="M415.5,320.6 414.5,320 410.7,320.9 409.8,324.1 410.1,324.2 415.5,324.2Z" fill="#ef3b2c"/>
<path d="M401.1,321.6 400.7,321.3 395.8,322.4 395.6,323.7 399,326.5 401.8,325.1Z" fill="#fb6a4a"/>
<path d="M454.1,322.2 456,322 458.1,322 459.3,322.2 458,319.9ZM455.1,324.2 456.8,325.3 457.3,324.8Z" fill="#ef3b2c"/>
<path d="M441.4,316.3 441.7,315.4 439.7,310.9 437.1,310 436.2,310.2 434,312.1 435.4,315.8 438.9,317.8 440.5,317.3Z" fill="#fb6a4a"/>
<path d="M443.2,323.6 440.5,317.3 438.9,317.8 437.4,320.7 438.7,324.6 441.6,325.2Z" fill="#ef3b2c"/>
<path d="M447.7,321.1 441.4,316.3 440.5,317.3 443.2,323.6 447,322.2 447.8,321.4Z" fill="#fb6a4a"/>
<path d="M426.3,312.1 423.3,314.7 425,318.3 426.8,318.3 430.8,320.6 432.2,320.3 435.4,315.8 434,312.1 432.7,312.2 430.2,313.5Z" fill="#99000d"/>
<path d="M423.3,314.7 420.4,314.1 419,315.2 418.6,319.4 420.5,320.9 421,323.4 421.4,323.6 425.7,323 425.1,318.4 425,318.3Z" fill="#cb181d"/>
<path d="M418.9,325.3 421,323.4 420.5,320.9 418.6,319.4 415.5,320.6 415.5,324.2 415.8,324.7Z" fill="#ef3b2c"/>
<path d="M421.4,323.6 421,323.4 418.9,325.3 419.6,328.5 424.5,328.6 427.7,325.8 427.5,324.5 425.7,323Z" fill="#cb181d"/>
<path d="M432.2,320.3 430.8,320.6 427.5,324.5 427.7,325.8 430.5,327.3 433.7,324.6 432.3,320.5Z" fill="#cb181d"/>
<path d="M437.4,320.7 432.3,320.5 433.7,324.6 436.7,325.6 438.7,324.6Z" fill="#cb181d"/>
<path d="M438.7,324.6 436.7,325.6 435.8,329.4 434.9,330 434.5,334.1 439.2,335.2 444.3,333.1 445.8,331.3 442.2,327.3 441.6,325.2Z" fill="#cb181d"/>
<path d="M431,328.7 430.5,327.3 427.7,325.8 424.5,328.6 425,331.3 429.3,332.6Z" fill="#ef3b2c"/>
<path d="M434.9,330 431,328.7 429.3,332.6 432.5,334.8 433.3,334.8 434.5,334.1Z" fill="#ef3b2c"/>
<path d="M425,331.3 423.6,333 426,338 426.7,337.9 429.4,338.7 432.5,334.8 429.3,332.6Z" fill="#cb181d"/>
<path d="M447.8,321.4 447,322.2 443.2,323.6 441.6,325.2 442.2,327.3 445.8,331.3 446.8,331.2 448.9,329.7 451.5,329.4 453.8,330.3 456.8,327.9 456.8,325.3 455.1,324.2 452,322.5 452.2,322.5 451.6,321.9Z" fill="#cb181d"/>
<path d="M456.8,325.3 456.8,327.9 461.9,329.4 463.5,328.4 462.5,327 460.6,326 457.3,324.8Z" fill="#ef3b2c"/>
<path d="M448.9,329.7 446.8,331.2 445.8,331.3 444.3,333.1 446.2,339.8 448.1,341.1 450.1,339.4 456,340.4 457.2,339.4 457.8,335.2 454.9,333.2 453.8,330.3 451.5,329.4Z" fill="#fb6a4a"/>
<path d="M457.8,335.2 457.2,339.4 456,340.4 456,343.9 459.2,346.3 460.4,345.9 465.6,347.9 466.3,347.2 468,345 469.1,342.4 469.8,340 468.5,336 467.5,333.6 466,331.5 463.5,328.4 461.9,329.4 456.8,327.9 453.8,330.3 454.9,333.2Z" fill="#fca082"/>
<path d="M448.1,341.1 448,342.4 453,346.1 456,343.9 456,340.4 450.1,339.4Z" fill="#fb6a4a"/>
<path d="M457.7,349.9 459.2,346.3 456,343.9 453,346.1 453,349Z" fill="#fca082"/>
<path d="M446.8,350.3 447.9,351 452.5,349.5 453,349 453,346.1 448,342.4 445.7,345.7Z" fill="#fca082"/>
<path d="M452.5,349.5 454.3,354.8 457.8,354.5 458.5,351.6 457.7,349.9 453,349Z" fill="#fca082"/>
<path d="M460.4,345.9 459.2,346.3 457.7,349.9 458.5,351.6 463.5,351 464.5,349 465.6,347.9Z" fill="#fca082"/>
<path d="M457.8,354.5 458.1,354.9 457.5,359.6 460.6,361.7 463.9,360.6 466.1,361.2 468.1,359.6 467.6,352.9 466.8,352.1 466,353 463,352 463.5,351 458.5,351.6Z" fill="#cb181d"/>
<path d="M398.3,334.7 399.8,333.2 400.1,330.5 398.5,328.6 395.7,329.3 396,330.5 395.6,332.4Z" fill="#cb181d"/>
<path d="M395.6,323.7 395,327 395.7,329.3 398.5,328.6 399,326.5Z" fill="#ef3b2c"/>
<path d="M390.8,335.8 395.5,338.1 398.1,336.5 398.3,334.7 395.6,332.4 395.5,332.6 390.6,333.4Z" fill="#fb6a4a"/>
<path d="M399,326.5 398.5,328.6 400.1,330.5 403.4,329 403.9,326.4 401.8,325.1Z" fill="#ef3b2c"/>
<path d="M400.1,330.5 399.8,333.2 403.9,333.7 405.1,331.4 403.4,329Z" fill="#cb181d"/>
<path d="M403.4,329 405.1,331.4 406.7,331.2 408.7,328.8 407.6,325.1 403.9,326.4Z" fill="#cb181d"/>
<path d="M409,334.1 411.9,332.1 411.3,330.2 408.7,328.8 406.7,331.2Z" fill="#cb181d"/>
<path d="M403.9,333.7 404.8,335.8 405.1,336 408.7,335.4 409,334.1 406.7,331.2 405.1,331.4Z" fill="#ef3b2c"/>
<path d="M413,328.1 410.1,324.2 409.8,324.1 407.6,325.1 408.7,328.8 411.3,330.2Z" fill="#ef3b2c"/>
<path d="M414.6,327.7 413,328.1 411.3,330.2 411.9,332.1 412.7,332.5 415.4,331.8 416.1,329.4Z" fill="#cb181d"/>
<path d="M414.6,327.7 415.8,324.7 415.5,324.2 410.1,324.2 413,328.1Z" fill="#ef3b2c"/>
<path d="M419.6,328.5 418.9,325.3 415.8,324.7 414.6,327.7 416.1,329.4 419.3,329Z" fill="#ef3b2c"/>
<path d="M419.3,329 416.1,329.4 415.4,331.8 417.1,333.2 419.7,332.1Z" fill="#ef3b2c"/>
<path d="M415.4,331.8 412.7,332.5 413.6,335.7 416.8,336 417.1,333.2Z" fill="#cb181d"/>
<path d="M417.1,333.2 416.8,336 417.7,337.2 420.5,336.5 421.8,333.4 419.7,332.1Z" fill="#ef3b2c"/>
<path d="M408.7,335.4 409.6,336.8 412.4,337.1 413.6,335.7 412.7,332.5 411.9,332.1 409,334.1Z" fill="#ef3b2c"/>
<path d="M425,331.3 424.5,328.6 424.4,328.5 419.6,328.5 419.3,329 419.7,332.1 421.8,333.4 423.6,333Z" fill="#fb6a4a"/>
<path d="M412.4,337.1 409.6,336.8 408.8,339.8 405.2,340.4 404.1,341.7 404.4,342.7 402.1,348.5 405.4,350.8 405.8,350.9 409.7,349.8 410.8,350.2 414.8,346.2 413.9,341.6 414,341.5Z" fill="#ef3b2c"/>
<path d="M404.8,335.8 399.9,337.8 398.1,336.5 395.5,338.1 395.5,338.5 397,342.5 394.3,344.7 395.5,347 399.9,348 400.4,348.5 402.1,348.5 404.4,342.7 404.1,341.7 405.2,340.4 405.1,336Z" fill="#fb6a4a"/>
<path d="M399.9,337.8 404.8,335.8 403.9,333.7 399.8,333.2 398.3,334.7 398.1,336.5Z" fill="#ef3b2c"/>
<path d="M417.7,337.2 416.8,340.5 420.6,342.8 422.6,338.8 420.5,336.5Z" fill="#fca082"/>
<path d="M420.6,342.8 416.8,340.5 414,341.5 413.9,341.6 414.8,346.2 410.8,350.2 412.1,351.8 417.4,352.5 419.1,350.2 423,349.4 424.2,345.5 420.8,343.2Z" fill="#fdd3bf"/>
<path d="M422.6,338.8 420.6,342.8 420.8,343.2 424.2,345.5 426,344.9 426,338Z" fill="#fb6a4a"/>
<path d="M426,344.9 429.9,345.4 431.3,341.2 429.4,338.7 426.7,337.9 426,338Z" fill="#ef3b2c"/>
<path d="M429.4,338.7 431.3,341.2 434.5,339.9 433.3,334.8 432.5,334.8Z" fill="#fb6a4a"/>
<path d="M444.3,333.1 439.2,335.2 437,340 440.1,341.6 441.2,340.8 442.6,339.4 446.2,339.8Z" fill="#fca082"/>
<path d="M445.9,345.4 448,342.4 448.1,341.1 446.2,339.8 442.6,339.4 441.2,340.8Z" fill="#fca082"/>
<path d="M437,340 436,340.4 436,346 439.1,346.7 440.6,345.6 440.1,341.6Z" fill="#fb6a4a"/>
<path d="M436,340.4 434.5,339.9 431.3,341.2 429.9,345.4 431,346.7 432.7,347.2 436,346Z" fill="#fb6a4a"/>
<path d="M335.5,210 338,212 340.5,213.3 341,214.5 341.8,215.4 344.5,216.8 343.6,218.5 343.6,219.4 347.1,215.9 349,215.1 353.5,216.8 355.5,215.8 358.3,210.9 360.6,210 364.9,211.5 369.2,208.2 371.1,204.1 376.1,202.1 376.9,200.9 382.5,198.7 383.4,189 384.2,188.4 384.5,187.5 382.9,180.1 387.4,175.6 383,177.5 380,178.6 377,178.8 378,176.5 380.5,173 384,169.5 382.1,168.1 380,166.2 387,161 390.5,156.6 392,155 393.2,153 395,151.3 397.2,146.4 398.5,143 397.5,138.8 395.1,139.7 392.5,141 389,143 385,142.5 382.1,143.6 380,144 377.4,144.1 375,145 372.1,145.2 370,145.5 368,144.5 366,144 363,143 362.4,141.9 361,140 360.6,141.1 359,143 358.8,144.4 357.7,147.2 356.6,150.6 356.2,153.4 354.2,154.8 351.3,159.8 350.7,161.2 348,164 345.7,165 345.2,167.5 344.1,168.3 343.9,170.5 342.8,173 344.3,174.3 345,177 345.1,179.3 343,179.5 344.6,180.2 345,183 344.7,184.3 343,186 344.5,188 342.4,188.4 341.5,189.5 341.7,190.8 343.5,192 342.7,194.3 342,195 343.4,196.4 343.5,198 342,200.5 339,203 338.4,204.1 336,205.3 334.1,206 333.3,207.6 334.5,209.5Z" fill="#fca082"/>
<path d="M404.9,174.5 402.7,174.4 400,175 396,174.6 393.8,173.9 391,174 387.4,175.6 382.9,180.1 384.5,187.5 384.2,188.4 383.4,189 382.5,198.7 385.5,200 392.4,195 392.7,192.6 397.6,188.4 397.4,185.8 398.6,184.1 403.5,181.4Z" fill="#fee0d2"/>
<path d="M412,175 404.9,174.5 403.5,181.4 398.6,184.1 397.4,185.8 397.6,188.4 392.7,192.6 392.4,195 385.5,200 389.6,205.6 390,205.8 392.9,204.9 397.8,201 399.1,200.9 402.7,202.5 402.8,202.7 411.3,207.9 413.4,205.1 415,202.5 415.7,200.4 416.3,197.8 417.2,195.8 414.2,196.8 410.8,193.2 413.9,190.1 418.3,193.4 421.5,188.5 422.6,186.2 423,183.7 424,181.5 421.1,177.7 420,175.5 417.6,175.2 414.4,175Z" fill="#ef3b2c"/>
<path d="M413.9,190.1 410.8,193.2 414.2,196.8 417.2,195.8 418.3,193.4Z" fill="#fee0d2"/>
<path d="M402.8,202.7 402.7,202.5 399.1,200.9 397.8,201 392.9,204.9 390,205.8 392.4,214.2 394.8,215.3 396,217.4 403.5,216.7 405.3,218.1 406,217.3 407.4,214.8 408.5,212 411.3,207.9Z" fill="#fee0d2"/>
<path d="M403.5,216.7 396,217.4 395.4,222.4 397.6,223.6 398,223.5 403,221 405.3,218.1Z" fill="#fdd3bf"/>
<path d="M376.1,202.1 371.1,204.1 369.2,208.2 364.9,211.5 365.7,216.3 370,218.9 373.3,218.2 378.2,222.3 376.2,228.3 376.7,231 379.3,231 385.7,227.2 389.1,229.4 392,227.6 393.9,223.3 395.4,222.4 396,217.4 394.8,215.3 392.4,214.2 390,205.8 389.6,205.6 385.5,200 382.5,198.7 376.9,200.9Z" fill="#fca082"/>
<path d="M378.2,222.3 373.3,218.2 370,218.9 365.7,216.3 361.6,220.4 361,223.2 359,224.8 359,230.4 362.1,232.7 366.5,232.2 367.8,233 376.7,230.9 376.2,228.3Z" fill="#fca082"/>
<path d="M343.6,219.4 343.5,223 342.7,228.4 341.5,229.5 341.1,231.2 341,233.5 341.1,235.4 342.5,238 343.1,240.1 342,241.1 342.8,243 342.1,246 341.9,252.4 341.2,255 340.8,261 343,262.5 345,258 345.2,255.3 346,252 346.5,248.6 346.5,246 345.8,244.1 346.6,243.7 347,241 348.4,237.9 347.5,234.1 349.1,233 349.5,231.5 349.9,229 350.5,228 352.5,227 351.5,228.7 351,231 352.3,232.5 353,234.1 352.5,236 354.5,240.5 355.5,238 356.5,240.3 356.5,239.3 360.8,236.8 362.1,232.7 359,230.4 359,224.8 361,223.2 361.6,220.4 365.7,216.3 364.9,211.5 360.6,210 358.3,210.9 355.5,215.8 353.5,216.8 349,215.1 347.1,215.9Z" fill="#fff5f0"/>
<path d="M392,227.6 389.1,229.4 388.7,235.4 392.6,236.1 394,235.5 400.5,231.5 402.5,230.5 407,227.5 404,225.5 401.2,225.6 396.3,225 394,224.5 397.6,223.6 395.4,222.4 393.9,223.3Z" fill="#fca082"/>
<path d="M389.1,229.4 385.7,227.2 379.3,231 387.4,235.8 388.3,235.7 388.7,235.4Z" fill="#fcbba1"/>
<path d="M377,236.1 382,240.1 387.4,235.8 379.3,231 376.7,231Z" fill="#fca082"/>
<path d="M368.1,237.8 367.8,233 366.5,232.2 362.1,232.7 360.8,236.8 363.9,239.9 367,239.3Z" fill="#fcbba1"/>
<path d="M377,236.1 376.7,230.9 367.8,233 368.1,237.8 373.9,240.2Z" fill="#fcbba1"/>
<path d="M382,242 382,240.1 377,236.1 373.9,240.2 374.1,243.5 378.6,245.4Z" fill="#fca082"/>
<path d="M374.1,243.5 373.9,240.2 368.1,237.8 367,239.3 367.8,243.4 372.8,244.5Z" fill="#ef3b2c"/>
<path d="M367,239.3 363.9,239.9 361,244.5 364.7,246.8 367.8,243.4Z" fill="#fca082"/>
<path d="M361,244.5 363.9,239.9 360.8,236.8 356.5,239.3 356.5,240.3 357,241.5 360,243 360,244.5Z" fill="#fdd3bf"/>
<path d="M372.8,244.5 367.8,243.4 364.7,246.8 365.9,250 371,250Z" fill="#fcbba1"/>
<path d="M363.9,253.2 365.9,250 364.7,246.8 361,244.5 360,244.5 360,246 362.3,253.4Z" fill="#fcbba1"/>
<path d="M365.9,250 363.9,253.2 366.8,258.3 372.8,257.6 374.2,253.2 371,250Z" fill="#fcbba1"/>
<path d="M362.5,254 362,257.5 360,261.2 358,264 356.7,266.6 360.7,269.9 360.2,273.9 364,277.1 367.3,267.2 366.8,266.9 364.8,262.4 366.8,258.3 363.9,253.2 362.3,253.4Z" fill="#fcbba1"/>
<path d="M389.1,246.3 382,242 378.6,245.4 374.1,243.5 372.8,244.5 371,250 374.2,253.2 372.8,257.6 374,259.5 381.1,259.5 383.1,254.7 385.1,253.7 386.3,251.6 387.6,250.5Z" fill="#fca082"/>
<path d="M388.3,235.7 387.4,235.8 382,240.1 382,242 389.1,246.3 389.2,246 388.5,238.4 386,237.5 388.4,237.1Z" fill="#fca082"/>
<path d="M396.8,239.4 396.8,238.6 394.1,239.1 391,239 388.5,238.4 389.2,246ZM388.3,235.7 388.4,237.1 391.4,236.5 392.6,236.1 388.7,235.4Z" fill="#ef3b2c"/>
<path d="M397,247.7 399.9,245 396.8,239.4 389.2,246 389.1,246.3Z" fill="#fcbba1"/>
<path d="M411.3,244.2 414,242 410,240 407.2,239 404,238.5 400.9,238.7 396.8,238.6 396.8,239.4 399.9,245 402.9,245.7 404.5,244.2Z" fill="#fca082"/>
<path d="M419,247.5 417,244 414,242 411.3,244.2 404.5,244.2 402.9,245.7 399.9,245 397,247.7 389.1,246.3 387.6,250.5 386.3,251.6 385.1,253.7 388.8,259.3 393.7,260 395,262 402.6,265.4 402.9,265.8 407.4,262.8 409.6,256.9 414,256.3 414,250.9 419.6,248.1Z" fill="#fee0d2"/>
<path d="M364,277.1 360.2,273.9 360.7,269.9 356.7,266.6 354,271.5 351.2,273.8 353.8,276.2 354.5,280 355.5,284 358,282.9 362.5,279 365,277.5 367.4,278.9 370,280 373,279.6 376.2,278.8 379,277.8 382.5,276.2 386,275.5 388.6,275.6 392.4,274.6 393.5,273.5 395.3,273 402.5,267.1 402.9,265.8 402.6,265.4 395,262 393.7,260 388.8,259.3 385.1,253.7 383.1,254.7 381.1,259.5 374,259.5 372.8,257.6 366.8,258.3 364.8,262.4 366.8,266.9 367.3,267.2Z" fill="#fee0d2"/>
<path d="M348.5,437.5 343.5,444.5 341.1,446 339,448.3 334,448.7 331,450.5 330.5,453.8 333,454.8 335,453.5 338,452.5 340.5,455.5 343.5,458 346,454 348,450 352,448 354.7,447.3 357,445.8 359.3,445.5 362,444.5 364.7,444.5 365.4,439.4 364.5,438.5 364.5,436 366.5,434 366.5,430.4 364.8,428.9 364.8,425.6 364.5,425.3 364.5,421.6 362.2,419.8 360.5,421 359.2,423 358.5,425.5 355.8,430 352.5,434.2 350.1,435.6Z" fill="#cb181d"/>
<path d="M366.9,416.4 366.5,417 364,418.5 362.2,419.8 364.5,421.6 364.5,425.3 364.8,425.6 364.8,428.9 366.5,430.4 370.6,429.3 372.7,426.4 373.1,426.2 371.4,419.5 371.1,419.3 368.6,419.1Z" fill="#fcbba1"/>
<path d="M371.4,419.5 373.1,426.2 374.1,426.3 376.1,424.8 377.4,421.9 380,420.5 380.1,419.9 382.5,418.2 384,414.8 378,413.5 373,413 368.5,414.2 366.9,416.4 368.6,419.1 371.1,419.3Z" fill="#fb6a4a"/>
<path d="M373.1,426.2 372.7,426.4 370.6,429.3 366.5,430.4 366.5,434 364.5,436 364.5,438.5 365.4,439.4 368.2,439.9 370.2,438.2 373.7,439 375.8,437.1 375.3,435 374.8,434.3 376,429.5 374.1,426.3Z" fill="#fee0d2"/>
<path d="M381.5,422 380,420.5 377.4,421.9 376.1,424.8 374.1,426.3 376,429.5 379.9,430.5 382.4,428.6 383.6,426.1 386.5,424.3 386.1,420.7 385.7,420.6Z" fill="#fca082"/>
<path d="M364.7,444.5 366,444.5 369.3,445.6 369.8,443 368.2,439.9 365.4,439.4Z" fill="#fb6a4a"/>
<path d="M379,440.8 377.7,438.1 375.8,437.1 373.7,439 370.2,438.2 368.2,439.9 369.8,443 369.3,445.6 373,447.5 377.5,449 380,446.5 380.7,445.5 378.9,443Z" fill="#fca082"/>
<path d="M385,436 385.5,435.8 382.4,428.6 379.9,430.5 376,429.5 374.8,434.3 375.3,435 375.8,437.1 377.7,438.1 379,440.8 383.4,439.4Z" fill="#ef3b2c"/>
<path d="M379,440.8 378.9,443 380.7,445.5 382.5,443 383.4,439.4Z" fill="#fb6a4a"/>
<path d="M383,427.3 382.4,428.6 385.5,435.8 389.6,434.2 387.7,430Z" fill="#fca082"/>
<path d="M393.8,423.2 390.8,422.9 388.5,424.6 386.5,424.3 383.6,426.1 383,427.3 387.7,430 389.6,434.2 390,434 392.5,432 396,430.5 397.8,430.5 397.3,427.3 394.2,424.7Z" fill="#cb181d"/>
<path d="M386.1,420.7 386.5,424.3 388.5,424.6 390.8,422.9 389.2,417.2 389.2,416.9 388.7,415.4 387,415.5 384,414.8 382.5,418.2 380.1,419.9 380,420.5 381.5,422 385.7,420.6Z" fill="#fca082"/>
<path d="M397.7,420.4 398.2,419.4 397.8,416.6 396.6,416.1 391.8,417.7 389.2,416.9 389.2,417.2 390.8,422.9 393.8,423.2 394.9,421.6Z" fill="#fb6a4a"/>
<path d="M402.4,419.9 398.2,419.4 397.7,420.4 394.9,421.6 393.8,423.2 394.2,424.7 397.3,427.3 397.8,430.5 398.6,430.5 400.2,430.8 403.9,427.1 403.5,424.6 404.2,423.4Z" fill="#fb6a4a"/>
<path d="M408.6,416.7 405.9,413.2 402.5,412.5 401.2,413.8 400,414.1 397.8,416.6 398.2,419.4 402.4,419.9 404.2,423.4 408.1,422 408.1,417.4Z" fill="#fb6a4a"/>
<path d="M401.2,413.8 402.5,412.5 402.5,411.7 398.3,406.5 392.5,412.5 390.5,415.3 388.7,415.4 389.2,416.9 391.8,417.7 396.6,416.1 397.8,416.6 400,414.1Z" fill="#67000d"/>
<path d="M406.6,405.6 404.9,403.9 400.8,404.4 404.2,408.7 405.9,408.3Z" fill="#67000d"/>
<path d="M404.2,408.7 400.8,404.4 398.3,406.5 402.5,411.7Z" fill="#67000d"/>
<path d="M405.9,413.2 408,410 405.9,408.3 404.2,408.7 402.5,411.7 402.5,412.5Z" fill="#fb6a4a"/>
<path d="M405.9,413.2 408.6,416.7 412.2,415.4 412.7,414.1 411.9,410 408,410Z" fill="#fb6a4a"/>
<path d="M406.1,397.2 402.3,396.5 402,396.9 401.2,401.3 404.5,401 400.9,404.3 404.9,403.9 406.6,405.6 409.1,405.2 407.4,409.4 408,410 411.9,410 413,407.7 412.2,405.2 411.6,404.6 410.2,399.8 407.8,398.9Z" fill="#ef3b2c"/>
<path d="M404.2,423.4 403.5,424.6 403.9,427.1 400.2,430.8 401,431 406,433 407.3,435.4 408.3,437.8 410,434.5 413,433 417.5,433.5 420,432.9 420.6,427.2 419.8,427.1 414.7,422.9 414.6,422.3 409,422.7 408.1,422Z" fill="#fca082"/>
<path d="M426.8,428.5 421.2,426.9 420.6,427.2 420,432.9 424.5,432.1 427,431.5 427.9,431.2Z" fill="#ef3b2c"/>
<path d="M411.6,404.6 412.2,405.2 413,407.7 411.9,410 412.7,414.1 412.2,415.4 415.7,419.9 419.4,419.2 421.8,420.4 424.8,419.7 426.1,420.1 431.1,418.1 431.7,414 431.4,413.2 431.5,409.6 431.3,409.3 429.9,408.2 428.5,402.7 424.4,403.1 420.9,398.6 419,399.1 415,396.7 410.2,399.8Z" fill="#ef3b2c"/>
<path d="M421.8,420.4 419.4,419.2 415.7,419.9 414.6,422.3 414.7,422.9 419.8,427.1 420.6,427.2 421.2,426.9Z" fill="#fca082"/>
<path d="M426.1,420.1 424.8,419.7 421.8,420.4 421.2,426.9 426.8,428.5 427.9,426.3Z" fill="#fcbba1"/>
<path d="M433.2,423.9 433.6,421.2 431.1,418.1 426.1,420.1 427.9,426.3Z" fill="#fca082"/>
<path d="M429.3,401.1 426.3,397.3 421.4,398.1 420.9,398.6 424.4,403.1 428.5,402.7Z" fill="#fb6a4a"/>
<path d="M436.4,428.3 435.6,429 437.3,429.2Z" fill="#fca082"/>
<path d="M370,345 367,348 359,353 356.3,355.3 360,356.2 364,355.4 368,354 372.2,353 372.8,356 371.6,363 371.4,365.5 378.3,364.4 378.4,363.3 376.7,359.9 377.9,356.9 380.9,355.8 381.8,354 380.9,352.2 378.4,351.3 377.3,346.6 377.5,346.2 377.5,344.5 372.7,339.7 371.5,341Z" fill="#fb6a4a"/>
<path d="M384.7,342.9 385.3,337.9 381.2,334.5 380.5,334.5 377.5,335.6 374.5,337.5 372.7,339.7 377.5,344.5 377.5,346.2 377.3,346.6 378.4,351.3 380.9,352.2 383.1,347.8 383.9,343.3Z" fill="#fca082"/>
<path d="M389.1,337.8 385.3,337.9 384.7,342.9 383.9,343.3 383.1,347.8 380.9,352.2 381.8,354 386,354 389.5,353.3 390.1,348.5 389.3,347.6 389.9,343.9 390.2,343.6Z" fill="#fca082"/>
<path d="M389.1,337.8 390.2,343.6 390.5,343.5 394.3,344.7 397,342.5 395.5,338.5 395.5,338.1 390.8,335.8Z" fill="#ef3b2c"/>
<path d="M394.3,344.7 390.5,343.5 390.2,343.6 389.9,343.9 389.3,347.6 390.1,348.5 389.5,353.3 392.9,355.2 394.3,351.7 398.5,351.2 400.4,348.5 399.9,348 395.5,347Z" fill="#fca082"/>
<path d="M377.9,356.9 376.7,359.9 378.4,363.3 378.3,364.4 380.1,367.3 380,368.4 381.6,371.2 379.4,376.8 380.8,378.5 380.2,382.8 382.1,385 381.9,388.2 385.2,389.8 385.3,393.4 388.7,394.8 390.1,394.2 390.4,394.4 393.2,393.9 395.2,388.7 395,387.8 395.1,387.6 393.5,382.5 394.7,380.3 393.2,376.4 394.7,372 394.6,371.8 394.8,367 391.4,364.7 391.6,359 393.4,357.5 393.5,356.9 392.9,355.2 389.5,353.3 386,354 381.7,354 380.9,355.8Z" fill="#fff5f0"/>
<path d="M371.3,366.5 370.5,370.5 369,373.5 367,376.5 364,379 360,381.5 358.8,382.1 359.9,383.8 364.6,385.2 366.8,383.6 370.8,385.2 373.8,382.2 376.4,383.4 380.2,382.8 380.8,378.5 379.4,376.8 381.6,371.2 380,368.4 380.1,367.3 378.3,364.4 371.4,365.5Z" fill="#fca082"/>
<path d="M380.4,389.8 381.9,388.2 382.1,385 380.2,382.8 376.4,383.4 373.8,382.2 370.8,385.2 366.8,383.6 364.6,385.2 359.9,383.8 358.8,388.2 359.8,390 356.9,394.5 356.8,395.7 359,396 362.5,397.5 362.8,397.8 368.2,393.7 370.2,394.9 373.9,393.1 375.9,394.6 377.8,394.1 380.1,389.9Z" fill="#fca082"/>
<path d="M356,383.5 352,384.5 348,386 344.5,387.5 342,389.5 343,392 345,395 348,396.5 351.5,397.5 355,395.5 356.8,395.7 356.9,394.5 359.8,390 358.8,388.2 359.9,383.8 358.8,382.1Z" fill="#fdd3bf"/>
<path d="M362.8,397.8 365,400.5 368.5,398.5 370.9,398.4 370.2,394.9 368.2,393.7Z" fill="#ef3b2c"/>
<path d="M370.9,398.4 372,398.3 374,399 375.2,397.8 375.9,394.6 373.9,393.1 370.2,394.9Z" fill="#ef3b2c"/>
<path d="M375.2,397.8 379.5,399.2 379.8,399 380.2,396 377.8,394.1 375.9,394.6Z" fill="#fca082"/>
<path d="M379.5,399.2 375.2,397.8 374,399 376.5,400.5 379,401.7Z" fill="#fb6a4a"/>
<path d="M382.9,395.1 380.2,396 379.8,399 383.5,399.5 384.5,397.9Z" fill="#ef3b2c"/>
<path d="M379.8,399 379.5,399.2 379,401.7 381,403.5 383.3,404 384,401.7 383.5,399.5Z" fill="#fca082"/>
<path d="M383.1,394.6 382.9,395.1 384.5,397.9 387,397.6 388.7,394.8 385.3,393.4Z" fill="#fdd3bf"/>
<path d="M384.5,397.9 383.5,399.5 384,401.7 387.9,400.9 388.3,400 387,397.6Z" fill="#fb6a4a"/>
<path d="M387.9,400.9 384,401.7 383.3,404 386,404.5 388.9,404.3Z" fill="#99000d"/>
<path d="M388.7,394.8 387,397.6 388.3,400 391.8,399.5 390.4,394.4 390.1,394.2Z" fill="#fb6a4a"/>
<path d="M388.3,400 387.9,400.9 388.9,404.3 390,404.2 393.1,403.3 391.8,399.5Z" fill="#fb6a4a"/>
<path d="M391.8,399.5 395.1,397.8 394.8,394.9 393.2,393.9 390.4,394.4Z" fill="#fcbba1"/>
<path d="M393.1,403.3 396.2,402.5 396.7,398.9 395.1,397.8 391.8,399.5Z" fill="#fca082"/>
<path d="M394.8,394.9 395.1,397.8 396.7,398.9 396.2,402.5 401.2,401.3 402,396.9 402.3,396.5 401,393.9 400.1,393.6 395.2,388.7 393.2,393.9Z" fill="#fca082"/>
<path d="M398.5,351.2 394.3,351.7 392.9,355.2 393.5,356.9 393.4,357.5 396.9,360.3 395.9,366.1 394.8,367 394.6,371.8 394.7,372 400.4,373 402.5,371.8 403.2,370 407.9,368 411.2,369.2 411.4,369.1 412.6,365.3 410.2,361.7 412,358.1 411.7,357.4 406.4,356.8 405.8,350.9 405.4,350.8 402.1,348.5 400.4,348.5Z" fill="#fb6a4a"/>
<path d="M412.1,351.8 410.8,350.2 409.7,349.8 405.8,350.9 406.4,356.8 411.7,357.4Z" fill="#ef3b2c"/>
<path d="M411.4,382 410.1,378 408.2,376.9 407.6,374.8 402.5,371.8 400.4,373 394.7,372 393.2,376.4 394.7,380.3 393.5,382.5 395.1,387.6 395,387.8 395.2,388.7 400.1,393.6 401,393.9 402.5,390.5 406.8,388.8 405.8,384.3Z" fill="#fb6a4a"/>
<path d="M471.8,366.8 472,368.3 475.7,371.4 477.8,370.2 479.4,367.3 477.9,363.1 474.9,363.3Z" fill="#fdd3bf" stroke-width="0.6"/>
<path d="M413.1,384.7 417.6,388 421.4,385.8 421.4,383.1 417.5,379.8 412.4,382.7Z" fill="#fcbba1"/>
<path d="M407.8,398.9 410.2,399.8 415,396.7 414.5,393.1 409.5,391.2 406.1,397.2Z" fill="#fca082"/>
<path d="M485.2,380.6 488.7,382.5 489.4,382.3 492.3,378.8 490.6,375.3 489.8,375 484.7,377.9Z" fill="#fca082" stroke-width="0.6"/>
<path d="M447,404.7 442.9,407.5 442.3,409.9 446.4,412.9 448.1,412.6 449.7,406.6 449.3,405.6Z" fill="#cb181d"/>
<path d="M464.5,408.1 463.2,408.2 459.9,412 461.9,415.7 466.4,412.3 465.9,408.9Z" fill="#fb6a4a"/>
<path d="M499.2,363 495.7,365.2 495.9,367 499.9,369.9 502.4,369.8 503,367 502.9,365.1Z" fill="#fcbba1" stroke-width="0.6"/>
<path d="M488.1,372.1 489.8,375 490.6,375.3 493.8,372.7 493.2,369.3 489.8,368.3 489.2,368.6Z" fill="#fcbba1" stroke-width="0.6"/>
<path d="M451.7,426.5 446.5,423.1 444.4,425.4 444.6,429.7 452.3,429.2Z" fill="#fca082"/>
<path d="M488,358 490.5,357.3 491.6,354.8 490.6,352.9 486.6,352 485.5,356.5Z" fill="#ef3b2c" stroke-width="0.6"/>
<path d="M422.3,360.4 420.4,356.4 419,356.1 416,359 417,361.9 421.1,362Z" fill="#fca082"/>
<path d="M469.3,413.5 469.8,416.6 475.5,418.6 476,414 473,410.7Z" fill="#fca082"/>
<path d="M429.1,385.1 430.6,382.3 426.8,377.4 425.9,377.8 421.4,383.1 421.4,385.8 422.4,386.3Z" fill="#fca082"/>
<path d="M430.6,382.3 429.1,385.1 430.1,388.8 435,389.8 435.2,382.7 434.6,382.2Z" fill="#fb6a4a"/>
<path d="M445.6,358.6 442.2,358.4 439.7,363.2 440,365.6 441.2,366.8 445.2,366.4 448.4,361.1Z" fill="#ef3b2c"/>
<path d="M472.5,423.6 468.1,422.7 465.1,425.5 465.6,429.1 470,429.8 473.8,428.8Z" fill="#fca082"/>
<path d="M466.4,372.3 466.8,375.2 467.6,376.1 474.7,375.1 475.7,371.4 472,368.3Z" fill="#cb181d" stroke-width="0.6"/>
<path d="M448.1,412.6 452.4,414.7 454.1,412.5 453.5,408.6 449.7,406.6Z" fill="#fdd3bf"/>
<path d="M426.8,377.4 430.6,382.3 434.6,382.2 436.5,375 433.5,373.1 427,376.9Z" fill="#fca082"/>
<path d="M474.7,375.1 477.2,378.4 482.3,376.3 482.5,373.8 477.8,370.2 475.7,371.4Z" fill="#fb6a4a" stroke-width="0.6"/>
<path d="M499.9,369.9 496.6,373.2 497.7,376.5 500.1,377.6 502,372 502.4,369.8Z" fill="#fb6a4a" stroke-width="0.6"/>
<path d="M425.3,371.3 427,376.9 433.5,373.1 432.7,369.2 426.8,368.7Z" fill="#fb6a4a"/>
<path d="M482,425.4 486,423.5 488.9,421.9 486.5,416.8 484.1,415.3 478.6,420.1Z" fill="#fca082"/>
<path d="M457.1,388.6 454.1,387.6 450.5,392.1 455.1,395.1 456,394.9 457.9,392.7Z" fill="#fb6a4a"/>
<path d="M493.2,369.3 495.9,367 495.7,365.2 492.9,362.9 491.1,363.6 489.8,368.3Z" fill="#cb181d" stroke-width="0.6"/>
<path d="M485.1,366.3 483.3,367.7 484.4,371.8 488.1,372.1 489.2,368.6Z" fill="#fb6a4a" stroke-width="0.6"/>
<path d="M459.2,424.3 457.9,428.8 459.5,428.9 462,428.5 465.6,429.1 465.1,425.5 461.1,423.5Z" fill="#fb6a4a"/>
<path d="M465.1,387.2 464.9,383.5 460.2,382.3 458.1,387.9 463.7,388.7Z" fill="#fca082"/>
<path d="M482,394.2 479.1,395.6 479.4,401.1 480.6,401.5 482,401 485.7,397.3Z" fill="#ef3b2c" stroke-width="0.6"/>
<path d="M429.8,355.2 426.4,357.2 425.7,360.5 427.4,362.8 431.1,362.4 433,359.5 433,356.4Z" fill="#fca082"/>
<path d="M427.7,392.2 428.3,393.7 433.4,395.5 434.5,394.8 435,389.9 430.1,388.8Z" fill="#fca082"/>
<path d="M435.3,353.6 434.9,354.9 441.7,357.5 442.5,352.1 439.6,350.4Z" fill="#cb181d"/>
<path d="M441.7,357.5 442.2,358.4 445.6,358.6 448.4,353.5 447.9,351 446.8,350.3 442.5,352.1Z" fill="#cb181d"/>
<path d="M433.5,367.7 432.7,369.2 433.5,373.1 436.5,375 437.9,374.8 441.1,371.7 441.2,366.8 440,365.6Z" fill="#fb6a4a"/>
<path d="M479.8,351.7 486,350.9 486.4,348.5 485.1,348.1 483,347.8 480.4,347.2 477.2,347.4Z" fill="#fca082" stroke-width="0.6"/>
<path d="M438.6,420 440.1,418.1 438.6,414.9 431.7,414 431.1,418.1 433.6,421.2Z" fill="#fb6a4a"/>
<path d="M471.3,397.7 473.7,397.4 475.9,393.9 475.5,392.7 471.3,389.9 468.6,393.8 468.7,394.5Z" fill="#fcbba1" stroke-width="0.6"/>
<path d="M472.5,423.6 473.8,428.8 478,427.3 480.1,426.2 482,425.4 478.6,420.1 475.8,419.2Z" fill="#fb6a4a"/>
<path d="M446.5,423.1 451.7,426.5 455,422.3 453.7,418 453.3,417.7 446.6,421.5Z" fill="#fca082"/>
<path d="M431.1,362.4 433.5,367.7 440,365.6 439.7,363.2 433,359.5Z" fill="#ef3b2c"/>
<path d="M488.6,394.2 490.5,392 492.1,388.3 486.3,388.3 486,388.6 485.8,389Z" fill="#fca082" stroke-width="0.6"/>
<path d="M418.6,369.2 413.8,370.7 414.6,375 417.6,376.5 419.5,375.4 420.5,370.9 419.7,369.8Z" fill="#fcbba1"/>
<path d="M452.4,414.7 453.3,417.7 453.7,418 461.8,416.9 461.9,415.7 459.9,412 458.5,411.2 454.1,412.5Z" fill="#fcbba1"/>
<path d="M438.4,402.5 438.7,402.4 440.5,399.7 440.4,396.7 434.5,394.8 433.4,395.5 432.3,400.1 435.3,402.3Z" fill="#fca082"/>
<path d="M471.8,366.8 474.9,363.3 471.2,359.4 468.1,359.6 466.1,361.2 466.6,363.6Z" fill="#fca082" stroke-width="0.6"/>
<path d="M451.5,375.2 454.8,374.1 454.7,371.5 452.5,367.2 447.8,368.5 447.5,374.1Z" fill="#fca082"/>
<path d="M477.1,378.4 474.7,375.1 467.6,376.1 467.8,381 471.4,383Z" fill="#fb6a4a" stroke-width="0.6"/>
<path d="M431.4,413.2 431.7,414 438.6,414.9 440.3,410.8 436.6,408.8 431.5,409.6Z" fill="#fca082"/>
<path d="M471.2,359.4 474.2,356 472.6,352.8 467.6,352.9 468.1,359.6Z" fill="#fca082" stroke-width="0.6"/>
<path d="M470.5,402.4 475.6,403.1 477.1,401.6 473.7,397.4 471.3,397.7 470.1,400.1Z" fill="#fca082"/>
<path d="M407.6,374.8 408.2,376.9 410.1,378 414.6,375 413.8,370.7 411.4,369.1 411.2,369.2Z" fill="#fcbba1"/>
<path d="M451.5,403.8 455.5,404.3 455.7,404 455.7,400.7 452.6,398.9 452,399.1Z" fill="#fb6a4a"/>
<path d="M461.1,423.5 461.8,416.9 453.7,418 455,422.3 459.2,424.3Z" fill="#cb181d"/>
<path d="M444.4,425.4 446.5,423.1 446.6,421.5 443.9,418.3 440.1,418.1 438.6,420 440.2,424.9Z" fill="#fca082"/>
<path d="M488,362.3 491.1,363.6 492.9,362.9 493.6,360.3 490.5,357.3 488,358Z" fill="#fb6a4a" stroke-width="0.6"/>
<path d="M385.3,337.9 389.1,337.8 390.8,335.8 390.6,333.4 384,334.3 381.2,334.5Z" fill="#cb181d"/>
<path d="M495.4,354.8 496.4,358.6 498.8,359.2 501.1,357.8 499.7,355.8 498,353 497,352.5Z" fill="#cb181d" stroke-width="0.6"/>
<path d="M422.9,355.2 424.2,351.3 423,349.4 419.1,350.2 417.4,352.5 419,356.1 420.4,356.4Z" fill="#fca082"/>
<path d="M471.3,389.9 472.8,386.3 471.4,383 467.8,381 464.9,383.5 465.1,387.2Z" fill="#ef3b2c"/>
<path d="M486,388.6 486.3,388.3 488.7,382.5 485.2,380.6 481.3,384.2Z" fill="#fb6a4a" stroke-width="0.6"/>
<path d="M413.8,370.7 418.6,369.2 418.3,366.4 416.2,363.9 412.6,365.3 411.4,369.1Z" fill="#fca082"/>
<path d="M440.6,389.4 435,389.9 434.5,394.8 440.4,396.7 442.2,394.6 442.2,392.1Z" fill="#fcbba1"/>
<path d="M492.1,388.3 493.7,386.5 489.4,382.3 488.7,382.5 486.3,388.3Z" fill="#fb6a4a" stroke-width="0.6"/>
<path d="M479.7,408.6 480.3,411.9 483.7,414 486.4,409.4 483.2,404.7Z" fill="#fca082"/>
<path d="M441.1,371.7 437.9,374.8 443.1,380.1 443.7,380.2 446.6,374.4Z" fill="#fb6a4a"/>
<path d="M485.8,389 482.3,391.5 482,394.2 485.7,397.3 488.6,394.2Z" fill="#fcbba1" stroke-width="0.6"/>
<path d="M446.6,374.4 443.7,380.2 446.7,383.1 450.5,380.5 451.5,375.2 447.5,374.1Z" fill="#ef3b2c"/>
<path d="M467.8,381 467.6,376.1 466.8,375.2 458.3,377.6 458.3,379.8 460.2,382.3 464.9,383.5Z" fill="#fcbba1"/>
<path d="M427.4,362.8 425.6,365.9 426.8,368.7 432.7,369.2 433.5,367.7 431.1,362.4Z" fill="#fcbba1"/>
<path d="M485.5,363.5 481.8,360.7 478.4,362.4 477.9,363.1 479.4,367.3 483.3,367.7 485.1,366.3Z" fill="#ef3b2c" stroke-width="0.6"/>
<path d="M380.1,389.9 377.8,394.1 380.2,396 382.9,395.1 383.1,394.6 380.4,389.8Z" fill="#fcbba1"/>
<path d="M466.1,361.2 463.9,360.6 460.6,361.7 459,365.2 459.8,367.3 463.4,369.4 463.9,369.4 466.6,363.6Z" fill="#fb6a4a"/>
<path d="M411.6,297.5 408.6,301.1 411.9,305.3 416,304.6 416,299.8Z" fill="#ef3b2c"/>
<path d="M471.3,389.9 475.5,392.7 478.9,389.8 478.4,385.7 472.8,386.3Z" fill="#cb181d" stroke-width="0.6"/>
<path d="M444.4,425.4 440.2,424.9 436.4,428.3 437.3,429.2 443,429.8 444.6,429.7Z" fill="#fcbba1"/>
<path d="M391.6,359 391.4,364.7 394.8,367 395.9,366.1 396.9,360.3 393.4,357.5Z" fill="#fcbba1"/>
<path d="M461.8,417 461.1,423.5 465.1,425.5 468.1,422.7 467.2,419.1Z" fill="#fcbba1"/>
<path d="M459.9,412 463.2,408.2 460.2,406.2 458,408 458.5,411.2Z" fill="#fb6a4a"/>
<path d="M467.6,352.9 472.6,352.8 475.3,347.9 471.5,348.5 468,350.5 466.8,352.1Z" fill="#fca082" stroke-width="0.6"/>
<path d="M419.5,375.4 425.9,377.8 426.8,377.4 427,376.9 425.3,371.3 420.5,370.9Z" fill="#fcbba1"/>
<path d="M439.1,346.7 439.6,350.4 442.5,352.1 446.8,350.3 445.7,345.7 440.6,345.6Z" fill="#cb181d"/>
<path d="M497.7,376.5 493.2,379 496.7,383.1 499.5,379.4 500.1,377.6Z" fill="#fca082" stroke-width="0.6"/>
<path d="M409.5,391.2 414.5,393.1 417.1,389.9 417.6,388 413.1,384.7 408.8,389.9Z" fill="#fca082"/>
<path d="M492.4,350.3 490.3,349.5 488,349 486.4,348.5 486,350.9 486.6,352 490.6,352.9Z" fill="#fdd3bf" stroke-width="0.6"/>
<path d="M463.6,392.9 463.7,388.7 458.1,387.9 457.1,388.6 457.9,392.7 462.5,393.8Z" fill="#fca082"/>
<path d="M408.1,422 409,422.7 414.6,422.3 415.7,419.9 412.2,415.4 408.6,416.7 408.1,417.4Z" fill="#fb6a4a"/>
<path d="M429.8,355.2 428.2,352.2 424.2,351.3 422.9,355.2 426.4,357.2Z" fill="#fb6a4a"/>
<path d="M410.2,361.7 412.6,365.3 416.2,363.9 417,361.9 416,359 412,358.1Z" fill="#fcbba1"/>
<path d="M478.9,389.8 482.3,391.5 485.8,389 486,388.6 481.3,384.2 479.8,384.2 478.4,385.7Z" fill="#fb6a4a" stroke-width="0.6"/>
<path d="M435.2,382.7 438.4,383.2 443.1,380.1 437.9,374.8 436.5,375 434.6,382.2Z" fill="#cb181d"/>
<path d="M448.1,412.6 446.4,412.9 443.9,418.3 446.6,421.5 453.3,417.7 452.4,414.7Z" fill="#fcbba1"/>
<path d="M475.3,407.3 475.6,403.1 470.5,402.4 469.4,404.1 469.6,406.8 473.1,409.1Z" fill="#fca082"/>
<path d="M479.8,384.2 481.3,384.2 485.2,380.6 484.7,377.9 482.3,376.3 477.2,378.4Z" fill="#fb6a4a" stroke-width="0.6"/>
<path d="M436.4,428.3 433.2,423.9 427.9,426.3 426.8,428.5 427.9,431.2 434,428.8 435.6,429Z" fill="#fcbba1"/>
<path d="M476,414 475.5,418.6 475.8,419.2 478.6,420.1 484.1,415.3 483.7,414 480.3,411.9Z" fill="#fb6a4a"/>
<path d="M493.8,372.7 490.6,375.3 492.3,378.8 493.2,379 497.7,376.5 496.6,373.2Z" fill="#fb6a4a" stroke-width="0.6"/>
<path d="M423.8,365.7 425.6,365.9 427.4,362.8 425.7,360.5 422.3,360.4 421.1,362 421.8,364.3Z" fill="#fb6a4a"/>
<path d="M473.1,409.1 469.6,406.8 465.9,408.9 466.4,412.3 469.3,413.5 473,410.7Z" fill="#fcbba1"/>
<path d="M409.6,336.8 408.7,335.4 405.1,336 405.2,340.4 408.8,339.8Z" fill="#fb6a4a"/>
<path d="M446.1,401.8 447,404.7 449.3,405.6 451.5,403.8 452,399.1 448.7,397.9Z" fill="#fca082"/>
<path d="M469.8,416.6 467.2,419.1 468.1,422.7 472.5,423.6 475.8,419.2 475.5,418.6Z" fill="#cb181d"/>
<path d="M446.4,412.9 442.3,409.9 440.3,410.8 438.6,414.9 440.1,418.1 443.9,418.3Z" fill="#ef3b2c"/>
<path d="M484.4,371.8 482.5,373.8 482.3,376.3 484.7,377.9 489.8,375 488.1,372.1Z" fill="#fb6a4a" stroke-width="0.6"/>
<path d="M481.8,360.7 485.5,363.5 488,362.3 488,358 485.5,356.5 482.8,357.6Z" fill="#ef3b2c" stroke-width="0.6"/>
<path d="M448.4,361.1 445.2,366.4 447.8,368.5 452.5,367.2 453.2,364.6 452.1,361.4Z" fill="#fb6a4a"/>
<path d="M489.4,382.3 493.7,386.5 496.7,383.1 493.2,379 492.3,378.8Z" fill="#fcbba1" stroke-width="0.6"/>
<path d="M412,358.1 416,359 419,356.1 417.4,352.5 412.1,351.8 411.7,357.4Z" fill="#fca082"/>
<path d="M433.7,324.6 430.5,327.3 431,328.7 434.9,330 435.8,329.4 436.7,325.6Z" fill="#fca082"/>
<path d="M452,399.1 452.6,398.9 455.1,395.1 450.5,392.1 450.3,392.1 447.9,396 448.7,397.9Z" fill="#ef3b2c"/>
<path d="M401,393.9 402.3,396.5 406.1,397.2 409.5,391.2 408.8,389.9 406.8,388.8 402.5,390.5Z" fill="#fca082"/>
<path d="M486.4,409.4 489.2,409.3 492.2,405.6 492.3,405.1 492,405 489.3,405.3 487,405 484.4,405 483.3,404.8Z" fill="#fca082"/>
<path d="M476,414 480.3,411.9 479.7,408.6 475.3,407.3 473.1,409.1 473,410.7Z" fill="#fca082"/>
<path d="M463.9,369.4 466.4,372.3 472,368.3 471.8,366.8 466.6,363.6Z" fill="#cb181d"/>
<path d="M424.2,351.3 428.2,352.2 431,346.7 429.9,345.4 426,344.9 424.2,345.5 423,349.4Z" fill="#fca082"/>
<path d="M455.5,404.3 451.5,403.8 449.3,405.6 449.7,406.6 453.5,408.6 455.8,406.8Z" fill="#fca082"/>
<path d="M498.8,359.2 499.2,363 502.9,365.1 503,362 501.3,358 501.1,357.8Z" fill="#fcbba1" stroke-width="0.6"/>
<path d="M482,394.2 482.3,391.5 478.9,389.8 475.5,392.7 475.9,393.9 479.1,395.6Z" fill="#fcbba1" stroke-width="0.6"/>
<path d="M432.3,400.1 433.4,395.5 428.3,393.7 426.3,397.3 429.3,401.1Z" fill="#fb6a4a"/>
<path d="M471.3,389.9 465.1,387.2 463.7,388.7 463.6,392.9 468.6,393.8Z" fill="#cb181d"/>
<path d="M461.9,415.7 461.8,417 467.2,419.1 469.8,416.6 469.3,413.5 466.4,412.3Z" fill="#ef3b2c"/>
<path d="M490.5,357.3 493.6,360.3 496.4,358.6 495.4,354.8 491.6,354.8Z" fill="#fca082" stroke-width="0.6"/>
<path d="M447.8,368.5 445.2,366.4 441.2,366.8 441.1,371.7 446.6,374.4 447.5,374.1Z" fill="#fb6a4a"/>
<path d="M453.5,408.6 454.1,412.5 458.5,411.2 458,408 455.8,406.8Z" fill="#fb6a4a"/>
<path d="M459.2,424.3 455,422.3 451.7,426.5 452.3,429.2 457,428.8 457.9,428.8Z" fill="#fdd3bf"/>
<path d="M434.5,334.1 433.3,334.8 434.5,339.9 436,340.4 437,340 439.2,335.2Z" fill="#fb6a4a"/>
<path d="M409.4,309.4 410.2,309.1 411.9,305.3 408.6,301.1 408.2,301.2 405,303.8 404.8,304.8 405.1,306.1Z" fill="#fb6a4a"/>
<path d="M417.5,379.8 421.4,383.1 425.9,377.8 419.5,375.4 417.6,376.5Z" fill="#fcbba1"/>
<path d="M424.9,391.1 427.7,392.2 430.1,388.8 429.1,385.1 422.4,386.3Z" fill="#fdd3bf"/>
<path d="M421.8,333.4 420.5,336.5 422.6,338.8 426,338 423.6,333Z" fill="#fdd3bf"/>
<path d="M493.6,360.3 492.9,362.9 495.7,365.2 499.2,363 498.8,359.2 496.4,358.6Z" fill="#ef3b2c" stroke-width="0.6"/>
<path d="M408.8,389.9 413.1,384.7 412.4,382.7 411.4,382 405.8,384.3 406.8,388.8Z" fill="#fca082"/>
<path d="M416.8,340.5 417.7,337.2 416.8,336 413.6,335.7 412.4,337.1 414,341.5Z" fill="#fb6a4a"/>
<path d="M460.2,382.3 458.3,379.8 454.4,382.4 453.6,386.8 454.1,387.6 457.1,388.6 458.1,387.9Z" fill="#cb181d"/>
<path d="M440.5,399.7 438.7,402.4 442.9,407.5 447,404.7 446.1,401.8Z" fill="#fca082"/>
<path d="M479.1,395.6 475.9,393.9 473.7,397.4 477.1,401.6 479.4,401.1Z" fill="#fca082" stroke-width="0.6"/>
<path d="M414.6,375 410.1,378 411.4,382 412.4,382.7 417.5,379.8 417.6,376.5Z" fill="#fca082"/>
<path d="M422.3,360.4 425.7,360.5 426.4,357.2 422.9,355.2 420.4,356.4Z" fill="#ef3b2c"/>
<path d="M381.9,388.2 380.4,389.8 383.1,394.6 385.3,393.4 385.2,389.8Z" fill="#fca082"/>
<path d="M483.3,367.7 479.4,367.3 477.8,370.2 482.5,373.8 484.4,371.8Z" fill="#fca082" stroke-width="0.6"/>
<path d="M493.2,369.3 493.8,372.7 496.6,373.2 499.9,369.9 495.9,367Z" fill="#fca082" stroke-width="0.6"/>
<path d="M433.2,423.9 436.5,428.3 440.2,424.9 438.6,420 433.6,421.2Z" fill="#fcbba1"/>
<path d="M495.4,354.8 497,352.5 492.4,350.3 490.6,352.9 491.6,354.8Z" fill="#fdd3bf" stroke-width="0.6"/>
<path d="M426.8,318.3 425.1,318.4 425.7,323 427.5,324.5 430.8,320.6Z" fill="#fca082"/>
<path d="M403.2,370 402.5,371.8 407.6,374.8 411.2,369.2 407.9,368Z" fill="#ef3b2c"/>
<path d="M489.8,368.3 491.1,363.6 488,362.3 485.5,363.5 485.1,366.3 489.2,368.6Z" fill="#cb181d" stroke-width="0.6"/>
<path d="M450.5,392.1 454.1,387.6 453.6,386.8 447.2,384.8 447.3,389.6 450.3,392.1Z" fill="#fca082"/>
<path d="M435,389.8 440.6,389.4 440.9,388 438.4,383.2 435.2,382.7Z" fill="#ef3b2c"/>
<path d="M438.9,317.8 435.4,315.8 432.2,320.3 432.3,320.5 437.4,320.7Z" fill="#fcbba1"/>
<path d="M485.5,356.5 486.6,352 486,350.9 479.8,351.7 479.6,354.3 482.8,357.6Z" fill="#fca082" stroke-width="0.6"/>
<path d="M312.4,273.6 312.5,272.9 311,270 308,268.5 305.2,267.5 303,269.5 301,273 299,277.5 292.9,280.5 291.5,282.3 298.6,285.3 299.4,285.2 303.2,281.6 304.6,281.4 308.5,277.5 310.1,277.1Z" fill="#fee0d2"/>
<path d="M329.7,270.8 334.5,266 331.6,263.2 328,262.3 323.4,262 319,262.8 314.6,263.8 311,270 312.5,272.9 312.4,273.6 321,276.7 321.6,276.2 322.1,272.1 325.9,269.3 329.5,270.9Z" fill="#fee0d2"/>
<path d="M308.5,277.5 304.6,281.4 303.2,281.6 299.4,285.2 298.6,285.3 291.5,282.3 286.4,289 288,291 290,293 292.9,294.9 295,297 297.6,299 300.5,300.8 303.4,301.9 307,300 310.5,298.4 312,299 313.3,295.4 309.4,289.5 309.8,287.9 314.2,284.6 314.3,282.1 310.1,277.1Z" fill="#fdd3bf"/>
<path d="M314.3,282.1 314.2,284.6 309.8,287.9 309.4,289.5 313.3,295.4 316.8,293.8 322,291 323.5,285.8 323.8,285.6 320.4,279.3 321,276.7 312.4,273.6 310.1,277.1Z" fill="#fca082"/>
<path d="M336.3,272.6 335.5,270 335.1,266.7 334.5,266 329.7,270.8 329.5,270.9 325.9,269.3 322.1,272.1 321.6,276.2 327.7,277.1 328.8,278.5 331.9,279.1 332.3,279.6 340,281.9 340.4,281.7 339.8,279.6Z" fill="#fca082"/>
<path d="M321.6,276.2 321,276.7 320.4,279.3 323.8,285.6 324.9,285.5 327,286.5 331.7,285.4 332.1,285.6 338.5,283.8 340,281.9 332.3,279.6 331.9,279.1 328.8,278.5 327.7,277.1Z" fill="#fca082"/>
<path d="M333.6,288.4 337.2,289.2 338.5,283.8 332.1,285.6Z" fill="#cb181d"/>
<path d="M332.1,285.6 331.7,285.4 327,286.5 329.6,293.8 330.7,293.6 334.8,294.5 338,293.5 338,290.4 337.2,289.2 333.6,288.4Z" fill="#fcbba1"/>
<path d="M329.6,293.8 327,286.5 324.9,285.5 323.8,285.6 323.5,285.8 322,291 316.8,293.8 313.3,295.4 312,299 313,299.5 315.2,299.5 317,301.5 318.7,304.2 320.5,304.9 321.6,303.2 326.3,301.4 328.7,296.6 328.4,295.2Z" fill="#fb6a4a"/>
<path d="M336.3,301.9 339.5,299.5 340,297.4 338.5,293.9 338,293.5 334.8,294.5 330.7,293.6 329.6,293.8 328.4,295.2 328.7,296.6 326.3,301.4 321.6,303.2 320.5,304.9 321.5,305.2 328,305.5 331.6,307.2 334,305Z" fill="#fca082"/>
<path d="M337.2,289.2 338,290.4 338,293.5 338.5,293.9 340,297.4 340.5,295 341,298.4 342.5,297 343.9,294.9 344.8,291.5 344.5,287.8 342.1,283.3 339,284 340.5,282 340.4,281.7 340,281.9 338.5,283.8Z" fill="#fff5f0"/>
<path d="M331.0,172.5 329.3,174.6 327.0,175.0 326.4,176.4 324.5,179.0 324.8,181.8 326.0,183.0 326.4,184.5 329.0,184.5 328.9,185.9 327.5,187.5 328.8,188.3 331.0,190.0 332.5,190.6 335.0,191.5 336.5,193.1 338.0,194.5 340.8,195.9 341.5,196.0 343.5,194.0 342.3,193.3 340.5,190.5 340.6,188.3 342.0,187.5 340.7,185.0 339.0,184.5 337.3,183.0 337.6,182.4 337.0,180.0 336.5,178.0 335.5,176.0 334.7,173.9 334.0,173.0Z" fill="#fca082" stroke="#2a2422" stroke-width="0.7"/>
<path d="M361.2,333.0 366.2,332.0 371.2,336.2 370.0,341.2 365.0,340.5 360.5,337.5Z" fill="#fee0d2" stroke="#2a2422" stroke-width="0.7"/>
<path d="M431.0,431.5 434.0,430.3 438.0,430.7 441.5,432.5 440.0,435.5 437.0,437.2 433.5,435.0Z" fill="#fca082" stroke="#2a2422" stroke-width="0.7"/>
<path d="M434.2,73.3 435.9,76.9 433.4,77.1 435.2,83.0 432.8,80.3 432.0,81.3 430.8,83.2 429.8,79.1 428.5,77.4 429.2,74.4 426.7,71.5 427.4,69.3 428.5,68.5 428.3,64.4 430.1,67.6 431.1,67.2 431.9,70.3 433.2,71.0Z" fill="#ffffff" stroke="#2a2422" stroke-width="1.25"/>
<path d="M433.3,88.0 433.2,90.7 433.1,95.0 432.2,92.4 431.4,94.1 430.8,91.8 431.1,88.0 431.4,85.9 431.6,83.4 432.2,80.7 432.9,82.1 433.1,85.7Z" fill="#ffffff" stroke="#2a2422" stroke-width="1.25"/>
<path d="M428.6,79.9 428.5,80.9 428.1,82.7 426.0,82.2 425.2,80.7 423.6,80.2 423.2,78.9 424.6,78.3 424.9,76.5 426.8,77.8 428.4,77.8 429.7,78.7Z" fill="#ffffff" stroke="#2a2422" stroke-width="1.25"/>
<path d="M438.5,65.6 438.1,67.9 438.3,70.8 436.7,69.1 436.0,70.2 435.1,68.2 434.1,66.4 434.7,64.5 434.2,61.5 435.4,61.5 436.5,61.0 437.3,63.6Z" fill="#ffffff" stroke="#2a2422" stroke-width="1.25"/>
<path d="M441.0,60.0 441.0,62.2 440.2,63.1 439.2,62.8 438.6,61.6 437.8,60.5 437.8,58.9 438.6,58.4 439.2,58.3 440.4,57.7Z" fill="#ffffff" stroke="#2a2422" stroke-width="1.25"/>
<path d="M442.5,66.2 442.0,66.9 441.2,67.2 440.3,66.9 439.5,66.2 440.2,65.4 441.2,65.0 442.0,65.5Z" fill="#ffffff" stroke="#2a2422" stroke-width="1.25"/>
<path d="M440.4,74.0 440.2,74.8 439.3,75.0 438.7,74.5 438.4,74.0 438.4,73.2 439.3,73.4 440.1,73.2Z" fill="#ffffff" stroke="#2a2422" stroke-width="1.25"/>
<path d="M436.4,82.0 436.4,83.2 435.6,83.2 434.9,83.1 434.5,82.0 435.0,81.1 435.6,80.7 436.2,81.2Z" fill="#ffffff" stroke="#2a2422" stroke-width="1.25"/>
<path d="M418.8,84.3 418.2,84.8 417.6,85.1 417.0,84.7 417.0,83.9 417.6,83.3 418.4,83.5Z" fill="#ffffff" stroke="#2a2422" stroke-width="1.25"/>
<path d="M426.6,106.3 426.0,106.8 425.4,107.2 425.0,106.6 424.9,106.0 425.5,105.7 426.2,105.6Z" fill="#ffffff" stroke="#2a2422" stroke-width="1.25"/>
<path d="M400.8,126.3 402.7,126.8 402.5,128.2 399.2,128.5 398.4,129.4 397.0,132.2 395.8,129.7 394.5,129.8 390.0,131.5 390.7,129.6 392.0,128.1 391.9,126.9 392.7,125.4 395.4,125.3 397.0,125.2 399.5,122.9 401.3,123.5 402.1,124.7Z" fill="#ffffff" stroke="#2a2422" stroke-width="1.25"/>
<path d="M394.9,132.9 394.3,135.4 392.9,134.7 391.9,134.6 391.0,134.1 391.2,132.6 391.1,130.8 392.7,130.1 394.0,127.6 395.5,127.8 394.9,130.4 395.9,131.2Z" fill="#ffffff" stroke="#2a2422" stroke-width="1.25"/>
<path d="M403.5,134.4 403.0,136.4 402.2,137.5 401.5,136.5 401.2,135.5 400.5,134.2 401.1,132.5 401.9,132.4 402.7,131.0 403.4,132.3Z" fill="#ffffff" stroke="#2a2422" stroke-width="1.25"/>
<path d="M399.4,120.8 398.5,121.6 397.5,122.3 396.1,121.9 395.8,120.8 396.3,119.9 397.5,119.3 398.8,119.8Z" fill="#ffffff" stroke="#2a2422" stroke-width="1.25"/>
<path d="M402.2,114.1 402.1,115.2 400.4,115.8 399.3,115.7 397.7,116.2 397.8,115.2 397.0,114.5 398.6,113.8 399.9,113.4 401.8,113.0Z" fill="#ffffff" stroke="#2a2422" stroke-width="1.25"/>
<path d="M410.9,112.4 410.4,113.4 408.8,114.5 407.5,115.5 405.5,116.3 406.0,115.2 404.3,115.3 406.0,113.7 408.0,113.3 410.4,111.8Z" fill="#ffffff" stroke="#2a2422" stroke-width="1.25"/>
<path d="M409.1,120.0 407.9,120.7 407.4,121.6 406.3,121.4 405.7,120.7 405.2,120.0 405.4,119.1 406.2,118.3 407.5,118.2 407.7,119.4Z" fill="#ffffff" stroke="#2a2422" stroke-width="1.25"/>
<path d="M404.2,117.6 404.1,119.5 403.4,119.7 402.9,118.9 402.2,117.6 402.7,115.8 403.4,115.0 404.1,115.8Z" fill="#ffffff" stroke="#2a2422" stroke-width="1.25"/>
<path d="M404.2,123.7 404.2,124.7 403.0,124.7 402.3,124.3 401.8,123.7 402.0,122.8 403.0,122.4 403.9,122.9Z" fill="#ffffff" stroke="#2a2422" stroke-width="1.25"/>
<path d="M411.7,111.6 411.5,112.1 410.9,112.1 410.3,111.9 410.3,111.3 410.9,111.1 411.4,111.2Z" fill="#ffffff" stroke="#2a2422" stroke-width="1.25"/>
<path d="M317.0,458.0 316.6,458.7 315.7,459.0 315.4,458.3 315.1,457.6 315.7,457.0 316.6,457.4Z" fill="#ffffff" stroke="#2a2422" stroke-width="1.25"/>
<path d="M336.0,215.2 334.5,216.9 334.2,218.5 329.4,218.2 329.7,220.7 327.4,222.8 324.9,220.5 324.1,219.0 318.3,221.4 318.4,219.2 321.3,217.2 318.0,216.1 317.0,214.0 323.1,214.5 322.6,211.5 325.8,211.4 327.7,213.3 329.2,213.7 334.7,211.6 332.3,214.6Z" fill="#fff5f0" stroke="#2a2422" stroke-width="0.95"/>
<path d="M317.0,206.0 316.4,207.1 314.9,208.2 312.7,209.4 311.8,209.1 311.5,208.2 313.9,206.5 316.4,205.4Z" fill="#fff5f0" stroke="#2a2422" stroke-width="0.95"/>
<path d="M312.1,210.8 311.6,211.9 309.8,212.7 308.4,213.1 306.9,213.2 307.1,212.2 309.2,211.3 310.6,210.8Z" fill="#fff5f0" stroke="#2a2422" stroke-width="0.95"/>
<path d="M340.8,233.4 342.2,236.6 343.4,239.9 343.3,241.4 342.8,242.0 341.5,240.7 339.8,238.8 338.4,234.5 336.2,230.9 335.1,227.3 335.2,225.7 336.5,226.8 337.1,225.8 339.3,231.2Z" fill="#fff5f0" stroke="#2a2422" stroke-width="0.95"/>
<path d="M333.5,243.5 332.6,244.8 332.3,246.5 331.0,247.9 329.4,246.4 327.7,246.4 324.0,246.5 324.1,243.5 327.0,242.0 327.7,240.4 328.7,237.6 331.4,237.0 332.6,240.0 335.3,240.8Z" fill="#fff5f0" stroke="#2a2422" stroke-width="0.95"/>
<path d="M334.0,231.0 333.4,232.2 332.5,232.5 331.3,232.6 330.7,231.0 331.4,229.5 332.5,228.8 333.4,229.9Z" fill="#fff5f0" stroke="#2a2422" stroke-width="0.95"/>
<path d="M353.4,241.0 353.9,243.5 353.5,244.9 352.3,243.5 351.5,242.5 350.7,240.9 350.1,238.6 350.9,237.6 352.2,239.2Z" fill="#fff5f0" stroke="#2a2422" stroke-width="0.95"/>
<path d="M353.5,252.0 353.8,254.7 352.8,256.6 351.3,256.7 350.1,255.7 349.4,254.0 348.6,252.0 348.9,249.5 350.2,248.5 351.3,247.4 353.0,246.7 354.0,249.2Z" fill="#fcbba1" stroke="#2a2422" stroke-width="0.7"/>
<path d="M332.2,196.5 332.0,197.8 330.6,198.2 329.2,198.8 327.5,198.1 326.8,196.5 328.1,195.3 329.4,194.8 330.8,194.4 332.2,195.1Z" fill="#fca082" stroke="#2a2422" stroke-width="0.7"/>
<path d="M335.4,200.5 334.5,201.3 333.7,201.9 333.0,201.1 332.9,199.9 333.8,199.6 334.5,199.8Z" fill="#fca082" stroke="#2a2422" stroke-width="0.7"/>
<path d="M342.4,181.3 342.7,183.4 342.0,184.1 341.1,183.4 340.3,181.7 340.1,179.2 340.9,178.0 342.0,179.2Z" fill="#fca082" stroke="#2a2422" stroke-width="0.7"/>
<path d="M433.7,73.9 432.5,75.2 432.4,77.7 431.6,78.2 431.0,77.4 430.0,80.0 429.4,78.9 429.8,76.1 428.6,75.6 430.0,73.4 429.5,71.2 430.2,69.8 431.0,69.5 431.5,70.9 432.6,67.3 432.8,69.3 432.9,71.0 432.9,72.4Z" fill="#ffffff" stroke="#2a2422" stroke-width="1.25"/>
<path d="M433.0,87.8 432.5,89.8 431.5,91.8 431.4,90.7 430.8,91.1 431.2,89.2 431.5,87.3 432.5,85.4 433.6,83.0 433.6,84.7 433.5,85.5 433.6,86.2Z" fill="#ffffff" stroke="#2a2422" stroke-width="1.25"/>
<path d="M428.1,79.9 427.6,80.2 426.9,80.3 425.8,80.9 424.8,80.0 425.6,79.0 425.5,78.3 425.6,77.4 426.6,77.2 427.5,77.8 428.3,78.4 429.0,79.3Z" fill="#ffffff" stroke="#2a2422" stroke-width="1.25"/>
<path d="M437.7,65.8 437.2,67.2 436.6,67.5 436.2,67.5 435.7,67.6 435.2,67.0 435.4,65.4 435.9,64.2 436.4,63.0 437.1,62.4 437.1,64.1 437.6,64.4Z" fill="#ffffff" stroke="#2a2422" stroke-width="1.25"/>
<path d="M440.4,60.1 440.1,61.5 439.5,61.1 438.9,61.5 438.7,60.8 438.9,59.8 438.9,58.4 439.5,58.1 440.1,58.1 440.2,59.1Z" fill="#ffffff" stroke="#2a2422" stroke-width="1.25"/>
<path d="M399.6,127.2 399.5,127.7 399.8,128.5 399.1,129.1 397.9,129.5 396.9,128.4 395.1,129.2 393.6,128.8 394.9,127.5 394.9,127.0 394.7,126.4 394.3,125.5 396.3,126.0 396.8,125.3 397.9,125.3 399.7,124.8 399.4,126.1 400.7,126.5Z" fill="#ffffff" stroke="#2a2422" stroke-width="1.25"/>
<path d="M394.2,132.3 393.4,133.5 392.3,133.7 392.5,132.6 392.3,132.2 392.1,131.6 392.6,130.5 393.7,130.3 394.5,130.1 395.6,129.8 394.9,131.0 395.5,131.6Z" fill="#ffffff" stroke="#2a2422" stroke-width="1.25"/>
<path d="M402.7,134.1 402.4,134.8 401.9,135.1 401.4,135.4 401.4,134.6 401.5,133.5 402.2,132.8 402.7,132.7 402.9,132.9 403.3,133.1Z" fill="#ffffff" stroke="#2a2422" stroke-width="1.25"/>
<path d="M401.3,114.5 400.9,115.0 400.1,115.3 399.2,115.4 399.1,114.6 398.9,114.3 398.7,113.8 399.5,113.6 400.2,113.8 400.8,114.0Z" fill="#ffffff" stroke="#2a2422" stroke-width="1.25"/>
<path d="M409.5,113.6 410.1,114.0 409.0,114.5 407.5,114.8 406.7,114.4 406.1,114.2 406.8,113.7 407.4,113.3 408.5,113.2 409.5,113.2Z" fill="#ffffff" stroke="#2a2422" stroke-width="1.25"/>
<path d="M337.4,142.5 337.4,144.1 336.9,146.1 338.2,148.6 337.0,150.3 336.4,151.5 335.4,152.6 334.0,155.0 332.3,157.3 331.5,159.2 332.6,160.3 331.2,161.2 328.8,161.8 329.2,163.6 327.0,165.0 325.8,165.4 324.0,167.5 322.0,168.7 321.9,169.9 320.0,171.0 317.9,173.0 316.3,175.8 316.5,177.0 315.2,179.2 315.5,181.6 315.2,183.0 314.3,186.1 314.0,187.0 313.5,189.1 313.2,191.0 313.1,192.5 311.0,195.0 310.6,196.6 308.5,198.8 306.8,201.2 304.9,202.7 304.6,203.4 306.0,202.3 306.0,199.5 305.9,197.0 307.7,195.6 308.9,193.9 307.8,193.0 309.5,191.0 310.6,190.4 309.6,187.3 310.8,186.2 311.8,183.6 310.8,182.6 311.5,181.0 311.4,179.0 311.6,176.9 311.3,175.2 309.3,173.0 311.0,172.2 312.0,171.0 312.8,169.9 314.8,169.0 317.2,168.4 317.5,166.0 319.4,163.6 319.5,161.8 319.2,160.2 317.9,158.0 319.0,155.0 319.8,153.5 321.0,151.9 321.8,150.9 324.0,149.5 325.2,149.4 327.2,148.0 329.3,148.1 330.0,146.0 332.5,144.0 333.5,144.0 335.9,143.9Z" fill="#ffffff" stroke="#222" stroke-width="1.05"/>
<path d="M361.0,140.0 362.4,141.9 363.0,143.0 366.0,144.0 368.0,144.5 370.0,145.5 372.1,145.2 375.0,145.0 377.4,144.1 380.0,144.0 382.1,143.6 385.0,142.5 389.0,143.0 392.5,141.0 395.1,139.7 397.5,138.8 398.5,143.0 397.2,146.4 396.0,149.0 395.0,151.3 393.2,153.0 392.0,155.0 390.5,156.6 388.7,158.8 387.0,161.0 385.3,162.2 383.0,164.0 380.0,166.2 382.1,168.1 384.0,169.5 382.0,171.6 380.5,173.0 378.0,176.5 377.0,178.8 380.0,178.6 383.0,177.5 387.0,175.8 391.0,174.0 393.8,173.9 396.0,174.6 400.0,175.0 402.7,174.4 405.0,174.5 408.5,174.7 412.0,175.0 414.4,175.0 417.6,175.2 420.0,175.5 421.1,177.7 422.6,179.7 424.0,181.5 423.0,183.7 422.6,186.2 421.5,188.5 420.2,190.5 418.4,193.2 417.5,195.0 416.3,197.8 415.7,200.4 415.0,202.5 413.4,205.1 412.0,207.0 410.3,209.3 408.5,212.0 407.4,214.8 406.0,217.3 403.0,221.0 400.6,222.2 398.0,223.5 394.0,224.5 396.3,225.0 399.0,225.3 401.2,225.6 404.0,225.5 407.0,227.5 404.9,228.9 402.5,230.5 400.5,231.5 398.0,233.0 394.0,235.5 391.4,236.5 389.0,237.0 386.0,237.5 388.4,238.4 391.0,239.0 394.1,239.1 397.0,238.5 400.9,238.7 404.0,238.5 407.2,239.0 410.0,240.0 414.0,242.0 417.0,244.0 419.0,247.5 420.9,249.5 422.5,251.0 423.7,253.5 425.0,256.0 426.2,258.9 427.5,261.0 428.1,263.9 429.0,267.0 429.1,270.4 430.0,274.0 430.6,277.8 431.0,281.0 432.3,283.4 433.0,286.0 435.0,289.0 437.9,289.8 440.0,291.0 442.3,292.1 443.9,293.3 446.0,295.0 448.3,297.1 449.7,298.7 452.0,300.5 454.6,302.5 457.5,304.5 456.0,308.5 457.5,310.4 459.0,313.0 460.8,315.3 462.0,318.0 463.7,320.4 465.5,323.5 461.0,322.5 458.1,322.0 456.0,322.0 452.0,322.5 454.9,324.1 458.0,325.0 460.6,326.0 462.5,327.0 464.2,329.4 466.0,331.5 467.5,333.6 468.5,336.0 469.8,340.0 469.1,342.4 468.0,345.0 466.3,347.2 464.5,349.0 463.0,352.0 466.0,353.0 468.0,350.5 471.5,348.5 474.5,348.1 477.5,347.3 480.4,347.2 483.0,347.8 485.1,348.1 488.0,349.0 490.3,349.5 493.0,350.5 495.1,351.5 498.0,353.0 499.7,355.8 501.3,358.0 503.0,362.0 502.9,364.4 503.0,367.0 502.4,369.6 502.0,372.0 500.5,376.5 499.5,379.4 498.0,381.5 496.2,383.7 494.5,385.5 492.0,388.5 490.5,392.0 487.5,395.5 484.5,398.5 482.0,401.0 478.0,402.5 482.0,404.5 484.4,405.0 487.0,405.0 489.3,405.3 492.0,405.0 494.8,405.7 497.5,406.0 498.5,409.5 497.5,413.0 495.8,415.1 494.0,417.5 492.0,419.0 490.0,421.3 486.0,423.5 483.0,425.0 480.1,426.2 478.0,427.3 474.0,428.8 470.0,429.8 466.0,429.2 462.0,428.5 459.5,428.9 457.0,428.8 454.1,429.0 452.0,429.2 447.5,429.5 443.0,429.8 438.5,429.3 434.0,428.8 431.0,430.0 427.0,431.5 424.5,432.1 422.0,432.5 417.5,433.5 413.0,433.0 410.0,434.5 408.3,437.8 407.3,435.4 406.0,433.0 403.6,432.0 401.0,431.0 398.6,430.5 396.0,430.5 392.5,432.0 390.0,434.0 387.5,435.1 385.0,436.0 383.5,439.0 382.5,443.0 380.0,446.5 377.5,449.0 373.0,447.5 369.0,445.5 366.0,444.5 362.0,444.5 359.3,445.5 357.0,445.8 354.7,447.3 352.0,448.0 348.0,450.0 346.0,454.0 343.5,458.0 340.5,455.5 338.0,452.5 335.0,453.5 333.0,454.8 330.5,453.8 331.0,450.5 334.0,448.7 336.3,448.5 339.0,448.3 341.1,446.0 343.5,444.5 346.0,441.0 348.5,437.5 350.1,435.6 352.5,434.2 354.4,431.8 355.8,430.0 357.3,427.5 358.5,425.5 359.2,423.0 360.5,421.0 364.0,418.5 366.5,417.0 368.5,414.2 373.0,413.0 375.6,413.3 378.0,413.5 382.0,414.3 384.5,414.9 387.0,415.5 390.5,415.3 392.5,412.5 395.5,409.3 398.5,406.3 401.5,403.8 404.5,401.0 401.0,401.3 397.0,402.3 393.0,403.3 390.0,404.2 386.0,404.5 383.3,404.0 381.0,403.5 379.1,401.8 376.5,400.5 374.4,399.2 372.0,398.3 368.5,398.5 365.0,400.5 362.5,397.5 359.0,396.0 355.0,395.5 351.5,397.5 348.0,396.5 345.0,395.0 343.0,392.0 342.0,389.5 344.5,387.5 348.0,386.0 352.0,384.5 356.0,383.5 360.0,381.5 364.0,379.0 367.0,376.5 369.0,373.5 370.5,370.5 371.3,366.5 371.6,363.0 372.2,359.5 372.8,356.0 372.2,353.0 368.0,354.0 364.0,355.4 360.0,356.2 356.3,355.3 359.0,353.0 363.0,350.5 367.0,348.0 370.0,345.0 371.5,341.0 374.5,337.5 377.5,335.6 380.5,334.5 384.0,334.3 388.0,333.8 392.0,333.2 395.5,332.6 396.0,330.5 395.0,327.0 395.8,322.3 395.8,318.4 396.6,314.5 398.9,310.6 398.9,306.7 395.9,307.4 393.4,308.3 391.9,305.2 390.8,303.2 390.3,300.5 388.6,297.9 387.2,295.8 385.6,292.7 384.8,290.3 385.6,285.6 386.6,283.2 388.0,281.0 391.0,277.8 393.5,276.2 395.8,273.9 393.7,274.2 391.0,275.0 388.6,275.6 386.0,275.5 382.5,276.2 379.0,277.8 376.2,278.8 373.0,279.6 370.0,280.0 367.4,278.9 365.0,277.5 362.5,279.0 360.0,281.2 358.0,282.9 355.5,284.0 354.5,280.0 353.8,276.2 351.2,273.8 354.0,271.5 356.2,267.5 358.0,264.0 360.0,261.2 362.0,257.5 362.5,254.0 361.2,250.0 360.0,246.0 360.0,243.0 357.0,241.5 355.5,238.0 354.5,240.5 353.5,238.2 352.5,236.0 353.0,234.1 352.3,232.5 351.0,231.0 351.5,228.7 352.5,227.0 350.5,228.0 349.9,229.0 349.5,231.5 349.1,233.0 347.5,234.1 348.0,236.5 348.4,237.9 347.0,241.0 346.6,243.7 345.8,244.1 346.5,246.0 346.5,248.6 346.0,252.0 345.2,255.3 345.0,258.0 344.1,260.1 343.0,262.5 340.8,261.0 341.0,257.8 341.2,255.0 341.9,252.4 342.0,249.0 342.1,246.0 342.8,243.0 342.0,241.1 343.1,240.1 342.5,238.0 341.1,235.4 341.0,233.5 341.1,231.2 341.5,229.5 342.7,228.4 343.0,226.0 343.5,223.0 343.5,220.5 343.6,218.5 344.5,216.8 341.8,215.4 341.0,214.5 340.5,213.3 338.0,212.0 336.9,211.2 335.5,210.0 334.5,209.5 333.3,207.6 334.1,206.0 336.0,205.3 338.4,204.1 339.0,203.0 341.5,201.0 342.0,200.5 343.5,198.0 343.4,196.4 342.0,195.0 342.7,194.3 343.5,192.0 341.7,190.8 341.5,189.5 342.4,188.4 344.5,188.0 343.0,186.0 344.7,184.3 345.0,183.0 344.6,180.2 343.0,179.5 345.1,179.3 345.0,177.0 344.3,174.3 342.8,173.0 343.9,170.5 344.1,168.3 345.2,167.5 345.7,165.0 348.0,164.0 348.7,163.3 350.7,161.2 351.3,159.8 353.0,157.0 354.2,154.8 356.2,153.4 356.6,150.6 357.7,147.2 358.8,144.4 359.0,143.0 360.6,141.1Z" fill="none" stroke="#33201c" stroke-width="0.75"/>
<path d="M286.4,289.0 289.0,285.5 292.9,280.5 296.0,279.0 299.0,277.5 301.0,273.0 303.0,269.5 305.2,267.5 308.0,268.5 311.0,270.0 313.0,266.5 314.6,263.8 319.0,262.8 323.4,262.0 328.0,262.3 331.6,263.2 335.1,266.7 335.5,270.0 336.3,272.6 338.0,276.0 339.8,279.6 340.5,282.0 339.0,284.0 342.1,283.3 344.5,287.8 344.8,291.5 343.9,294.9 342.5,297.0 341.0,298.4 340.5,295.0 339.5,299.5 336.3,301.9 334.0,305.0 331.6,307.2 328.0,305.5 324.5,305.4 321.5,305.2 318.7,304.2 317.0,301.5 315.2,299.5 313.0,299.5 310.5,298.4 307.0,300.0 303.4,301.9 300.5,300.8 297.6,299.0 295.0,297.0 292.9,294.9 290.0,293.0 288.0,291.0Z" fill="none" stroke="#33201c" stroke-width="0.75"/>
<path d="M380,166.2 374,165.8 369,164 M380.5,173 375,175.5 371,177.5 M377,178.8 373,180 369.5,181.2 M452,322.5 447,322 443,322.8 M478,402.5 473,402 469,402.5 M404.5,401 407,398 408.5,395 M394,224.5 390,224 387,225 M386,237.5 382,236.5 M360,243 364,241.5 367,241" fill="none" stroke="#33201c" stroke-width="0.7"/>
<path d="M334,146 331,150 333,153 M328,152 325,156 327,160 M322,160 320,165 323,167 M318,170 315,175 M313,182 311.5,188 M330,148.5 326,151 M324,159 320,160.5 M317,215.7 321,213.5 325,211 328.7,209.4 M327,218.5 332,220 337,221.5 341,222.5 M330,224 336,224.8 342,224.5 M344.3,221 344.6,228 344.2,237 M347,234 351,229 355,225.5 M350,238 354,233 357.5,229.5 M353.5,241 357,237 360,234 M333,197 336,199.5 335,203 M338,183 341,186 340,190 M346,170 349,172 348,176 M350,158 353,160.5 355.5,159 M322,158 326,156 329,158.5 M316,176 319,178.5 318,183 M312,188 314.5,190 313,194" fill="none" stroke="#2a2422" stroke-width="1.1" stroke-linecap="round" opacity="0.85"/>
</g>
<defs><clipPath id="clipL"><rect x="140" y="40" width="74.8" height="95"/></clipPath></defs>
<g clip-path="url(#clipL)"><text class="lgt" x="145.9" y="55.4" textLength="24.4" lengthAdjust="spacingAndGlyphs">People</text><circle cx="149.7" cy="69.1" r="3.0" fill="#ecebff" stroke="#7466dc" stroke-width="1.1"/>
<text class="lg" x="159.3" y="71.6" textLength="35.2" lengthAdjust="spacingAndGlyphs">0 – 2,000</text>
<circle cx="149.7" cy="82.3" r="3.0" fill="#b9c6f2" stroke="#7f86e2" stroke-width="1.1"/>
<text class="lg" x="159.3" y="84.8" textLength="51.6" lengthAdjust="spacingAndGlyphs">2,000 – 5,000</text>
<circle cx="149.7" cy="95.4" r="3.0" fill="#84a4e4" stroke="#6f8fde" stroke-width="1.1"/>
<text class="lg" x="159.3" y="97.9" textLength="50.4" lengthAdjust="spacingAndGlyphs">5,000 – 7,500</text>
<circle cx="149.7" cy="108.5" r="3.0" fill="#4d80d9" stroke="#4d80d9" stroke-width="1.1"/>
<text class="lg" x="159.3" y="111.0" textLength="52.7" lengthAdjust="spacingAndGlyphs">7,500 – 15,000</text>
<circle cx="149.7" cy="122.1" r="3.0" fill="#2248c8" stroke="#2248c8" stroke-width="1.1"/>
<text class="lg" x="159.3" y="124.6" textLength="58.1" lengthAdjust="spacingAndGlyphs">15,000 – 30,000</text></g>
<text class="lgt" x="471.7" y="55.2" textLength="75.5" lengthAdjust="spacingAndGlyphs">Change in number of</text><text class="lgt" x="471.7" y="63.1" textLength="90.2" lengthAdjust="spacingAndGlyphs">people from present day</text><circle cx="476" cy="77.5" r="3.0" fill="#ffffff" stroke="#8878d8" stroke-width="1.1"/>
<text class="lg" x="485.8" y="80.0" textLength="11.2" lengthAdjust="spacingAndGlyphs">&lt; 0</text>
<circle cx="476" cy="90.6" r="3.0" fill="#f7d9e4" stroke="#b08ac8" stroke-width="1.1"/>
<text class="lg" x="485.8" y="93.1" textLength="35.2" lengthAdjust="spacingAndGlyphs">0 – 2,000</text>
<circle cx="476" cy="103.7" r="3.0" fill="#f2a6a6" stroke="#e08a98" stroke-width="1.1"/>
<text class="lg" x="485.8" y="106.2" textLength="50.4" lengthAdjust="spacingAndGlyphs">2,000 – 5,000</text>
<circle cx="476" cy="116.9" r="3.0" fill="#ee6a68" stroke="#e2606a" stroke-width="1.1"/>
<text class="lg" x="485.8" y="119.4" textLength="49.7" lengthAdjust="spacingAndGlyphs">5,000 – 7,500</text>
<circle cx="476" cy="130.1" r="3.0" fill="#d9304a" stroke="#d9304a" stroke-width="1.1"/>
<text class="lg" x="485.8" y="132.6" textLength="52.3" lengthAdjust="spacingAndGlyphs">7,500 – 15,000</text>
<circle cx="476" cy="143.2" r="3.0" fill="#9c114d" stroke="#9c114d" stroke-width="1.1"/>
<text class="lg" x="485.8" y="145.7" textLength="58.1" lengthAdjust="spacingAndGlyphs">15,000 – 30,000</text>
<circle cx="476" cy="156.3" r="3.0" fill="#47003c" stroke="#47003c" stroke-width="1.1"/>
<text class="lg" x="485.8" y="158.8" textLength="33.5" lengthAdjust="spacingAndGlyphs">&gt; 30,000</text>
<g stroke="#5f5f5f" stroke-width="0.8" fill="none">
<path d="M320.5,95.3 V99.4 H370.8 V95.3 M345.6,97.3 V99.4"/>
</g>
<text class="sb" x="320.5" y="90.6" text-anchor="middle">0</text>
<text class="sb" x="345.6" y="90.6" text-anchor="middle">75</text>
<text class="sb" x="365.5" y="90.6">150 km</text>
<g stroke="#5f5f5f" stroke-width="0.8" fill="none">
<path d="M-3.8999999999999773,95.3 V99.4 H46.40000000000002 V95.3 M21.200000000000024,97.3 V99.4"/>
</g>
<text class="sb" x="21.200000000000024" y="90.6" text-anchor="middle">75</text>
<text class="sb" x="41.10000000000002" y="90.6">150 km</text>
<path d="M298.2,101 L303.9,87 L309.6,101 L303.9,96.2 Z M303.9,87 V96.2" fill="none" stroke="#5f5f5f" stroke-width="1.25" stroke-linejoin="round"/>
<text class="t" x="1.2" y="48.2" textLength="41" lengthAdjust="spacingAndGlyphs">2021</text>
<text class="t" x="352" y="48.2" textLength="48.5" lengthAdjust="spacingAndGlyphs">2050</text>
<text class="t" x="663" y="52.2" textLength="48.2" lengthAdjust="spacingAndGlyphs">2080</text>
</svg>
</body></html>
